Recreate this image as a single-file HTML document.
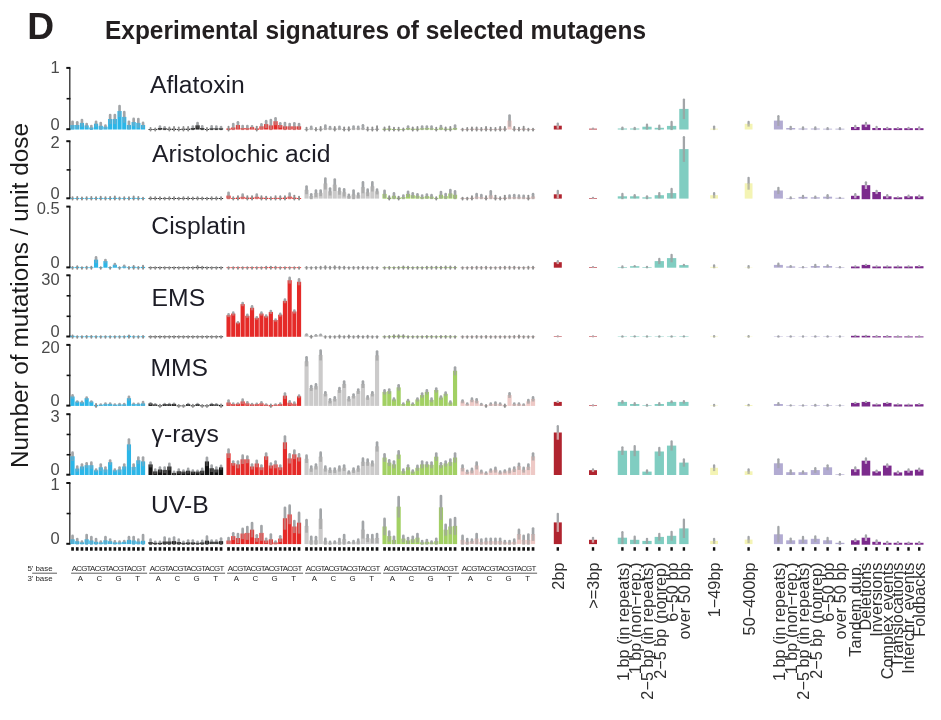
<!DOCTYPE html>
<html lang="en"><head><meta charset="utf-8"><title>Experimental signatures of selected mutagens</title>
<style>html,body{margin:0;padding:0;background:#fff}svg{display:block}</style></head>
<body>
<svg width="941" height="720" viewBox="0 0 941 720" font-family="'Liberation Sans', Arial, Helvetica, sans-serif">
<rect width="941" height="720" fill="#ffffff"/>
<text x="27.3" y="38.8" font-size="37.2" font-weight="bold" fill="#231f20">D</text>
<text x="105" y="38.7" font-size="25.4" font-weight="bold" fill="#231f20" textLength="541" lengthAdjust="spacingAndGlyphs">Experimental signatures of selected mutagens</text>
<text transform="translate(27.6,468) rotate(-90)" font-size="24.6" fill="#1a1a1a" textLength="345" lengthAdjust="spacingAndGlyphs">Number of mutations / unit dose</text>
<line x1="69.8" x2="69.8" y1="67.9" y2="129.5" stroke="#2a2a2a" stroke-width="1.3"/>
<line x1="66.3" x2="70.45" y1="67.9" y2="67.9" stroke="#111" stroke-width="2"/>
<line x1="66.3" x2="70.45" y1="129.2" y2="129.2" stroke="#111" stroke-width="2"/>
<line x1="66.6" x2="70.45" y1="98.7" y2="98.7" stroke="#111" stroke-width="1.6"/>
<text x="59.6" y="72.8" font-size="16.5" fill="#4a4a4a" text-anchor="end">1</text>
<text x="59.6" y="129.6" font-size="16.5" fill="#4a4a4a" text-anchor="end">0</text>
<text x="150.0" y="92.9" font-size="24.7" fill="#1d1d26">Aflatoxin</text>
<g>
<rect x="70.47" y="125" width="4.15" height="4.5" fill="#2bb6e8"/><line x1="72.55" x2="72.55" y1="121.78" y2="125" stroke="#a2a5a8" stroke-width="2.7" stroke-linecap="round"/><line x1="72.55" x2="72.55" y1="125" y2="129.3" stroke="#5caed0" stroke-width="2.7"/>
<rect x="75.17" y="125" width="4.15" height="4.5" fill="#2bb6e8"/><line x1="77.25" x2="77.25" y1="122.28" y2="125" stroke="#a2a5a8" stroke-width="2.7" stroke-linecap="round"/><line x1="77.25" x2="77.25" y1="125" y2="128.8" stroke="#5caed0" stroke-width="2.7"/>
<rect x="79.88" y="122.9" width="4.15" height="6.6" fill="#2bb6e8"/><line x1="81.95" x2="81.95" y1="120.08" y2="122.9" stroke="#a2a5a8" stroke-width="2.7" stroke-linecap="round"/><line x1="81.95" x2="81.95" y1="122.9" y2="126.8" stroke="#5caed0" stroke-width="2.7"/>
<rect x="84.58" y="125.4" width="4.15" height="4.1" fill="#2bb6e8"/><line x1="86.65" x2="86.65" y1="123.98" y2="125.4" stroke="#a2a5a8" stroke-width="2.7" stroke-linecap="round"/><line x1="86.65" x2="86.65" y1="125.4" y2="127.9" stroke="#5caed0" stroke-width="2.7"/>
<rect x="89.27" y="127.5" width="4.15" height="2" fill="#2bb6e8"/><line x1="91.35" x2="91.35" y1="126.08" y2="127.5" stroke="#a2a5a8" stroke-width="2.7" stroke-linecap="round"/><line x1="91.35" x2="91.35" y1="127.5" y2="130" stroke="#5caed0" stroke-width="2.7"/>
<rect x="93.97" y="123.7" width="4.15" height="5.8" fill="#2bb6e8"/><line x1="96.05" x2="96.05" y1="121.78" y2="123.7" stroke="#a2a5a8" stroke-width="2.7" stroke-linecap="round"/><line x1="96.05" x2="96.05" y1="123.7" y2="126.7" stroke="#5caed0" stroke-width="2.7"/>
<rect x="98.67" y="125.8" width="4.15" height="3.7" fill="#2bb6e8"/><line x1="100.75" x2="100.75" y1="123.08" y2="125.8" stroke="#a2a5a8" stroke-width="2.7" stroke-linecap="round"/><line x1="100.75" x2="100.75" y1="125.8" y2="129.6" stroke="#5caed0" stroke-width="2.7"/>
<rect x="103.37" y="126.7" width="4.15" height="2.8" fill="#2bb6e8"/><line x1="105.45" x2="105.45" y1="125.68" y2="126.7" stroke="#a2a5a8" stroke-width="2.7" stroke-linecap="round"/><line x1="105.45" x2="105.45" y1="126.7" y2="128.8" stroke="#5caed0" stroke-width="2.7"/>
<rect x="108.08" y="119" width="4.15" height="10.5" fill="#2bb6e8"/><line x1="110.15" x2="110.15" y1="114.98" y2="119" stroke="#a2a5a8" stroke-width="2.7" stroke-linecap="round"/><line x1="110.15" x2="110.15" y1="119" y2="124.1" stroke="#5caed0" stroke-width="2.7"/>
<rect x="112.77" y="119" width="4.15" height="10.5" fill="#2bb6e8"/><line x1="114.85" x2="114.85" y1="114.98" y2="119" stroke="#a2a5a8" stroke-width="2.7" stroke-linecap="round"/><line x1="114.85" x2="114.85" y1="119" y2="124.1" stroke="#5caed0" stroke-width="2.7"/>
<rect x="117.47" y="111" width="4.15" height="18.5" fill="#2bb6e8"/><line x1="119.55" x2="119.55" y1="106.08" y2="111" stroke="#a2a5a8" stroke-width="2.7" stroke-linecap="round"/><line x1="119.55" x2="119.55" y1="111" y2="117" stroke="#5caed0" stroke-width="2.7"/>
<rect x="122.17" y="116.9" width="4.15" height="12.6" fill="#2bb6e8"/><line x1="124.25" x2="124.25" y1="112.08" y2="116.9" stroke="#a2a5a8" stroke-width="2.7" stroke-linecap="round"/><line x1="124.25" x2="124.25" y1="116.9" y2="122.8" stroke="#5caed0" stroke-width="2.7"/>
<rect x="126.87" y="125" width="4.15" height="4.5" fill="#2bb6e8"/><line x1="128.95" x2="128.95" y1="121.78" y2="125" stroke="#a2a5a8" stroke-width="2.7" stroke-linecap="round"/><line x1="128.95" x2="128.95" y1="125" y2="129.3" stroke="#5caed0" stroke-width="2.7"/>
<rect x="131.58" y="122" width="4.15" height="7.5" fill="#2bb6e8"/><line x1="133.65" x2="133.65" y1="118.88" y2="122" stroke="#a2a5a8" stroke-width="2.7" stroke-linecap="round"/><line x1="133.65" x2="133.65" y1="122" y2="126.2" stroke="#5caed0" stroke-width="2.7"/>
<rect x="136.28" y="122.9" width="4.15" height="6.6" fill="#2bb6e8"/><line x1="138.35" x2="138.35" y1="118.98" y2="122.9" stroke="#a2a5a8" stroke-width="2.7" stroke-linecap="round"/><line x1="138.35" x2="138.35" y1="122.9" y2="127.9" stroke="#5caed0" stroke-width="2.7"/>
<rect x="140.98" y="125" width="4.15" height="4.5" fill="#2bb6e8"/><line x1="143.05" x2="143.05" y1="122.88" y2="125" stroke="#a2a5a8" stroke-width="2.7" stroke-linecap="round"/><line x1="143.05" x2="143.05" y1="125" y2="128.2" stroke="#5caed0" stroke-width="2.7"/>
<rect x="148.48" y="129.05" width="4.15" height="0.85" fill="#111111"/><line x1="150.55" x2="150.55" y1="128" y2="130.5" stroke="#8f8f8f" stroke-width="1.9" stroke-linecap="round"/>
<rect x="153.18" y="129.05" width="4.15" height="0.85" fill="#111111"/><line x1="155.25" x2="155.25" y1="128.5" y2="130.5" stroke="#8f8f8f" stroke-width="1.9" stroke-linecap="round"/>
<rect x="157.88" y="128" width="4.15" height="1.5" fill="#111111"/><line x1="159.95" x2="159.95" y1="126.58" y2="128" stroke="#a2a5a8" stroke-width="2.7" stroke-linecap="round"/><line x1="159.95" x2="159.95" y1="128" y2="130.1" stroke="#444444" stroke-width="2.7"/>
<rect x="162.58" y="128.3" width="4.15" height="1.2" fill="#111111"/><line x1="164.65" x2="164.65" y1="127.28" y2="128.3" stroke="#a2a5a8" stroke-width="2.7" stroke-linecap="round"/><line x1="164.65" x2="164.65" y1="128.3" y2="130.1" stroke="#444444" stroke-width="2.7"/>
<rect x="167.28" y="128.7" width="4.15" height="1.2" fill="#111111"/><line x1="169.35" x2="169.35" y1="127.5" y2="130.5" stroke="#8f8f8f" stroke-width="1.9" stroke-linecap="round"/>
<rect x="171.98" y="128.7" width="4.15" height="1.2" fill="#111111"/><line x1="174.05" x2="174.05" y1="127" y2="130.5" stroke="#8f8f8f" stroke-width="1.9" stroke-linecap="round"/>
<rect x="176.68" y="129" width="4.15" height="0.9" fill="#111111"/><line x1="178.75" x2="178.75" y1="127.5" y2="130.5" stroke="#8f8f8f" stroke-width="1.9" stroke-linecap="round"/>
<rect x="181.38" y="128.7" width="4.15" height="1.2" fill="#111111"/><line x1="183.45" x2="183.45" y1="127" y2="130.5" stroke="#8f8f8f" stroke-width="1.9" stroke-linecap="round"/>
<rect x="186.08" y="128.7" width="4.15" height="1.2" fill="#111111"/><line x1="188.15" x2="188.15" y1="127" y2="130.5" stroke="#8f8f8f" stroke-width="1.9" stroke-linecap="round"/>
<rect x="190.78" y="128" width="4.15" height="1.5" fill="#111111"/><line x1="192.85" x2="192.85" y1="126.58" y2="128" stroke="#a2a5a8" stroke-width="2.7" stroke-linecap="round"/><line x1="192.85" x2="192.85" y1="128" y2="130.1" stroke="#444444" stroke-width="2.7"/>
<rect x="195.48" y="125.3" width="4.15" height="4.2" fill="#111111"/><line x1="197.55" x2="197.55" y1="123.08" y2="125.3" stroke="#a2a5a8" stroke-width="2.7" stroke-linecap="round"/><line x1="197.55" x2="197.55" y1="125.3" y2="128.6" stroke="#444444" stroke-width="2.7"/>
<rect x="200.18" y="128" width="4.15" height="1.5" fill="#111111"/><line x1="202.25" x2="202.25" y1="126.38" y2="128" stroke="#a2a5a8" stroke-width="2.7" stroke-linecap="round"/><line x1="202.25" x2="202.25" y1="128" y2="130.1" stroke="#444444" stroke-width="2.7"/>
<rect x="204.88" y="129" width="4.15" height="0.9" fill="#111111"/><line x1="206.95" x2="206.95" y1="128" y2="130.5" stroke="#8f8f8f" stroke-width="1.9" stroke-linecap="round"/>
<rect x="209.58" y="128.3" width="4.15" height="1.2" fill="#111111"/><line x1="211.65" x2="211.65" y1="126.38" y2="128.3" stroke="#a2a5a8" stroke-width="2.7" stroke-linecap="round"/><line x1="211.65" x2="211.65" y1="128.3" y2="130.1" stroke="#444444" stroke-width="2.7"/>
<rect x="214.28" y="128.3" width="4.15" height="1.2" fill="#111111"/><line x1="216.35" x2="216.35" y1="126.58" y2="128.3" stroke="#a2a5a8" stroke-width="2.7" stroke-linecap="round"/><line x1="216.35" x2="216.35" y1="128.3" y2="130.1" stroke="#444444" stroke-width="2.7"/>
<rect x="218.98" y="128.3" width="4.15" height="1.2" fill="#111111"/><line x1="221.05" x2="221.05" y1="127.08" y2="128.3" stroke="#a2a5a8" stroke-width="2.7" stroke-linecap="round"/><line x1="221.05" x2="221.05" y1="128.3" y2="130.1" stroke="#444444" stroke-width="2.7"/>
<rect x="226.48" y="128.4" width="4.15" height="1.5" fill="#e52a28"/><line x1="228.55" x2="228.55" y1="126.8" y2="130.5" stroke="#8f8f8f" stroke-width="1.9" stroke-linecap="round"/>
<rect x="231.18" y="127.5" width="4.15" height="2" fill="#e52a28"/><line x1="233.25" x2="233.25" y1="124.08" y2="127.5" stroke="#a2a5a8" stroke-width="2.7" stroke-linecap="round"/><line x1="233.25" x2="233.25" y1="127.5" y2="130.1" stroke="#cd6f6d" stroke-width="2.7"/>
<rect x="235.88" y="125" width="4.15" height="4.5" fill="#e52a28"/><line x1="237.95" x2="237.95" y1="122.28" y2="125" stroke="#a2a5a8" stroke-width="2.7" stroke-linecap="round"/><line x1="237.95" x2="237.95" y1="125" y2="128.8" stroke="#cd6f6d" stroke-width="2.7"/>
<rect x="240.58" y="128" width="4.15" height="1.5" fill="#e52a28"/><line x1="242.65" x2="242.65" y1="126.08" y2="128" stroke="#a2a5a8" stroke-width="2.7" stroke-linecap="round"/><line x1="242.65" x2="242.65" y1="128" y2="130.1" stroke="#cd6f6d" stroke-width="2.7"/>
<rect x="245.28" y="128" width="4.15" height="1.5" fill="#e52a28"/><line x1="247.35" x2="247.35" y1="126.08" y2="128" stroke="#a2a5a8" stroke-width="2.7" stroke-linecap="round"/><line x1="247.35" x2="247.35" y1="128" y2="130.1" stroke="#cd6f6d" stroke-width="2.7"/>
<rect x="249.98" y="127.1" width="4.15" height="2.4" fill="#e52a28"/><line x1="252.05" x2="252.05" y1="126.28" y2="127.1" stroke="#a2a5a8" stroke-width="2.7" stroke-linecap="round"/><line x1="252.05" x2="252.05" y1="127.1" y2="129" stroke="#cd6f6d" stroke-width="2.7"/>
<rect x="254.68" y="128.4" width="4.15" height="1.5" fill="#e52a28"/><line x1="256.75" x2="256.75" y1="126.6" y2="130.5" stroke="#8f8f8f" stroke-width="1.9" stroke-linecap="round"/>
<rect x="259.38" y="126.3" width="4.15" height="3.2" fill="#e52a28"/><line x1="261.45" x2="261.45" y1="124.38" y2="126.3" stroke="#a2a5a8" stroke-width="2.7" stroke-linecap="round"/><line x1="261.45" x2="261.45" y1="126.3" y2="129.3" stroke="#cd6f6d" stroke-width="2.7"/>
<rect x="264.08" y="124.1" width="4.15" height="5.4" fill="#e52a28"/><line x1="266.15" x2="266.15" y1="121.18" y2="124.1" stroke="#a2a5a8" stroke-width="2.7" stroke-linecap="round"/><line x1="266.15" x2="266.15" y1="124.1" y2="128.1" stroke="#cd6f6d" stroke-width="2.7"/>
<rect x="268.78" y="125.4" width="4.15" height="4.1" fill="#e52a28"/><line x1="270.85" x2="270.85" y1="120.08" y2="125.4" stroke="#a2a5a8" stroke-width="2.7" stroke-linecap="round"/><line x1="270.85" x2="270.85" y1="125.4" y2="130.1" stroke="#cd6f6d" stroke-width="2.7"/>
<rect x="273.48" y="121.2" width="4.15" height="8.3" fill="#e52a28"/><line x1="275.55" x2="275.55" y1="118.28" y2="121.2" stroke="#a2a5a8" stroke-width="2.7" stroke-linecap="round"/><line x1="275.55" x2="275.55" y1="121.2" y2="125.2" stroke="#cd6f6d" stroke-width="2.7"/>
<rect x="278.18" y="125" width="4.15" height="4.5" fill="#e52a28"/><line x1="280.25" x2="280.25" y1="123.28" y2="125" stroke="#a2a5a8" stroke-width="2.7" stroke-linecap="round"/><line x1="280.25" x2="280.25" y1="125" y2="127.8" stroke="#cd6f6d" stroke-width="2.7"/>
<rect x="282.88" y="126.3" width="4.15" height="3.2" fill="#e52a28"/><line x1="284.95" x2="284.95" y1="123.08" y2="126.3" stroke="#a2a5a8" stroke-width="2.7" stroke-linecap="round"/><line x1="284.95" x2="284.95" y1="126.3" y2="130.1" stroke="#cd6f6d" stroke-width="2.7"/>
<rect x="287.58" y="126.3" width="4.15" height="3.2" fill="#e52a28"/><line x1="289.65" x2="289.65" y1="124.08" y2="126.3" stroke="#a2a5a8" stroke-width="2.7" stroke-linecap="round"/><line x1="289.65" x2="289.65" y1="126.3" y2="129.6" stroke="#cd6f6d" stroke-width="2.7"/>
<rect x="292.28" y="126.3" width="4.15" height="3.2" fill="#e52a28"/><line x1="294.35" x2="294.35" y1="123.28" y2="126.3" stroke="#a2a5a8" stroke-width="2.7" stroke-linecap="round"/><line x1="294.35" x2="294.35" y1="126.3" y2="130.1" stroke="#cd6f6d" stroke-width="2.7"/>
<rect x="296.98" y="126.3" width="4.15" height="3.2" fill="#e52a28"/><line x1="299.05" x2="299.05" y1="123.98" y2="126.3" stroke="#a2a5a8" stroke-width="2.7" stroke-linecap="round"/><line x1="299.05" x2="299.05" y1="126.3" y2="129.7" stroke="#cd6f6d" stroke-width="2.7"/>
<rect x="304.48" y="129" width="4.15" height="0.9" fill="#a8a8a8"/><line x1="306.55" x2="306.55" y1="127.8" y2="130.5" stroke="#8f8f8f" stroke-width="1.9" stroke-linecap="round"/>
<rect x="309.18" y="128.3" width="4.15" height="1.2" fill="#cbcaca"/><line x1="311.25" x2="311.25" y1="126.78" y2="128.3" stroke="#a2a5a8" stroke-width="2.7" stroke-linecap="round"/><line x1="311.25" x2="311.25" y1="128.3" y2="130.1" stroke="#adadad" stroke-width="2.7"/>
<rect x="313.88" y="129.05" width="4.15" height="0.85" fill="#a8a8a8"/><line x1="315.95" x2="315.95" y1="128" y2="130.5" stroke="#8f8f8f" stroke-width="1.9" stroke-linecap="round"/>
<rect x="318.58" y="128.7" width="4.15" height="1.2" fill="#a8a8a8"/><line x1="320.65" x2="320.65" y1="127" y2="130.5" stroke="#8f8f8f" stroke-width="1.9" stroke-linecap="round"/>
<rect x="323.28" y="128" width="4.15" height="1.5" fill="#cbcaca"/><line x1="325.35" x2="325.35" y1="125.58" y2="128" stroke="#a2a5a8" stroke-width="2.7" stroke-linecap="round"/><line x1="325.35" x2="325.35" y1="128" y2="130.1" stroke="#adadad" stroke-width="2.7"/>
<rect x="327.98" y="128.3" width="4.15" height="1.2" fill="#cbcaca"/><line x1="330.05" x2="330.05" y1="127.08" y2="128.3" stroke="#a2a5a8" stroke-width="2.7" stroke-linecap="round"/><line x1="330.05" x2="330.05" y1="128.3" y2="130.1" stroke="#adadad" stroke-width="2.7"/>
<rect x="332.68" y="128.5" width="4.15" height="1.4" fill="#a8a8a8"/><line x1="334.75" x2="334.75" y1="127" y2="130.5" stroke="#8f8f8f" stroke-width="1.9" stroke-linecap="round"/>
<rect x="337.38" y="128.3" width="4.15" height="1.2" fill="#cbcaca"/><line x1="339.45" x2="339.45" y1="126.78" y2="128.3" stroke="#a2a5a8" stroke-width="2.7" stroke-linecap="round"/><line x1="339.45" x2="339.45" y1="128.3" y2="130.1" stroke="#adadad" stroke-width="2.7"/>
<rect x="342.08" y="129" width="4.15" height="0.9" fill="#a8a8a8"/><line x1="344.15" x2="344.15" y1="127.5" y2="130.5" stroke="#8f8f8f" stroke-width="1.9" stroke-linecap="round"/>
<rect x="346.78" y="128.7" width="4.15" height="1.2" fill="#a8a8a8"/><line x1="348.85" x2="348.85" y1="127.2" y2="130.5" stroke="#8f8f8f" stroke-width="1.9" stroke-linecap="round"/>
<rect x="351.48" y="128.3" width="4.15" height="1.2" fill="#cbcaca"/><line x1="353.55" x2="353.55" y1="126.58" y2="128.3" stroke="#a2a5a8" stroke-width="2.7" stroke-linecap="round"/><line x1="353.55" x2="353.55" y1="128.3" y2="130.1" stroke="#adadad" stroke-width="2.7"/>
<rect x="356.18" y="128.3" width="4.15" height="1.2" fill="#cbcaca"/><line x1="358.25" x2="358.25" y1="126.78" y2="128.3" stroke="#a2a5a8" stroke-width="2.7" stroke-linecap="round"/><line x1="358.25" x2="358.25" y1="128.3" y2="130.1" stroke="#adadad" stroke-width="2.7"/>
<rect x="360.88" y="128" width="4.15" height="1.5" fill="#cbcaca"/><line x1="362.95" x2="362.95" y1="125.28" y2="128" stroke="#a2a5a8" stroke-width="2.7" stroke-linecap="round"/><line x1="362.95" x2="362.95" y1="128" y2="130.1" stroke="#adadad" stroke-width="2.7"/>
<rect x="365.58" y="129" width="4.15" height="0.9" fill="#a8a8a8"/><line x1="367.65" x2="367.65" y1="127.5" y2="130.5" stroke="#8f8f8f" stroke-width="1.9" stroke-linecap="round"/>
<rect x="370.28" y="129" width="4.15" height="0.9" fill="#a8a8a8"/><line x1="372.35" x2="372.35" y1="127.5" y2="130.5" stroke="#8f8f8f" stroke-width="1.9" stroke-linecap="round"/>
<rect x="374.98" y="128.7" width="4.15" height="1.2" fill="#a8a8a8"/><line x1="377.05" x2="377.05" y1="126.2" y2="130.5" stroke="#8f8f8f" stroke-width="1.9" stroke-linecap="round"/>
<rect x="382.48" y="128.7" width="4.15" height="1.2" fill="#94b765"/><line x1="384.55" x2="384.55" y1="127.5" y2="130.5" stroke="#8f8f8f" stroke-width="1.9" stroke-linecap="round"/>
<rect x="387.18" y="128.5" width="4.15" height="1.4" fill="#94b765"/><line x1="389.25" x2="389.25" y1="126.5" y2="130.5" stroke="#8f8f8f" stroke-width="1.9" stroke-linecap="round"/>
<rect x="391.88" y="129" width="4.15" height="0.9" fill="#94b765"/><line x1="393.95" x2="393.95" y1="127.8" y2="130.5" stroke="#8f8f8f" stroke-width="1.9" stroke-linecap="round"/>
<rect x="396.58" y="129" width="4.15" height="0.9" fill="#94b765"/><line x1="398.65" x2="398.65" y1="127.8" y2="130.5" stroke="#8f8f8f" stroke-width="1.9" stroke-linecap="round"/>
<rect x="401.28" y="129.05" width="4.15" height="0.85" fill="#94b765"/><line x1="403.35" x2="403.35" y1="128.5" y2="130.5" stroke="#8f8f8f" stroke-width="1.9" stroke-linecap="round"/>
<rect x="405.98" y="128" width="4.15" height="1.5" fill="#a2d063"/><line x1="408.05" x2="408.05" y1="126.58" y2="128" stroke="#a2a5a8" stroke-width="2.7" stroke-linecap="round"/><line x1="408.05" x2="408.05" y1="128" y2="130.1" stroke="#a1b08e" stroke-width="2.7"/>
<rect x="410.68" y="128.7" width="4.15" height="1.2" fill="#94b765"/><line x1="412.75" x2="412.75" y1="127.5" y2="130.5" stroke="#8f8f8f" stroke-width="1.9" stroke-linecap="round"/>
<rect x="415.38" y="128.7" width="4.15" height="1.2" fill="#94b765"/><line x1="417.45" x2="417.45" y1="127" y2="130.5" stroke="#8f8f8f" stroke-width="1.9" stroke-linecap="round"/>
<rect x="420.08" y="128.3" width="4.15" height="1.2" fill="#a2d063"/><line x1="422.15" x2="422.15" y1="126.58" y2="128.3" stroke="#a2a5a8" stroke-width="2.7" stroke-linecap="round"/><line x1="422.15" x2="422.15" y1="128.3" y2="130.1" stroke="#a1b08e" stroke-width="2.7"/>
<rect x="424.78" y="128" width="4.15" height="1.5" fill="#a2d063"/><line x1="426.85" x2="426.85" y1="126.58" y2="128" stroke="#a2a5a8" stroke-width="2.7" stroke-linecap="round"/><line x1="426.85" x2="426.85" y1="128" y2="130.1" stroke="#a1b08e" stroke-width="2.7"/>
<rect x="429.48" y="128.3" width="4.15" height="1.2" fill="#a2d063"/><line x1="431.55" x2="431.55" y1="126.58" y2="128.3" stroke="#a2a5a8" stroke-width="2.7" stroke-linecap="round"/><line x1="431.55" x2="431.55" y1="128.3" y2="130.1" stroke="#a1b08e" stroke-width="2.7"/>
<rect x="434.18" y="129" width="4.15" height="0.9" fill="#94b765"/><line x1="436.25" x2="436.25" y1="127.8" y2="130.5" stroke="#8f8f8f" stroke-width="1.9" stroke-linecap="round"/>
<rect x="438.88" y="127.7" width="4.15" height="1.8" fill="#a2d063"/><line x1="440.95" x2="440.95" y1="126.08" y2="127.7" stroke="#a2a5a8" stroke-width="2.7" stroke-linecap="round"/><line x1="440.95" x2="440.95" y1="127.7" y2="130.1" stroke="#a1b08e" stroke-width="2.7"/>
<rect x="443.58" y="128.7" width="4.15" height="1.2" fill="#94b765"/><line x1="445.65" x2="445.65" y1="127.5" y2="130.5" stroke="#8f8f8f" stroke-width="1.9" stroke-linecap="round"/>
<rect x="448.28" y="128.7" width="4.15" height="1.2" fill="#94b765"/><line x1="450.35" x2="450.35" y1="127" y2="130.5" stroke="#8f8f8f" stroke-width="1.9" stroke-linecap="round"/>
<rect x="452.98" y="128" width="4.15" height="1.5" fill="#a2d063"/><line x1="455.05" x2="455.05" y1="125.58" y2="128" stroke="#a2a5a8" stroke-width="2.7" stroke-linecap="round"/><line x1="455.05" x2="455.05" y1="128" y2="130.1" stroke="#a1b08e" stroke-width="2.7"/>
<rect x="460.48" y="129.05" width="4.15" height="0.85" fill="#c3a9a7"/><line x1="462.55" x2="462.55" y1="128.8" y2="130.5" stroke="#8f8f8f" stroke-width="1.9" stroke-linecap="round"/>
<rect x="465.18" y="129" width="4.15" height="0.9" fill="#c3a9a7"/><line x1="467.25" x2="467.25" y1="128" y2="130.5" stroke="#8f8f8f" stroke-width="1.9" stroke-linecap="round"/>
<rect x="469.88" y="128.7" width="4.15" height="1.2" fill="#c3a9a7"/><line x1="471.95" x2="471.95" y1="127.5" y2="130.5" stroke="#8f8f8f" stroke-width="1.9" stroke-linecap="round"/>
<rect x="474.58" y="128.7" width="4.15" height="1.2" fill="#c3a9a7"/><line x1="476.65" x2="476.65" y1="127.5" y2="130.5" stroke="#8f8f8f" stroke-width="1.9" stroke-linecap="round"/>
<rect x="479.28" y="129" width="4.15" height="0.9" fill="#c3a9a7"/><line x1="481.35" x2="481.35" y1="128" y2="130.5" stroke="#8f8f8f" stroke-width="1.9" stroke-linecap="round"/>
<rect x="483.98" y="128.7" width="4.15" height="1.2" fill="#c3a9a7"/><line x1="486.05" x2="486.05" y1="127" y2="130.5" stroke="#8f8f8f" stroke-width="1.9" stroke-linecap="round"/>
<rect x="488.68" y="129" width="4.15" height="0.9" fill="#c3a9a7"/><line x1="490.75" x2="490.75" y1="127.8" y2="130.5" stroke="#8f8f8f" stroke-width="1.9" stroke-linecap="round"/>
<rect x="493.38" y="129" width="4.15" height="0.9" fill="#c3a9a7"/><line x1="495.45" x2="495.45" y1="128" y2="130.5" stroke="#8f8f8f" stroke-width="1.9" stroke-linecap="round"/>
<rect x="498.08" y="128.7" width="4.15" height="1.2" fill="#c3a9a7"/><line x1="500.15" x2="500.15" y1="127" y2="130.5" stroke="#8f8f8f" stroke-width="1.9" stroke-linecap="round"/>
<rect x="502.78" y="128.5" width="4.15" height="1.4" fill="#c3a9a7"/><line x1="504.85" x2="504.85" y1="127" y2="130.5" stroke="#8f8f8f" stroke-width="1.9" stroke-linecap="round"/>
<rect x="507.48" y="120.6" width="4.15" height="8.9" fill="#eec9c6"/><line x1="509.55" x2="509.55" y1="115.58" y2="120.6" stroke="#a2a5a8" stroke-width="2.7" stroke-linecap="round"/><line x1="509.55" x2="509.55" y1="120.6" y2="126.7" stroke="#b9adac" stroke-width="2.7"/>
<rect x="512.17" y="128.7" width="4.15" height="1.2" fill="#c3a9a7"/><line x1="514.25" x2="514.25" y1="127" y2="130.5" stroke="#8f8f8f" stroke-width="1.9" stroke-linecap="round"/>
<rect x="516.88" y="129" width="4.15" height="0.9" fill="#c3a9a7"/><line x1="518.95" x2="518.95" y1="127.8" y2="130.5" stroke="#8f8f8f" stroke-width="1.9" stroke-linecap="round"/>
<rect x="521.57" y="128.5" width="4.15" height="1.4" fill="#c3a9a7"/><line x1="523.65" x2="523.65" y1="126.8" y2="130.5" stroke="#8f8f8f" stroke-width="1.9" stroke-linecap="round"/>
<rect x="526.27" y="129.05" width="4.15" height="0.85" fill="#c3a9a7"/><line x1="528.35" x2="528.35" y1="128.8" y2="130.5" stroke="#8f8f8f" stroke-width="1.9" stroke-linecap="round"/>
<rect x="530.97" y="129.05" width="4.15" height="0.85" fill="#c3a9a7"/><line x1="533.05" x2="533.05" y1="128.8" y2="130.5" stroke="#8f8f8f" stroke-width="1.9" stroke-linecap="round"/>
</g>
<g>
<rect x="553.8" y="125.7" width="8" height="3.8" fill="#b0242f"/><line x1="557.8" x2="557.8" y1="123.62" y2="125.7" stroke="#a2a5a8" stroke-width="2.3" stroke-linecap="round"/><line x1="557.8" x2="557.8" y1="125.7" y2="128.7" stroke="#d0a0a2" stroke-width="2.3"/>
<rect x="589" y="128.7" width="8" height="0.8" fill="#b0242f"/><line x1="593" x2="593" y1="128.7" y2="128.7" stroke="#a2a5a8" stroke-width="2.3" stroke-linecap="round"/><line x1="593" x2="593" y1="128.7" y2="129.5" stroke="#d0a0a2" stroke-width="2.3"/>
<rect x="617.75" y="128.5" width="9.3" height="1" fill="#80cdc1"/><line x1="622.4" x2="622.4" y1="127.62" y2="128.5" stroke="#a2a5a8" stroke-width="2.3" stroke-linecap="round"/><line x1="622.4" x2="622.4" y1="128.5" y2="130.1" stroke="#96aaa6" stroke-width="2.3"/>
<rect x="630.05" y="128.5" width="9.3" height="1" fill="#80cdc1"/><line x1="634.7" x2="634.7" y1="127.82" y2="128.5" stroke="#a2a5a8" stroke-width="2.3" stroke-linecap="round"/><line x1="634.7" x2="634.7" y1="128.5" y2="130.1" stroke="#96aaa6" stroke-width="2.3"/>
<rect x="642.35" y="126.7" width="9.3" height="2.8" fill="#80cdc1"/><line x1="647" x2="647" y1="124.72" y2="126.7" stroke="#a2a5a8" stroke-width="2.3" stroke-linecap="round"/><line x1="647" x2="647" y1="126.7" y2="129.6" stroke="#96aaa6" stroke-width="2.3"/>
<rect x="654.65" y="127.8" width="9.3" height="1.7" fill="#80cdc1"/><line x1="659.3" x2="659.3" y1="125.72" y2="127.8" stroke="#a2a5a8" stroke-width="2.3" stroke-linecap="round"/><line x1="659.3" x2="659.3" y1="127.8" y2="130.1" stroke="#96aaa6" stroke-width="2.3"/>
<rect x="666.95" y="125.9" width="9.3" height="3.6" fill="#80cdc1"/><line x1="671.6" x2="671.6" y1="121.92" y2="125.9" stroke="#a2a5a8" stroke-width="2.3" stroke-linecap="round"/><line x1="671.6" x2="671.6" y1="125.9" y2="130.1" stroke="#96aaa6" stroke-width="2.3"/>
<rect x="679.25" y="108.9" width="9.3" height="20.6" fill="#80cdc1"/><line x1="683.9" x2="683.9" y1="99.62" y2="108.9" stroke="#a2a5a8" stroke-width="2.3" stroke-linecap="round"/><line x1="683.9" x2="683.9" y1="108.9" y2="119.1" stroke="#96aaa6" stroke-width="2.3"/>
<rect x="710.2" y="128.7" width="7.8" height="0.8" fill="#f4f4b4"/><line x1="714.1" x2="714.1" y1="126.62" y2="128.7" stroke="#a2a5a8" stroke-width="2.3" stroke-linecap="round"/><line x1="714.1" x2="714.1" y1="128.7" y2="130.1" stroke="#bcbca4" stroke-width="2.3"/>
<rect x="744.7" y="123.8" width="7.8" height="5.7" fill="#f4f4b4"/><line x1="748.6" x2="748.6" y1="121.92" y2="123.8" stroke="#a2a5a8" stroke-width="2.3" stroke-linecap="round"/><line x1="748.6" x2="748.6" y1="123.8" y2="126.6" stroke="#bcbca4" stroke-width="2.3"/>
<rect x="773.9" y="120.6" width="9" height="8.9" fill="#b2abd2"/><line x1="778.4" x2="778.4" y1="116.22" y2="120.6" stroke="#a2a5a8" stroke-width="2.3" stroke-linecap="round"/><line x1="778.4" x2="778.4" y1="120.6" y2="125.9" stroke="#a6a4b2" stroke-width="2.3"/>
<rect x="786.2" y="128" width="9" height="1.5" fill="#b2abd2"/><line x1="790.7" x2="790.7" y1="126.82" y2="128" stroke="#a2a5a8" stroke-width="2.3" stroke-linecap="round"/><line x1="790.7" x2="790.7" y1="128" y2="130.1" stroke="#a6a4b2" stroke-width="2.3"/>
<rect x="798.5" y="128.5" width="9" height="1" fill="#b2abd2"/><line x1="803" x2="803" y1="127.42" y2="128.5" stroke="#a2a5a8" stroke-width="2.3" stroke-linecap="round"/><line x1="803" x2="803" y1="128.5" y2="130.1" stroke="#a6a4b2" stroke-width="2.3"/>
<rect x="810.8" y="128.5" width="9" height="1" fill="#b2abd2"/><line x1="815.3" x2="815.3" y1="127.42" y2="128.5" stroke="#a2a5a8" stroke-width="2.3" stroke-linecap="round"/><line x1="815.3" x2="815.3" y1="128.5" y2="130.1" stroke="#a6a4b2" stroke-width="2.3"/>
<rect x="823.1" y="128.7" width="9" height="0.8" fill="#b2abd2"/><line x1="827.6" x2="827.6" y1="128.22" y2="128.7" stroke="#a2a5a8" stroke-width="2.3" stroke-linecap="round"/><line x1="827.6" x2="827.6" y1="128.7" y2="130.1" stroke="#a6a4b2" stroke-width="2.3"/>
<rect x="835.4" y="128.7" width="9" height="0.8" fill="#b2abd2"/><line x1="839.9" x2="839.9" y1="128.22" y2="128.7" stroke="#a2a5a8" stroke-width="2.3" stroke-linecap="round"/><line x1="839.9" x2="839.9" y1="128.7" y2="130.1" stroke="#a6a4b2" stroke-width="2.3"/>
<rect x="851" y="127" width="8.6" height="3.1" fill="#7b2a8c"/><line x1="855.3" x2="855.3" y1="125.92" y2="127" stroke="#a2a5a8" stroke-width="2.3" stroke-linecap="round"/><line x1="855.3" x2="855.3" y1="127" y2="129" stroke="#c4a2cb" stroke-width="2.3"/>
<rect x="861.65" y="124.6" width="8.6" height="5.5" fill="#7b2a8c"/><line x1="865.95" x2="865.95" y1="123.02" y2="124.6" stroke="#a2a5a8" stroke-width="2.3" stroke-linecap="round"/><line x1="865.95" x2="865.95" y1="124.6" y2="127.1" stroke="#c4a2cb" stroke-width="2.3"/>
<rect x="872.3" y="128" width="8.6" height="2.1" fill="#7b2a8c"/><line x1="876.6" x2="876.6" y1="127.02" y2="128" stroke="#a2a5a8" stroke-width="2.3" stroke-linecap="round"/><line x1="876.6" x2="876.6" y1="128" y2="129.9" stroke="#c4a2cb" stroke-width="2.3"/>
<rect x="882.95" y="128.2" width="8.6" height="1.9" fill="#7b2a8c"/><line x1="887.25" x2="887.25" y1="127.92" y2="128.2" stroke="#a2a5a8" stroke-width="2.3" stroke-linecap="round"/><line x1="887.25" x2="887.25" y1="128.2" y2="129.4" stroke="#c4a2cb" stroke-width="2.3"/>
<rect x="893.6" y="128.2" width="8.6" height="1.9" fill="#7b2a8c"/><line x1="897.9" x2="897.9" y1="128.12" y2="128.2" stroke="#a2a5a8" stroke-width="2.3" stroke-linecap="round"/><line x1="897.9" x2="897.9" y1="128.2" y2="129.2" stroke="#c4a2cb" stroke-width="2.3"/>
<rect x="904.25" y="128.2" width="8.6" height="1.9" fill="#7b2a8c"/><line x1="908.55" x2="908.55" y1="127.92" y2="128.2" stroke="#a2a5a8" stroke-width="2.3" stroke-linecap="round"/><line x1="908.55" x2="908.55" y1="128.2" y2="129.4" stroke="#c4a2cb" stroke-width="2.3"/>
<rect x="914.9" y="128.2" width="8.6" height="1.9" fill="#7b2a8c"/><line x1="919.2" x2="919.2" y1="127.42" y2="128.2" stroke="#a2a5a8" stroke-width="2.3" stroke-linecap="round"/><line x1="919.2" x2="919.2" y1="128.2" y2="129.9" stroke="#c4a2cb" stroke-width="2.3"/>
</g>
<line x1="69.8" x2="69.8" y1="141.2" y2="198.6" stroke="#2a2a2a" stroke-width="1.3"/>
<line x1="66.3" x2="70.45" y1="141.2" y2="141.2" stroke="#111" stroke-width="2"/>
<line x1="66.3" x2="70.45" y1="198.3" y2="198.3" stroke="#111" stroke-width="2"/>
<line x1="66.6" x2="70.45" y1="169.9" y2="169.9" stroke="#111" stroke-width="1.6"/>
<text x="59.6" y="148" font-size="16.5" fill="#4a4a4a" text-anchor="end">2</text>
<text x="59.6" y="198.7" font-size="16.5" fill="#4a4a4a" text-anchor="end">0</text>
<text x="152.0" y="162.4" font-size="24.7" fill="#1d1d26">Aristolochic acid</text>
<g>
<rect x="70.47" y="198.1" width="4.15" height="0.9" fill="#2bb6e8"/><line x1="72.55" x2="72.55" y1="197.1" y2="199.6" stroke="#8f8f8f" stroke-width="1.9" stroke-linecap="round"/>
<rect x="75.17" y="198" width="4.15" height="1" fill="#2bb6e8"/><line x1="77.25" x2="77.25" y1="196.9" y2="199.6" stroke="#8f8f8f" stroke-width="1.9" stroke-linecap="round"/>
<rect x="79.88" y="198.15" width="4.15" height="0.85" fill="#2bb6e8"/><line x1="81.95" x2="81.95" y1="197.5" y2="199.6" stroke="#8f8f8f" stroke-width="1.9" stroke-linecap="round"/>
<rect x="84.58" y="198.1" width="4.15" height="0.9" fill="#2bb6e8"/><line x1="86.65" x2="86.65" y1="197.1" y2="199.6" stroke="#8f8f8f" stroke-width="1.9" stroke-linecap="round"/>
<rect x="89.27" y="198" width="4.15" height="1" fill="#2bb6e8"/><line x1="91.35" x2="91.35" y1="196.9" y2="199.6" stroke="#8f8f8f" stroke-width="1.9" stroke-linecap="round"/>
<rect x="93.97" y="198.1" width="4.15" height="0.9" fill="#2bb6e8"/><line x1="96.05" x2="96.05" y1="197.3" y2="199.6" stroke="#8f8f8f" stroke-width="1.9" stroke-linecap="round"/>
<rect x="98.67" y="197.9" width="4.15" height="1.1" fill="#2bb6e8"/><line x1="100.75" x2="100.75" y1="196.7" y2="199.6" stroke="#8f8f8f" stroke-width="1.9" stroke-linecap="round"/>
<rect x="103.37" y="198.1" width="4.15" height="0.9" fill="#2bb6e8"/><line x1="105.45" x2="105.45" y1="197.1" y2="199.6" stroke="#8f8f8f" stroke-width="1.9" stroke-linecap="round"/>
<rect x="108.08" y="198" width="4.15" height="1" fill="#2bb6e8"/><line x1="110.15" x2="110.15" y1="196.9" y2="199.6" stroke="#8f8f8f" stroke-width="1.9" stroke-linecap="round"/>
<rect x="112.77" y="197.8" width="4.15" height="1.2" fill="#2bb6e8"/><line x1="114.85" x2="114.85" y1="196.5" y2="199.6" stroke="#8f8f8f" stroke-width="1.9" stroke-linecap="round"/>
<rect x="117.47" y="198.15" width="4.15" height="0.85" fill="#2bb6e8"/><line x1="119.55" x2="119.55" y1="197.5" y2="199.6" stroke="#8f8f8f" stroke-width="1.9" stroke-linecap="round"/>
<rect x="122.17" y="198.1" width="4.15" height="0.9" fill="#2bb6e8"/><line x1="124.25" x2="124.25" y1="197.1" y2="199.6" stroke="#8f8f8f" stroke-width="1.9" stroke-linecap="round"/>
<rect x="126.87" y="198.1" width="4.15" height="0.9" fill="#2bb6e8"/><line x1="128.95" x2="128.95" y1="197.3" y2="199.6" stroke="#8f8f8f" stroke-width="1.9" stroke-linecap="round"/>
<rect x="131.58" y="197.8" width="4.15" height="1.2" fill="#2bb6e8"/><line x1="133.65" x2="133.65" y1="196.5" y2="199.6" stroke="#8f8f8f" stroke-width="1.9" stroke-linecap="round"/>
<rect x="136.28" y="198" width="4.15" height="1" fill="#2bb6e8"/><line x1="138.35" x2="138.35" y1="196.9" y2="199.6" stroke="#8f8f8f" stroke-width="1.9" stroke-linecap="round"/>
<rect x="140.98" y="198.15" width="4.15" height="0.85" fill="#2bb6e8"/><line x1="143.05" x2="143.05" y1="197.7" y2="199.6" stroke="#8f8f8f" stroke-width="1.9" stroke-linecap="round"/>
<rect x="148.48" y="198.15" width="4.15" height="0.85" fill="#111111"/><line x1="150.55" x2="150.55" y1="197.3" y2="199.6" stroke="#8f8f8f" stroke-width="1.9" stroke-linecap="round"/>
<rect x="153.18" y="198.1" width="4.15" height="0.9" fill="#111111"/><line x1="155.25" x2="155.25" y1="197.1" y2="199.6" stroke="#8f8f8f" stroke-width="1.9" stroke-linecap="round"/>
<rect x="157.88" y="198.15" width="4.15" height="0.85" fill="#111111"/><line x1="159.95" x2="159.95" y1="197.3" y2="199.6" stroke="#8f8f8f" stroke-width="1.9" stroke-linecap="round"/>
<rect x="162.58" y="198.15" width="4.15" height="0.85" fill="#111111"/><line x1="164.65" x2="164.65" y1="197.6" y2="199.6" stroke="#8f8f8f" stroke-width="1.9" stroke-linecap="round"/>
<rect x="167.28" y="198.15" width="4.15" height="0.85" fill="#111111"/><line x1="169.35" x2="169.35" y1="197.3" y2="199.6" stroke="#8f8f8f" stroke-width="1.9" stroke-linecap="round"/>
<rect x="171.98" y="198.1" width="4.15" height="0.9" fill="#111111"/><line x1="174.05" x2="174.05" y1="197.1" y2="199.6" stroke="#8f8f8f" stroke-width="1.9" stroke-linecap="round"/>
<rect x="176.68" y="198.15" width="4.15" height="0.85" fill="#111111"/><line x1="178.75" x2="178.75" y1="197.6" y2="199.6" stroke="#8f8f8f" stroke-width="1.9" stroke-linecap="round"/>
<rect x="181.38" y="198.15" width="4.15" height="0.85" fill="#111111"/><line x1="183.45" x2="183.45" y1="197.3" y2="199.6" stroke="#8f8f8f" stroke-width="1.9" stroke-linecap="round"/>
<rect x="186.08" y="198.1" width="4.15" height="0.9" fill="#111111"/><line x1="188.15" x2="188.15" y1="197.1" y2="199.6" stroke="#8f8f8f" stroke-width="1.9" stroke-linecap="round"/>
<rect x="190.78" y="198.15" width="4.15" height="0.85" fill="#111111"/><line x1="192.85" x2="192.85" y1="197.5" y2="199.6" stroke="#8f8f8f" stroke-width="1.9" stroke-linecap="round"/>
<rect x="195.48" y="198.15" width="4.15" height="0.85" fill="#111111"/><line x1="197.55" x2="197.55" y1="197.3" y2="199.6" stroke="#8f8f8f" stroke-width="1.9" stroke-linecap="round"/>
<rect x="200.18" y="198.15" width="4.15" height="0.85" fill="#111111"/><line x1="202.25" x2="202.25" y1="197.5" y2="199.6" stroke="#8f8f8f" stroke-width="1.9" stroke-linecap="round"/>
<rect x="204.88" y="198.15" width="4.15" height="0.85" fill="#111111"/><line x1="206.95" x2="206.95" y1="197.6" y2="199.6" stroke="#8f8f8f" stroke-width="1.9" stroke-linecap="round"/>
<rect x="209.58" y="198.1" width="4.15" height="0.9" fill="#111111"/><line x1="211.65" x2="211.65" y1="197.1" y2="199.6" stroke="#8f8f8f" stroke-width="1.9" stroke-linecap="round"/>
<rect x="214.28" y="198.15" width="4.15" height="0.85" fill="#111111"/><line x1="216.35" x2="216.35" y1="197.3" y2="199.6" stroke="#8f8f8f" stroke-width="1.9" stroke-linecap="round"/>
<rect x="218.98" y="198.1" width="4.15" height="0.9" fill="#111111"/><line x1="221.05" x2="221.05" y1="197.1" y2="199.6" stroke="#8f8f8f" stroke-width="1.9" stroke-linecap="round"/>
<rect x="226.48" y="195.6" width="4.15" height="3" fill="#e52a28"/><line x1="228.55" x2="228.55" y1="192.78" y2="195.6" stroke="#a2a5a8" stroke-width="2.7" stroke-linecap="round"/><line x1="228.55" x2="228.55" y1="195.6" y2="199.2" stroke="#cd6f6d" stroke-width="2.7"/>
<rect x="231.18" y="198.1" width="4.15" height="0.9" fill="#e52a28"/><line x1="233.25" x2="233.25" y1="197.1" y2="199.6" stroke="#8f8f8f" stroke-width="1.9" stroke-linecap="round"/>
<rect x="235.88" y="197.6" width="4.15" height="1.4" fill="#e52a28"/><line x1="237.95" x2="237.95" y1="196.1" y2="199.6" stroke="#8f8f8f" stroke-width="1.9" stroke-linecap="round"/>
<rect x="240.58" y="196.8" width="4.15" height="1.8" fill="#e52a28"/><line x1="242.65" x2="242.65" y1="194.68" y2="196.8" stroke="#a2a5a8" stroke-width="2.7" stroke-linecap="round"/><line x1="242.65" x2="242.65" y1="196.8" y2="199.2" stroke="#cd6f6d" stroke-width="2.7"/>
<rect x="245.28" y="197.6" width="4.15" height="1.4" fill="#e52a28"/><line x1="247.35" x2="247.35" y1="196.1" y2="199.6" stroke="#8f8f8f" stroke-width="1.9" stroke-linecap="round"/>
<rect x="249.98" y="197.6" width="4.15" height="1.4" fill="#e52a28"/><line x1="252.05" x2="252.05" y1="196.1" y2="199.6" stroke="#8f8f8f" stroke-width="1.9" stroke-linecap="round"/>
<rect x="254.68" y="196.8" width="4.15" height="1.8" fill="#e52a28"/><line x1="256.75" x2="256.75" y1="194.68" y2="196.8" stroke="#a2a5a8" stroke-width="2.7" stroke-linecap="round"/><line x1="256.75" x2="256.75" y1="196.8" y2="199.2" stroke="#cd6f6d" stroke-width="2.7"/>
<rect x="259.38" y="197.6" width="4.15" height="1.4" fill="#e52a28"/><line x1="261.45" x2="261.45" y1="196.1" y2="199.6" stroke="#8f8f8f" stroke-width="1.9" stroke-linecap="round"/>
<rect x="264.08" y="197.8" width="4.15" height="1.2" fill="#e52a28"/><line x1="266.15" x2="266.15" y1="196.6" y2="199.6" stroke="#8f8f8f" stroke-width="1.9" stroke-linecap="round"/>
<rect x="268.78" y="198.1" width="4.15" height="0.9" fill="#e52a28"/><line x1="270.85" x2="270.85" y1="197.1" y2="199.6" stroke="#8f8f8f" stroke-width="1.9" stroke-linecap="round"/>
<rect x="273.48" y="197.8" width="4.15" height="1.2" fill="#e52a28"/><line x1="275.55" x2="275.55" y1="196.1" y2="199.6" stroke="#8f8f8f" stroke-width="1.9" stroke-linecap="round"/>
<rect x="278.18" y="197.8" width="4.15" height="1.2" fill="#e52a28"/><line x1="280.25" x2="280.25" y1="196.3" y2="199.6" stroke="#8f8f8f" stroke-width="1.9" stroke-linecap="round"/>
<rect x="282.88" y="197.6" width="4.15" height="1.4" fill="#e52a28"/><line x1="284.95" x2="284.95" y1="196.1" y2="199.6" stroke="#8f8f8f" stroke-width="1.9" stroke-linecap="round"/>
<rect x="287.58" y="196.6" width="4.15" height="2" fill="#e52a28"/><line x1="289.65" x2="289.65" y1="193.68" y2="196.6" stroke="#a2a5a8" stroke-width="2.7" stroke-linecap="round"/><line x1="289.65" x2="289.65" y1="196.6" y2="199.2" stroke="#cd6f6d" stroke-width="2.7"/>
<rect x="292.28" y="197.6" width="4.15" height="1.4" fill="#e52a28"/><line x1="294.35" x2="294.35" y1="195.6" y2="199.6" stroke="#8f8f8f" stroke-width="1.9" stroke-linecap="round"/>
<rect x="296.98" y="198.1" width="4.15" height="0.9" fill="#e52a28"/><line x1="299.05" x2="299.05" y1="196.6" y2="199.6" stroke="#8f8f8f" stroke-width="1.9" stroke-linecap="round"/>
<rect x="304.48" y="189.8" width="4.15" height="8.8" fill="#cbcaca"/><line x1="306.55" x2="306.55" y1="186.48" y2="189.8" stroke="#a2a5a8" stroke-width="2.7" stroke-linecap="round"/><line x1="306.55" x2="306.55" y1="189.8" y2="194.2" stroke="#adadad" stroke-width="2.7"/>
<rect x="309.18" y="196.2" width="4.15" height="2.4" fill="#cbcaca"/><line x1="311.25" x2="311.25" y1="194.28" y2="196.2" stroke="#a2a5a8" stroke-width="2.7" stroke-linecap="round"/><line x1="311.25" x2="311.25" y1="196.2" y2="199.2" stroke="#adadad" stroke-width="2.7"/>
<rect x="313.88" y="193.2" width="4.15" height="5.4" fill="#cbcaca"/><line x1="315.95" x2="315.95" y1="190.48" y2="193.2" stroke="#a2a5a8" stroke-width="2.7" stroke-linecap="round"/><line x1="315.95" x2="315.95" y1="193.2" y2="197" stroke="#adadad" stroke-width="2.7"/>
<rect x="318.58" y="192.8" width="4.15" height="5.8" fill="#cbcaca"/><line x1="320.65" x2="320.65" y1="190.48" y2="192.8" stroke="#a2a5a8" stroke-width="2.7" stroke-linecap="round"/><line x1="320.65" x2="320.65" y1="192.8" y2="196.2" stroke="#adadad" stroke-width="2.7"/>
<rect x="323.28" y="183.5" width="4.15" height="15.1" fill="#cbcaca"/><line x1="325.35" x2="325.35" y1="178.58" y2="183.5" stroke="#a2a5a8" stroke-width="2.7" stroke-linecap="round"/><line x1="325.35" x2="325.35" y1="183.5" y2="189.5" stroke="#adadad" stroke-width="2.7"/>
<rect x="327.98" y="191.5" width="4.15" height="7.1" fill="#cbcaca"/><line x1="330.05" x2="330.05" y1="188.58" y2="191.5" stroke="#a2a5a8" stroke-width="2.7" stroke-linecap="round"/><line x1="330.05" x2="330.05" y1="191.5" y2="195.5" stroke="#adadad" stroke-width="2.7"/>
<rect x="332.68" y="184.7" width="4.15" height="13.9" fill="#cbcaca"/><line x1="334.75" x2="334.75" y1="179.48" y2="184.7" stroke="#a2a5a8" stroke-width="2.7" stroke-linecap="round"/><line x1="334.75" x2="334.75" y1="184.7" y2="191" stroke="#adadad" stroke-width="2.7"/>
<rect x="337.38" y="191.1" width="4.15" height="7.5" fill="#cbcaca"/><line x1="339.45" x2="339.45" y1="188.58" y2="191.1" stroke="#a2a5a8" stroke-width="2.7" stroke-linecap="round"/><line x1="339.45" x2="339.45" y1="191.1" y2="194.7" stroke="#adadad" stroke-width="2.7"/>
<rect x="342.08" y="192.4" width="4.15" height="6.2" fill="#cbcaca"/><line x1="344.15" x2="344.15" y1="189.38" y2="192.4" stroke="#a2a5a8" stroke-width="2.7" stroke-linecap="round"/><line x1="344.15" x2="344.15" y1="192.4" y2="196.5" stroke="#adadad" stroke-width="2.7"/>
<rect x="346.78" y="196.2" width="4.15" height="2.4" fill="#cbcaca"/><line x1="348.85" x2="348.85" y1="194.78" y2="196.2" stroke="#a2a5a8" stroke-width="2.7" stroke-linecap="round"/><line x1="348.85" x2="348.85" y1="196.2" y2="198.7" stroke="#adadad" stroke-width="2.7"/>
<rect x="351.48" y="194.5" width="4.15" height="4.1" fill="#cbcaca"/><line x1="353.55" x2="353.55" y1="190.48" y2="194.5" stroke="#a2a5a8" stroke-width="2.7" stroke-linecap="round"/><line x1="353.55" x2="353.55" y1="194.5" y2="199.2" stroke="#adadad" stroke-width="2.7"/>
<rect x="356.18" y="195.4" width="4.15" height="3.2" fill="#cbcaca"/><line x1="358.25" x2="358.25" y1="193.48" y2="195.4" stroke="#a2a5a8" stroke-width="2.7" stroke-linecap="round"/><line x1="358.25" x2="358.25" y1="195.4" y2="198.4" stroke="#adadad" stroke-width="2.7"/>
<rect x="360.88" y="187.3" width="4.15" height="11.3" fill="#cbcaca"/><line x1="362.95" x2="362.95" y1="182.38" y2="187.3" stroke="#a2a5a8" stroke-width="2.7" stroke-linecap="round"/><line x1="362.95" x2="362.95" y1="187.3" y2="193.3" stroke="#adadad" stroke-width="2.7"/>
<rect x="365.58" y="192.4" width="4.15" height="6.2" fill="#cbcaca"/><line x1="367.65" x2="367.65" y1="189.68" y2="192.4" stroke="#a2a5a8" stroke-width="2.7" stroke-linecap="round"/><line x1="367.65" x2="367.65" y1="192.4" y2="196.2" stroke="#adadad" stroke-width="2.7"/>
<rect x="370.28" y="186.4" width="4.15" height="12.2" fill="#cbcaca"/><line x1="372.35" x2="372.35" y1="182.38" y2="186.4" stroke="#a2a5a8" stroke-width="2.7" stroke-linecap="round"/><line x1="372.35" x2="372.35" y1="186.4" y2="191.5" stroke="#adadad" stroke-width="2.7"/>
<rect x="374.98" y="191.5" width="4.15" height="7.1" fill="#cbcaca"/><line x1="377.05" x2="377.05" y1="189.68" y2="191.5" stroke="#a2a5a8" stroke-width="2.7" stroke-linecap="round"/><line x1="377.05" x2="377.05" y1="191.5" y2="194.4" stroke="#adadad" stroke-width="2.7"/>
<rect x="382.48" y="193.9" width="4.15" height="4.7" fill="#a2d063"/><line x1="384.55" x2="384.55" y1="190.78" y2="193.9" stroke="#a2a5a8" stroke-width="2.7" stroke-linecap="round"/><line x1="384.55" x2="384.55" y1="193.9" y2="198.1" stroke="#a1b08e" stroke-width="2.7"/>
<rect x="387.18" y="197.6" width="4.15" height="1.4" fill="#94b765"/><line x1="389.25" x2="389.25" y1="196.1" y2="199.6" stroke="#8f8f8f" stroke-width="1.9" stroke-linecap="round"/>
<rect x="391.88" y="195.8" width="4.15" height="2.8" fill="#a2d063"/><line x1="393.95" x2="393.95" y1="193.38" y2="195.8" stroke="#a2a5a8" stroke-width="2.7" stroke-linecap="round"/><line x1="393.95" x2="393.95" y1="195.8" y2="199.2" stroke="#a1b08e" stroke-width="2.7"/>
<rect x="396.58" y="197.6" width="4.15" height="1.4" fill="#94b765"/><line x1="398.65" x2="398.65" y1="196.6" y2="199.6" stroke="#8f8f8f" stroke-width="1.9" stroke-linecap="round"/>
<rect x="401.28" y="197.1" width="4.15" height="1.5" fill="#a2d063"/><line x1="403.35" x2="403.35" y1="195.58" y2="197.1" stroke="#a2a5a8" stroke-width="2.7" stroke-linecap="round"/><line x1="403.35" x2="403.35" y1="197.1" y2="199.2" stroke="#a1b08e" stroke-width="2.7"/>
<rect x="405.98" y="193.9" width="4.15" height="4.7" fill="#a2d063"/><line x1="408.05" x2="408.05" y1="191.78" y2="193.9" stroke="#a2a5a8" stroke-width="2.7" stroke-linecap="round"/><line x1="408.05" x2="408.05" y1="193.9" y2="197.1" stroke="#a1b08e" stroke-width="2.7"/>
<rect x="410.68" y="195.2" width="4.15" height="3.4" fill="#a2d063"/><line x1="412.75" x2="412.75" y1="193.38" y2="195.2" stroke="#a2a5a8" stroke-width="2.7" stroke-linecap="round"/><line x1="412.75" x2="412.75" y1="195.2" y2="198.1" stroke="#a1b08e" stroke-width="2.7"/>
<rect x="415.38" y="195.8" width="4.15" height="2.8" fill="#a2d063"/><line x1="417.45" x2="417.45" y1="194.28" y2="195.8" stroke="#a2a5a8" stroke-width="2.7" stroke-linecap="round"/><line x1="417.45" x2="417.45" y1="195.8" y2="198.4" stroke="#a1b08e" stroke-width="2.7"/>
<rect x="420.08" y="197.1" width="4.15" height="1.5" fill="#a2d063"/><line x1="422.15" x2="422.15" y1="195.68" y2="197.1" stroke="#a2a5a8" stroke-width="2.7" stroke-linecap="round"/><line x1="422.15" x2="422.15" y1="197.1" y2="199.2" stroke="#a1b08e" stroke-width="2.7"/>
<rect x="424.78" y="196.1" width="4.15" height="2.5" fill="#a2d063"/><line x1="426.85" x2="426.85" y1="194.58" y2="196.1" stroke="#a2a5a8" stroke-width="2.7" stroke-linecap="round"/><line x1="426.85" x2="426.85" y1="196.1" y2="198.7" stroke="#a1b08e" stroke-width="2.7"/>
<rect x="429.48" y="196.6" width="4.15" height="2" fill="#a2d063"/><line x1="431.55" x2="431.55" y1="195.18" y2="196.6" stroke="#a2a5a8" stroke-width="2.7" stroke-linecap="round"/><line x1="431.55" x2="431.55" y1="196.6" y2="199.1" stroke="#a1b08e" stroke-width="2.7"/>
<rect x="434.18" y="198.1" width="4.15" height="0.9" fill="#94b765"/><line x1="436.25" x2="436.25" y1="197.1" y2="199.6" stroke="#8f8f8f" stroke-width="1.9" stroke-linecap="round"/>
<rect x="438.88" y="194.8" width="4.15" height="3.8" fill="#a2d063"/><line x1="440.95" x2="440.95" y1="192.08" y2="194.8" stroke="#a2a5a8" stroke-width="2.7" stroke-linecap="round"/><line x1="440.95" x2="440.95" y1="194.8" y2="198.6" stroke="#a1b08e" stroke-width="2.7"/>
<rect x="443.58" y="196.1" width="4.15" height="2.5" fill="#a2d063"/><line x1="445.65" x2="445.65" y1="194.18" y2="196.1" stroke="#a2a5a8" stroke-width="2.7" stroke-linecap="round"/><line x1="445.65" x2="445.65" y1="196.1" y2="199.1" stroke="#a1b08e" stroke-width="2.7"/>
<rect x="448.28" y="193.5" width="4.15" height="5.1" fill="#a2d063"/><line x1="450.35" x2="450.35" y1="190.18" y2="193.5" stroke="#a2a5a8" stroke-width="2.7" stroke-linecap="round"/><line x1="450.35" x2="450.35" y1="193.5" y2="197.9" stroke="#a1b08e" stroke-width="2.7"/>
<rect x="452.98" y="194.8" width="4.15" height="3.8" fill="#a2d063"/><line x1="455.05" x2="455.05" y1="191.38" y2="194.8" stroke="#a2a5a8" stroke-width="2.7" stroke-linecap="round"/><line x1="455.05" x2="455.05" y1="194.8" y2="199.2" stroke="#a1b08e" stroke-width="2.7"/>
<rect x="460.48" y="198.15" width="4.15" height="0.85" fill="#c3a9a7"/><line x1="462.55" x2="462.55" y1="197.6" y2="199.6" stroke="#8f8f8f" stroke-width="1.9" stroke-linecap="round"/>
<rect x="465.18" y="198.15" width="4.15" height="0.85" fill="#c3a9a7"/><line x1="467.25" x2="467.25" y1="197.6" y2="199.6" stroke="#8f8f8f" stroke-width="1.9" stroke-linecap="round"/>
<rect x="469.88" y="197.8" width="4.15" height="1.2" fill="#c3a9a7"/><line x1="471.95" x2="471.95" y1="196.3" y2="199.6" stroke="#8f8f8f" stroke-width="1.9" stroke-linecap="round"/>
<rect x="474.58" y="196.7" width="4.15" height="1.9" fill="#eec9c6"/><line x1="476.65" x2="476.65" y1="194.18" y2="196.7" stroke="#a2a5a8" stroke-width="2.7" stroke-linecap="round"/><line x1="476.65" x2="476.65" y1="196.7" y2="199.2" stroke="#b9adac" stroke-width="2.7"/>
<rect x="479.28" y="197.1" width="4.15" height="1.5" fill="#eec9c6"/><line x1="481.35" x2="481.35" y1="195.18" y2="197.1" stroke="#a2a5a8" stroke-width="2.7" stroke-linecap="round"/><line x1="481.35" x2="481.35" y1="197.1" y2="199.2" stroke="#b9adac" stroke-width="2.7"/>
<rect x="483.98" y="197.8" width="4.15" height="1.2" fill="#c3a9a7"/><line x1="486.05" x2="486.05" y1="196.1" y2="199.6" stroke="#8f8f8f" stroke-width="1.9" stroke-linecap="round"/>
<rect x="488.68" y="195.4" width="4.15" height="3.2" fill="#eec9c6"/><line x1="490.75" x2="490.75" y1="191.38" y2="195.4" stroke="#a2a5a8" stroke-width="2.7" stroke-linecap="round"/><line x1="490.75" x2="490.75" y1="195.4" y2="199.2" stroke="#b9adac" stroke-width="2.7"/>
<rect x="493.38" y="197.6" width="4.15" height="1.4" fill="#c3a9a7"/><line x1="495.45" x2="495.45" y1="195.6" y2="199.6" stroke="#8f8f8f" stroke-width="1.9" stroke-linecap="round"/>
<rect x="498.08" y="198.1" width="4.15" height="0.9" fill="#c3a9a7"/><line x1="500.15" x2="500.15" y1="197.1" y2="199.6" stroke="#8f8f8f" stroke-width="1.9" stroke-linecap="round"/>
<rect x="502.78" y="197.6" width="4.15" height="1.4" fill="#c3a9a7"/><line x1="504.85" x2="504.85" y1="195.6" y2="199.6" stroke="#8f8f8f" stroke-width="1.9" stroke-linecap="round"/>
<rect x="507.48" y="197.4" width="4.15" height="1.2" fill="#eec9c6"/><line x1="509.55" x2="509.55" y1="195.68" y2="197.4" stroke="#a2a5a8" stroke-width="2.7" stroke-linecap="round"/><line x1="509.55" x2="509.55" y1="197.4" y2="199.2" stroke="#b9adac" stroke-width="2.7"/>
<rect x="512.17" y="197.1" width="4.15" height="1.5" fill="#eec9c6"/><line x1="514.25" x2="514.25" y1="195.18" y2="197.1" stroke="#a2a5a8" stroke-width="2.7" stroke-linecap="round"/><line x1="514.25" x2="514.25" y1="197.1" y2="199.2" stroke="#b9adac" stroke-width="2.7"/>
<rect x="516.88" y="197.4" width="4.15" height="1.2" fill="#eec9c6"/><line x1="518.95" x2="518.95" y1="195.68" y2="197.4" stroke="#a2a5a8" stroke-width="2.7" stroke-linecap="round"/><line x1="518.95" x2="518.95" y1="197.4" y2="199.2" stroke="#b9adac" stroke-width="2.7"/>
<rect x="521.57" y="197.4" width="4.15" height="1.2" fill="#eec9c6"/><line x1="523.65" x2="523.65" y1="195.88" y2="197.4" stroke="#a2a5a8" stroke-width="2.7" stroke-linecap="round"/><line x1="523.65" x2="523.65" y1="197.4" y2="199.2" stroke="#b9adac" stroke-width="2.7"/>
<rect x="526.27" y="197.6" width="4.15" height="1.4" fill="#c3a9a7"/><line x1="528.35" x2="528.35" y1="195.6" y2="199.6" stroke="#8f8f8f" stroke-width="1.9" stroke-linecap="round"/>
<rect x="530.97" y="196.6" width="4.15" height="2" fill="#eec9c6"/><line x1="533.05" x2="533.05" y1="194.18" y2="196.6" stroke="#a2a5a8" stroke-width="2.7" stroke-linecap="round"/><line x1="533.05" x2="533.05" y1="196.6" y2="199.2" stroke="#b9adac" stroke-width="2.7"/>
</g>
<g>
<rect x="553.8" y="194.3" width="8" height="4.3" fill="#b0242f"/><line x1="557.8" x2="557.8" y1="191.02" y2="194.3" stroke="#a2a5a8" stroke-width="2.3" stroke-linecap="round"/><line x1="557.8" x2="557.8" y1="194.3" y2="198.5" stroke="#d0a0a2" stroke-width="2.3"/>
<rect x="589" y="198" width="8" height="0.6" fill="#b0242f"/><line x1="593" x2="593" y1="198" y2="198" stroke="#a2a5a8" stroke-width="2.3" stroke-linecap="round"/><line x1="593" x2="593" y1="198" y2="198.9" stroke="#d0a0a2" stroke-width="2.3"/>
<rect x="617.75" y="196.3" width="9.3" height="2.3" fill="#80cdc1"/><line x1="622.4" x2="622.4" y1="194.02" y2="196.3" stroke="#a2a5a8" stroke-width="2.3" stroke-linecap="round"/><line x1="622.4" x2="622.4" y1="196.3" y2="199.2" stroke="#96aaa6" stroke-width="2.3"/>
<rect x="630.05" y="196.3" width="9.3" height="2.3" fill="#80cdc1"/><line x1="634.7" x2="634.7" y1="195.22" y2="196.3" stroke="#a2a5a8" stroke-width="2.3" stroke-linecap="round"/><line x1="634.7" x2="634.7" y1="196.3" y2="198.3" stroke="#96aaa6" stroke-width="2.3"/>
<rect x="642.35" y="197.3" width="9.3" height="1.3" fill="#80cdc1"/><line x1="647" x2="647" y1="196.32" y2="197.3" stroke="#a2a5a8" stroke-width="2.3" stroke-linecap="round"/><line x1="647" x2="647" y1="197.3" y2="199.2" stroke="#96aaa6" stroke-width="2.3"/>
<rect x="654.65" y="195.2" width="9.3" height="3.4" fill="#80cdc1"/><line x1="659.3" x2="659.3" y1="193.12" y2="195.2" stroke="#a2a5a8" stroke-width="2.3" stroke-linecap="round"/><line x1="659.3" x2="659.3" y1="195.2" y2="198.2" stroke="#96aaa6" stroke-width="2.3"/>
<rect x="666.95" y="193.1" width="9.3" height="5.5" fill="#80cdc1"/><line x1="671.6" x2="671.6" y1="188.92" y2="193.1" stroke="#a2a5a8" stroke-width="2.3" stroke-linecap="round"/><line x1="671.6" x2="671.6" y1="193.1" y2="198.2" stroke="#96aaa6" stroke-width="2.3"/>
<rect x="679.25" y="149.1" width="9.3" height="49.5" fill="#80cdc1"/><line x1="683.9" x2="683.9" y1="137.22" y2="149.1" stroke="#a2a5a8" stroke-width="2.3" stroke-linecap="round"/><line x1="683.9" x2="683.9" y1="149.1" y2="161.9" stroke="#96aaa6" stroke-width="2.3"/>
<rect x="710.2" y="195.2" width="7.8" height="3.4" fill="#f4f4b4"/><line x1="714.1" x2="714.1" y1="193.12" y2="195.2" stroke="#a2a5a8" stroke-width="2.3" stroke-linecap="round"/><line x1="714.1" x2="714.1" y1="195.2" y2="198.2" stroke="#bcbca4" stroke-width="2.3"/>
<rect x="744.7" y="183.3" width="7.8" height="15.3" fill="#f4f4b4"/><line x1="748.6" x2="748.6" y1="177.82" y2="183.3" stroke="#a2a5a8" stroke-width="2.3" stroke-linecap="round"/><line x1="748.6" x2="748.6" y1="183.3" y2="189.7" stroke="#bcbca4" stroke-width="2.3"/>
<rect x="773.9" y="190.5" width="9" height="8.1" fill="#b2abd2"/><line x1="778.4" x2="778.4" y1="187.82" y2="190.5" stroke="#a2a5a8" stroke-width="2.3" stroke-linecap="round"/><line x1="778.4" x2="778.4" y1="190.5" y2="194.1" stroke="#a6a4b2" stroke-width="2.3"/>
<rect x="786.2" y="198" width="9" height="0.6" fill="#b2abd2"/><line x1="790.7" x2="790.7" y1="197.52" y2="198" stroke="#a2a5a8" stroke-width="2.3" stroke-linecap="round"/><line x1="790.7" x2="790.7" y1="198" y2="199.2" stroke="#a6a4b2" stroke-width="2.3"/>
<rect x="798.5" y="196.9" width="9" height="1.7" fill="#b2abd2"/><line x1="803" x2="803" y1="195.92" y2="196.9" stroke="#a2a5a8" stroke-width="2.3" stroke-linecap="round"/><line x1="803" x2="803" y1="196.9" y2="198.8" stroke="#a6a4b2" stroke-width="2.3"/>
<rect x="810.8" y="197.3" width="9" height="1.3" fill="#b2abd2"/><line x1="815.3" x2="815.3" y1="196.72" y2="197.3" stroke="#a2a5a8" stroke-width="2.3" stroke-linecap="round"/><line x1="815.3" x2="815.3" y1="197.3" y2="198.8" stroke="#a6a4b2" stroke-width="2.3"/>
<rect x="823.1" y="196.7" width="9" height="1.9" fill="#b2abd2"/><line x1="827.6" x2="827.6" y1="195.22" y2="196.7" stroke="#a2a5a8" stroke-width="2.3" stroke-linecap="round"/><line x1="827.6" x2="827.6" y1="196.7" y2="199.1" stroke="#a6a4b2" stroke-width="2.3"/>
<rect x="835.4" y="197.8" width="9" height="0.8" fill="#b2abd2"/><line x1="839.9" x2="839.9" y1="197.8" y2="197.8" stroke="#a2a5a8" stroke-width="2.3" stroke-linecap="round"/><line x1="839.9" x2="839.9" y1="197.8" y2="198.7" stroke="#a6a4b2" stroke-width="2.3"/>
<rect x="851" y="195.8" width="8.6" height="3.4" fill="#7b2a8c"/><line x1="855.3" x2="855.3" y1="194.22" y2="195.8" stroke="#a2a5a8" stroke-width="2.3" stroke-linecap="round"/><line x1="855.3" x2="855.3" y1="195.8" y2="198.3" stroke="#c4a2cb" stroke-width="2.3"/>
<rect x="861.65" y="185.2" width="8.6" height="14" fill="#7b2a8c"/><line x1="865.95" x2="865.95" y1="182.32" y2="185.2" stroke="#a2a5a8" stroke-width="2.3" stroke-linecap="round"/><line x1="865.95" x2="865.95" y1="185.2" y2="189" stroke="#c4a2cb" stroke-width="2.3"/>
<rect x="872.3" y="192" width="8.6" height="7.2" fill="#7b2a8c"/><line x1="876.6" x2="876.6" y1="190.82" y2="192" stroke="#a2a5a8" stroke-width="2.3" stroke-linecap="round"/><line x1="876.6" x2="876.6" y1="192" y2="194.1" stroke="#c4a2cb" stroke-width="2.3"/>
<rect x="882.95" y="196.3" width="8.6" height="2.9" fill="#7b2a8c"/><line x1="887.25" x2="887.25" y1="195.22" y2="196.3" stroke="#a2a5a8" stroke-width="2.3" stroke-linecap="round"/><line x1="887.25" x2="887.25" y1="196.3" y2="198.3" stroke="#c4a2cb" stroke-width="2.3"/>
<rect x="893.6" y="197.3" width="8.6" height="1.9" fill="#7b2a8c"/><line x1="897.9" x2="897.9" y1="197.3" y2="197.3" stroke="#a2a5a8" stroke-width="2.3" stroke-linecap="round"/><line x1="897.9" x2="897.9" y1="197.3" y2="197.7" stroke="#c4a2cb" stroke-width="2.3"/>
<rect x="904.25" y="196.3" width="8.6" height="2.9" fill="#7b2a8c"/><line x1="908.55" x2="908.55" y1="195.72" y2="196.3" stroke="#a2a5a8" stroke-width="2.3" stroke-linecap="round"/><line x1="908.55" x2="908.55" y1="196.3" y2="197.8" stroke="#c4a2cb" stroke-width="2.3"/>
<rect x="914.9" y="196.3" width="8.6" height="2.9" fill="#7b2a8c"/><line x1="919.2" x2="919.2" y1="195.72" y2="196.3" stroke="#a2a5a8" stroke-width="2.3" stroke-linecap="round"/><line x1="919.2" x2="919.2" y1="196.3" y2="197.8" stroke="#c4a2cb" stroke-width="2.3"/>
</g>
<line x1="69.8" x2="69.8" y1="206.6" y2="267.7" stroke="#2a2a2a" stroke-width="1.3"/>
<line x1="66.3" x2="70.45" y1="206.6" y2="206.6" stroke="#111" stroke-width="2"/>
<line x1="66.3" x2="70.45" y1="267.4" y2="267.4" stroke="#111" stroke-width="2"/>
<text x="59.6" y="214.4" font-size="16.5" fill="#4a4a4a" text-anchor="end">0.5</text>
<text x="59.6" y="267.8" font-size="16.5" fill="#4a4a4a" text-anchor="end">0</text>
<text x="151.3" y="233.6" font-size="24.7" fill="#1d1d26">Cisplatin</text>
<g>
<rect x="70.47" y="267.25" width="4.15" height="0.85" fill="#2bb6e8"/><line x1="72.55" x2="72.55" y1="267" y2="268.7" stroke="#8f8f8f" stroke-width="1.9" stroke-linecap="round"/>
<rect x="75.17" y="266.9" width="4.15" height="1.2" fill="#2bb6e8"/><line x1="77.25" x2="77.25" y1="266.2" y2="268.7" stroke="#8f8f8f" stroke-width="1.9" stroke-linecap="round"/>
<rect x="79.88" y="267.25" width="4.15" height="0.85" fill="#2bb6e8"/><line x1="81.95" x2="81.95" y1="267.2" y2="268.7" stroke="#8f8f8f" stroke-width="1.9" stroke-linecap="round"/>
<rect x="84.58" y="267.25" width="4.15" height="0.85" fill="#2bb6e8"/><line x1="86.65" x2="86.65" y1="266.7" y2="268.7" stroke="#8f8f8f" stroke-width="1.9" stroke-linecap="round"/>
<rect x="89.27" y="267.25" width="4.15" height="0.85" fill="#2bb6e8"/><line x1="91.35" x2="91.35" y1="266.7" y2="268.7" stroke="#8f8f8f" stroke-width="1.9" stroke-linecap="round"/>
<rect x="93.97" y="259.7" width="4.15" height="8" fill="#2bb6e8"/><line x1="96.05" x2="96.05" y1="257.38" y2="259.7" stroke="#a2a5a8" stroke-width="2.7" stroke-linecap="round"/><line x1="96.05" x2="96.05" y1="259.7" y2="263.1" stroke="#5caed0" stroke-width="2.7"/>
<rect x="98.67" y="267.25" width="4.15" height="0.85" fill="#2bb6e8"/><line x1="100.75" x2="100.75" y1="267.2" y2="268.7" stroke="#8f8f8f" stroke-width="1.9" stroke-linecap="round"/>
<rect x="103.37" y="261.1" width="4.15" height="6.6" fill="#2bb6e8"/><line x1="105.45" x2="105.45" y1="259.98" y2="261.1" stroke="#a2a5a8" stroke-width="2.7" stroke-linecap="round"/><line x1="105.45" x2="105.45" y1="261.1" y2="263.3" stroke="#5caed0" stroke-width="2.7"/>
<rect x="108.08" y="267.25" width="4.15" height="0.85" fill="#2bb6e8"/><line x1="110.15" x2="110.15" y1="267.2" y2="268.7" stroke="#8f8f8f" stroke-width="1.9" stroke-linecap="round"/>
<rect x="112.77" y="264.8" width="4.15" height="2.9" fill="#2bb6e8"/><line x1="114.85" x2="114.85" y1="264.18" y2="264.8" stroke="#a2a5a8" stroke-width="2.7" stroke-linecap="round"/><line x1="114.85" x2="114.85" y1="264.8" y2="266.5" stroke="#5caed0" stroke-width="2.7"/>
<rect x="117.47" y="267.25" width="4.15" height="0.85" fill="#2bb6e8"/><line x1="119.55" x2="119.55" y1="267.2" y2="268.7" stroke="#8f8f8f" stroke-width="1.9" stroke-linecap="round"/>
<rect x="122.17" y="266.5" width="4.15" height="1.2" fill="#2bb6e8"/><line x1="124.25" x2="124.25" y1="265.78" y2="266.5" stroke="#a2a5a8" stroke-width="2.7" stroke-linecap="round"/><line x1="124.25" x2="124.25" y1="266.5" y2="268.3" stroke="#5caed0" stroke-width="2.7"/>
<rect x="126.87" y="267.25" width="4.15" height="0.85" fill="#2bb6e8"/><line x1="128.95" x2="128.95" y1="267" y2="268.7" stroke="#8f8f8f" stroke-width="1.9" stroke-linecap="round"/>
<rect x="131.58" y="266.7" width="4.15" height="1.4" fill="#2bb6e8"/><line x1="133.65" x2="133.65" y1="266" y2="268.7" stroke="#8f8f8f" stroke-width="1.9" stroke-linecap="round"/>
<rect x="136.28" y="267.2" width="4.15" height="0.9" fill="#2bb6e8"/><line x1="138.35" x2="138.35" y1="267" y2="268.7" stroke="#8f8f8f" stroke-width="1.9" stroke-linecap="round"/>
<rect x="140.98" y="266.9" width="4.15" height="1.2" fill="#2bb6e8"/><line x1="143.05" x2="143.05" y1="265.7" y2="268.7" stroke="#8f8f8f" stroke-width="1.9" stroke-linecap="round"/>
<rect x="148.48" y="267.25" width="4.15" height="0.85" fill="#111111"/><line x1="150.55" x2="150.55" y1="267.2" y2="268.7" stroke="#8f8f8f" stroke-width="1.9" stroke-linecap="round"/>
<rect x="153.18" y="267.25" width="4.15" height="0.85" fill="#111111"/><line x1="155.25" x2="155.25" y1="267.2" y2="268.7" stroke="#8f8f8f" stroke-width="1.9" stroke-linecap="round"/>
<rect x="157.88" y="267.25" width="4.15" height="0.85" fill="#111111"/><line x1="159.95" x2="159.95" y1="267.2" y2="268.7" stroke="#8f8f8f" stroke-width="1.9" stroke-linecap="round"/>
<rect x="162.58" y="267.25" width="4.15" height="0.85" fill="#111111"/><line x1="164.65" x2="164.65" y1="267.2" y2="268.7" stroke="#8f8f8f" stroke-width="1.9" stroke-linecap="round"/>
<rect x="167.28" y="267.25" width="4.15" height="0.85" fill="#111111"/><line x1="169.35" x2="169.35" y1="267.2" y2="268.7" stroke="#8f8f8f" stroke-width="1.9" stroke-linecap="round"/>
<rect x="171.98" y="267.25" width="4.15" height="0.85" fill="#111111"/><line x1="174.05" x2="174.05" y1="267.2" y2="268.7" stroke="#8f8f8f" stroke-width="1.9" stroke-linecap="round"/>
<rect x="176.68" y="267.25" width="4.15" height="0.85" fill="#111111"/><line x1="178.75" x2="178.75" y1="267.2" y2="268.7" stroke="#8f8f8f" stroke-width="1.9" stroke-linecap="round"/>
<rect x="181.38" y="267.25" width="4.15" height="0.85" fill="#111111"/><line x1="183.45" x2="183.45" y1="267.2" y2="268.7" stroke="#8f8f8f" stroke-width="1.9" stroke-linecap="round"/>
<rect x="186.08" y="267.25" width="4.15" height="0.85" fill="#111111"/><line x1="188.15" x2="188.15" y1="267.2" y2="268.7" stroke="#8f8f8f" stroke-width="1.9" stroke-linecap="round"/>
<rect x="190.78" y="267.25" width="4.15" height="0.85" fill="#111111"/><line x1="192.85" x2="192.85" y1="267.2" y2="268.7" stroke="#8f8f8f" stroke-width="1.9" stroke-linecap="round"/>
<rect x="195.48" y="266.9" width="4.15" height="1.2" fill="#111111"/><line x1="197.55" x2="197.55" y1="266" y2="268.7" stroke="#8f8f8f" stroke-width="1.9" stroke-linecap="round"/>
<rect x="200.18" y="267.1" width="4.15" height="1" fill="#111111"/><line x1="202.25" x2="202.25" y1="266.6" y2="268.7" stroke="#8f8f8f" stroke-width="1.9" stroke-linecap="round"/>
<rect x="204.88" y="267.25" width="4.15" height="0.85" fill="#111111"/><line x1="206.95" x2="206.95" y1="267.2" y2="268.7" stroke="#8f8f8f" stroke-width="1.9" stroke-linecap="round"/>
<rect x="209.58" y="267.25" width="4.15" height="0.85" fill="#111111"/><line x1="211.65" x2="211.65" y1="267.2" y2="268.7" stroke="#8f8f8f" stroke-width="1.9" stroke-linecap="round"/>
<rect x="214.28" y="267.25" width="4.15" height="0.85" fill="#111111"/><line x1="216.35" x2="216.35" y1="267.2" y2="268.7" stroke="#8f8f8f" stroke-width="1.9" stroke-linecap="round"/>
<rect x="218.98" y="267.25" width="4.15" height="0.85" fill="#111111"/><line x1="221.05" x2="221.05" y1="267.2" y2="268.7" stroke="#8f8f8f" stroke-width="1.9" stroke-linecap="round"/>
<rect x="226.48" y="267.25" width="4.15" height="0.85" fill="#e52a28"/><line x1="228.55" x2="228.55" y1="267.2" y2="268.7" stroke="#8f8f8f" stroke-width="1.9" stroke-linecap="round"/>
<rect x="231.18" y="267.25" width="4.15" height="0.85" fill="#e52a28"/><line x1="233.25" x2="233.25" y1="267.2" y2="268.7" stroke="#8f8f8f" stroke-width="1.9" stroke-linecap="round"/>
<rect x="235.88" y="267.25" width="4.15" height="0.85" fill="#e52a28"/><line x1="237.95" x2="237.95" y1="267.2" y2="268.7" stroke="#8f8f8f" stroke-width="1.9" stroke-linecap="round"/>
<rect x="240.58" y="267.25" width="4.15" height="0.85" fill="#e52a28"/><line x1="242.65" x2="242.65" y1="267.2" y2="268.7" stroke="#8f8f8f" stroke-width="1.9" stroke-linecap="round"/>
<rect x="245.28" y="267.25" width="4.15" height="0.85" fill="#e52a28"/><line x1="247.35" x2="247.35" y1="267.2" y2="268.7" stroke="#8f8f8f" stroke-width="1.9" stroke-linecap="round"/>
<rect x="249.98" y="267.25" width="4.15" height="0.85" fill="#e52a28"/><line x1="252.05" x2="252.05" y1="267.2" y2="268.7" stroke="#8f8f8f" stroke-width="1.9" stroke-linecap="round"/>
<rect x="254.68" y="267.25" width="4.15" height="0.85" fill="#e52a28"/><line x1="256.75" x2="256.75" y1="267.2" y2="268.7" stroke="#8f8f8f" stroke-width="1.9" stroke-linecap="round"/>
<rect x="259.38" y="267.25" width="4.15" height="0.85" fill="#e52a28"/><line x1="261.45" x2="261.45" y1="267.2" y2="268.7" stroke="#8f8f8f" stroke-width="1.9" stroke-linecap="round"/>
<rect x="264.08" y="267.2" width="4.15" height="0.9" fill="#e52a28"/><line x1="266.15" x2="266.15" y1="266.8" y2="268.7" stroke="#8f8f8f" stroke-width="1.9" stroke-linecap="round"/>
<rect x="268.78" y="267.1" width="4.15" height="1" fill="#e52a28"/><line x1="270.85" x2="270.85" y1="266.6" y2="268.7" stroke="#8f8f8f" stroke-width="1.9" stroke-linecap="round"/>
<rect x="273.48" y="267.2" width="4.15" height="0.9" fill="#e52a28"/><line x1="275.55" x2="275.55" y1="266.8" y2="268.7" stroke="#8f8f8f" stroke-width="1.9" stroke-linecap="round"/>
<rect x="278.18" y="267.25" width="4.15" height="0.85" fill="#e52a28"/><line x1="280.25" x2="280.25" y1="267.2" y2="268.7" stroke="#8f8f8f" stroke-width="1.9" stroke-linecap="round"/>
<rect x="282.88" y="267.25" width="4.15" height="0.85" fill="#e52a28"/><line x1="284.95" x2="284.95" y1="267.2" y2="268.7" stroke="#8f8f8f" stroke-width="1.9" stroke-linecap="round"/>
<rect x="287.58" y="267.25" width="4.15" height="0.85" fill="#e52a28"/><line x1="289.65" x2="289.65" y1="267.2" y2="268.7" stroke="#8f8f8f" stroke-width="1.9" stroke-linecap="round"/>
<rect x="292.28" y="267.25" width="4.15" height="0.85" fill="#e52a28"/><line x1="294.35" x2="294.35" y1="267.2" y2="268.7" stroke="#8f8f8f" stroke-width="1.9" stroke-linecap="round"/>
<rect x="296.98" y="267.25" width="4.15" height="0.85" fill="#e52a28"/><line x1="299.05" x2="299.05" y1="267.2" y2="268.7" stroke="#8f8f8f" stroke-width="1.9" stroke-linecap="round"/>
<rect x="304.48" y="267.25" width="4.15" height="0.85" fill="#a8a8a8"/><line x1="306.55" x2="306.55" y1="267" y2="268.7" stroke="#8f8f8f" stroke-width="1.9" stroke-linecap="round"/>
<rect x="309.18" y="267.25" width="4.15" height="0.85" fill="#a8a8a8"/><line x1="311.25" x2="311.25" y1="267.2" y2="268.7" stroke="#8f8f8f" stroke-width="1.9" stroke-linecap="round"/>
<rect x="313.88" y="267.25" width="4.15" height="0.85" fill="#a8a8a8"/><line x1="315.95" x2="315.95" y1="267" y2="268.7" stroke="#8f8f8f" stroke-width="1.9" stroke-linecap="round"/>
<rect x="318.58" y="267.25" width="4.15" height="0.85" fill="#a8a8a8"/><line x1="320.65" x2="320.65" y1="266.8" y2="268.7" stroke="#8f8f8f" stroke-width="1.9" stroke-linecap="round"/>
<rect x="323.28" y="266.9" width="4.15" height="1.2" fill="#a8a8a8"/><line x1="325.35" x2="325.35" y1="266.2" y2="268.7" stroke="#8f8f8f" stroke-width="1.9" stroke-linecap="round"/>
<rect x="327.98" y="267.25" width="4.15" height="0.85" fill="#a8a8a8"/><line x1="330.05" x2="330.05" y1="266.8" y2="268.7" stroke="#8f8f8f" stroke-width="1.9" stroke-linecap="round"/>
<rect x="332.68" y="266.9" width="4.15" height="1.2" fill="#a8a8a8"/><line x1="334.75" x2="334.75" y1="266.2" y2="268.7" stroke="#8f8f8f" stroke-width="1.9" stroke-linecap="round"/>
<rect x="337.38" y="267.1" width="4.15" height="1" fill="#a8a8a8"/><line x1="339.45" x2="339.45" y1="266.6" y2="268.7" stroke="#8f8f8f" stroke-width="1.9" stroke-linecap="round"/>
<rect x="342.08" y="267.2" width="4.15" height="0.9" fill="#a8a8a8"/><line x1="344.15" x2="344.15" y1="266.7" y2="268.7" stroke="#8f8f8f" stroke-width="1.9" stroke-linecap="round"/>
<rect x="346.78" y="267.25" width="4.15" height="0.85" fill="#a8a8a8"/><line x1="348.85" x2="348.85" y1="267.2" y2="268.7" stroke="#8f8f8f" stroke-width="1.9" stroke-linecap="round"/>
<rect x="351.48" y="267.25" width="4.15" height="0.85" fill="#a8a8a8"/><line x1="353.55" x2="353.55" y1="267" y2="268.7" stroke="#8f8f8f" stroke-width="1.9" stroke-linecap="round"/>
<rect x="356.18" y="267.25" width="4.15" height="0.85" fill="#a8a8a8"/><line x1="358.25" x2="358.25" y1="267" y2="268.7" stroke="#8f8f8f" stroke-width="1.9" stroke-linecap="round"/>
<rect x="360.88" y="267.25" width="4.15" height="0.85" fill="#a8a8a8"/><line x1="362.95" x2="362.95" y1="266.8" y2="268.7" stroke="#8f8f8f" stroke-width="1.9" stroke-linecap="round"/>
<rect x="365.58" y="267.25" width="4.15" height="0.85" fill="#a8a8a8"/><line x1="367.65" x2="367.65" y1="267.2" y2="268.7" stroke="#8f8f8f" stroke-width="1.9" stroke-linecap="round"/>
<rect x="370.28" y="267.25" width="4.15" height="0.85" fill="#a8a8a8"/><line x1="372.35" x2="372.35" y1="267" y2="268.7" stroke="#8f8f8f" stroke-width="1.9" stroke-linecap="round"/>
<rect x="374.98" y="267.25" width="4.15" height="0.85" fill="#a8a8a8"/><line x1="377.05" x2="377.05" y1="267.2" y2="268.7" stroke="#8f8f8f" stroke-width="1.9" stroke-linecap="round"/>
<rect x="382.48" y="267.25" width="4.15" height="0.85" fill="#94b765"/><line x1="384.55" x2="384.55" y1="267.2" y2="268.7" stroke="#8f8f8f" stroke-width="1.9" stroke-linecap="round"/>
<rect x="387.18" y="267.25" width="4.15" height="0.85" fill="#94b765"/><line x1="389.25" x2="389.25" y1="267" y2="268.7" stroke="#8f8f8f" stroke-width="1.9" stroke-linecap="round"/>
<rect x="391.88" y="267.25" width="4.15" height="0.85" fill="#94b765"/><line x1="393.95" x2="393.95" y1="267.2" y2="268.7" stroke="#8f8f8f" stroke-width="1.9" stroke-linecap="round"/>
<rect x="396.58" y="267.25" width="4.15" height="0.85" fill="#94b765"/><line x1="398.65" x2="398.65" y1="267" y2="268.7" stroke="#8f8f8f" stroke-width="1.9" stroke-linecap="round"/>
<rect x="401.28" y="266.9" width="4.15" height="1.2" fill="#94b765"/><line x1="403.35" x2="403.35" y1="266.4" y2="268.7" stroke="#8f8f8f" stroke-width="1.9" stroke-linecap="round"/>
<rect x="405.98" y="267.2" width="4.15" height="0.9" fill="#94b765"/><line x1="408.05" x2="408.05" y1="266.8" y2="268.7" stroke="#8f8f8f" stroke-width="1.9" stroke-linecap="round"/>
<rect x="410.68" y="267.25" width="4.15" height="0.85" fill="#94b765"/><line x1="412.75" x2="412.75" y1="267.2" y2="268.7" stroke="#8f8f8f" stroke-width="1.9" stroke-linecap="round"/>
<rect x="415.38" y="267.25" width="4.15" height="0.85" fill="#94b765"/><line x1="417.45" x2="417.45" y1="267" y2="268.7" stroke="#8f8f8f" stroke-width="1.9" stroke-linecap="round"/>
<rect x="420.08" y="267.25" width="4.15" height="0.85" fill="#94b765"/><line x1="422.15" x2="422.15" y1="267.2" y2="268.7" stroke="#8f8f8f" stroke-width="1.9" stroke-linecap="round"/>
<rect x="424.78" y="267.25" width="4.15" height="0.85" fill="#94b765"/><line x1="426.85" x2="426.85" y1="266.8" y2="268.7" stroke="#8f8f8f" stroke-width="1.9" stroke-linecap="round"/>
<rect x="429.48" y="267.25" width="4.15" height="0.85" fill="#94b765"/><line x1="431.55" x2="431.55" y1="266.8" y2="268.7" stroke="#8f8f8f" stroke-width="1.9" stroke-linecap="round"/>
<rect x="434.18" y="267.2" width="4.15" height="0.9" fill="#94b765"/><line x1="436.25" x2="436.25" y1="266.6" y2="268.7" stroke="#8f8f8f" stroke-width="1.9" stroke-linecap="round"/>
<rect x="438.88" y="267.25" width="4.15" height="0.85" fill="#94b765"/><line x1="440.95" x2="440.95" y1="266.8" y2="268.7" stroke="#8f8f8f" stroke-width="1.9" stroke-linecap="round"/>
<rect x="443.58" y="267.1" width="4.15" height="1" fill="#94b765"/><line x1="445.65" x2="445.65" y1="266.4" y2="268.7" stroke="#8f8f8f" stroke-width="1.9" stroke-linecap="round"/>
<rect x="448.28" y="267.1" width="4.15" height="1" fill="#94b765"/><line x1="450.35" x2="450.35" y1="266.4" y2="268.7" stroke="#8f8f8f" stroke-width="1.9" stroke-linecap="round"/>
<rect x="452.98" y="267.25" width="4.15" height="0.85" fill="#94b765"/><line x1="455.05" x2="455.05" y1="266.8" y2="268.7" stroke="#8f8f8f" stroke-width="1.9" stroke-linecap="round"/>
<rect x="460.48" y="267.25" width="4.15" height="0.85" fill="#c3a9a7"/><line x1="462.55" x2="462.55" y1="267.2" y2="268.7" stroke="#8f8f8f" stroke-width="1.9" stroke-linecap="round"/>
<rect x="465.18" y="267.25" width="4.15" height="0.85" fill="#c3a9a7"/><line x1="467.25" x2="467.25" y1="267.2" y2="268.7" stroke="#8f8f8f" stroke-width="1.9" stroke-linecap="round"/>
<rect x="469.88" y="267.25" width="4.15" height="0.85" fill="#c3a9a7"/><line x1="471.95" x2="471.95" y1="267" y2="268.7" stroke="#8f8f8f" stroke-width="1.9" stroke-linecap="round"/>
<rect x="474.58" y="267.25" width="4.15" height="0.85" fill="#c3a9a7"/><line x1="476.65" x2="476.65" y1="266.8" y2="268.7" stroke="#8f8f8f" stroke-width="1.9" stroke-linecap="round"/>
<rect x="479.28" y="267.25" width="4.15" height="0.85" fill="#c3a9a7"/><line x1="481.35" x2="481.35" y1="267" y2="268.7" stroke="#8f8f8f" stroke-width="1.9" stroke-linecap="round"/>
<rect x="483.98" y="267.25" width="4.15" height="0.85" fill="#c3a9a7"/><line x1="486.05" x2="486.05" y1="266.8" y2="268.7" stroke="#8f8f8f" stroke-width="1.9" stroke-linecap="round"/>
<rect x="488.68" y="267.25" width="4.15" height="0.85" fill="#c3a9a7"/><line x1="490.75" x2="490.75" y1="267.2" y2="268.7" stroke="#8f8f8f" stroke-width="1.9" stroke-linecap="round"/>
<rect x="493.38" y="267.25" width="4.15" height="0.85" fill="#c3a9a7"/><line x1="495.45" x2="495.45" y1="267.2" y2="268.7" stroke="#8f8f8f" stroke-width="1.9" stroke-linecap="round"/>
<rect x="498.08" y="267.25" width="4.15" height="0.85" fill="#c3a9a7"/><line x1="500.15" x2="500.15" y1="267" y2="268.7" stroke="#8f8f8f" stroke-width="1.9" stroke-linecap="round"/>
<rect x="502.78" y="267.25" width="4.15" height="0.85" fill="#c3a9a7"/><line x1="504.85" x2="504.85" y1="266.8" y2="268.7" stroke="#8f8f8f" stroke-width="1.9" stroke-linecap="round"/>
<rect x="507.48" y="267.25" width="4.15" height="0.85" fill="#c3a9a7"/><line x1="509.55" x2="509.55" y1="266.8" y2="268.7" stroke="#8f8f8f" stroke-width="1.9" stroke-linecap="round"/>
<rect x="512.17" y="267.2" width="4.15" height="0.9" fill="#c3a9a7"/><line x1="514.25" x2="514.25" y1="266.6" y2="268.7" stroke="#8f8f8f" stroke-width="1.9" stroke-linecap="round"/>
<rect x="516.88" y="267.25" width="4.15" height="0.85" fill="#c3a9a7"/><line x1="518.95" x2="518.95" y1="267.2" y2="268.7" stroke="#8f8f8f" stroke-width="1.9" stroke-linecap="round"/>
<rect x="521.57" y="267.25" width="4.15" height="0.85" fill="#c3a9a7"/><line x1="523.65" x2="523.65" y1="267.2" y2="268.7" stroke="#8f8f8f" stroke-width="1.9" stroke-linecap="round"/>
<rect x="526.27" y="267.25" width="4.15" height="0.85" fill="#c3a9a7"/><line x1="528.35" x2="528.35" y1="266.8" y2="268.7" stroke="#8f8f8f" stroke-width="1.9" stroke-linecap="round"/>
<rect x="530.97" y="267.25" width="4.15" height="0.85" fill="#c3a9a7"/><line x1="533.05" x2="533.05" y1="266.8" y2="268.7" stroke="#8f8f8f" stroke-width="1.9" stroke-linecap="round"/>
</g>
<g>
<rect x="553.8" y="262.2" width="8" height="5.5" fill="#b0242f"/><line x1="557.8" x2="557.8" y1="261.22" y2="262.2" stroke="#a2a5a8" stroke-width="2.3" stroke-linecap="round"/><line x1="557.8" x2="557.8" y1="262.2" y2="264.1" stroke="#d0a0a2" stroke-width="2.3"/>
<rect x="589" y="267.1" width="8" height="0.6" fill="#b0242f"/><line x1="593" x2="593" y1="267.1" y2="267.1" stroke="#a2a5a8" stroke-width="2.3" stroke-linecap="round"/><line x1="593" x2="593" y1="267.1" y2="267.8" stroke="#d0a0a2" stroke-width="2.3"/>
<rect x="617.75" y="267.1" width="9.3" height="0.6" fill="#80cdc1"/><line x1="622.4" x2="622.4" y1="266.52" y2="267.1" stroke="#a2a5a8" stroke-width="2.3" stroke-linecap="round"/><line x1="622.4" x2="622.4" y1="267.1" y2="268.3" stroke="#96aaa6" stroke-width="2.3"/>
<rect x="630.05" y="266.2" width="9.3" height="1.5" fill="#80cdc1"/><line x1="634.7" x2="634.7" y1="266.2" y2="266.2" stroke="#a2a5a8" stroke-width="2.3" stroke-linecap="round"/><line x1="634.7" x2="634.7" y1="266.2" y2="267" stroke="#96aaa6" stroke-width="2.3"/>
<rect x="642.35" y="267.1" width="9.3" height="0.6" fill="#80cdc1"/><line x1="647" x2="647" y1="266.92" y2="267.1" stroke="#a2a5a8" stroke-width="2.3" stroke-linecap="round"/><line x1="647" x2="647" y1="267.1" y2="268.2" stroke="#96aaa6" stroke-width="2.3"/>
<rect x="654.65" y="261.1" width="9.3" height="6.6" fill="#80cdc1"/><line x1="659.3" x2="659.3" y1="259.02" y2="261.1" stroke="#a2a5a8" stroke-width="2.3" stroke-linecap="round"/><line x1="659.3" x2="659.3" y1="261.1" y2="264.1" stroke="#96aaa6" stroke-width="2.3"/>
<rect x="666.95" y="258.1" width="9.3" height="9.6" fill="#80cdc1"/><line x1="671.6" x2="671.6" y1="254.82" y2="258.1" stroke="#a2a5a8" stroke-width="2.3" stroke-linecap="round"/><line x1="671.6" x2="671.6" y1="258.1" y2="262.3" stroke="#96aaa6" stroke-width="2.3"/>
<rect x="679.25" y="265.1" width="9.3" height="2.6" fill="#80cdc1"/><line x1="683.9" x2="683.9" y1="265.02" y2="265.1" stroke="#a2a5a8" stroke-width="2.3" stroke-linecap="round"/><line x1="683.9" x2="683.9" y1="265.1" y2="266.1" stroke="#96aaa6" stroke-width="2.3"/>
<rect x="710.2" y="266.9" width="7.8" height="0.8" fill="#f4f4b4"/><line x1="714.1" x2="714.1" y1="265.42" y2="266.9" stroke="#a2a5a8" stroke-width="2.3" stroke-linecap="round"/><line x1="714.1" x2="714.1" y1="266.9" y2="268.3" stroke="#bcbca4" stroke-width="2.3"/>
<rect x="744.7" y="267.4" width="7.8" height="0.3" fill="#f4f4b4"/><line x1="748.6" x2="748.6" y1="266.12" y2="267.4" stroke="#a2a5a8" stroke-width="2.3" stroke-linecap="round"/><line x1="748.6" x2="748.6" y1="267.4" y2="268.3" stroke="#bcbca4" stroke-width="2.3"/>
<rect x="773.9" y="264.9" width="9" height="2.8" fill="#b2abd2"/><line x1="778.4" x2="778.4" y1="263.72" y2="264.9" stroke="#a2a5a8" stroke-width="2.3" stroke-linecap="round"/><line x1="778.4" x2="778.4" y1="264.9" y2="267" stroke="#a6a4b2" stroke-width="2.3"/>
<rect x="786.2" y="266.4" width="9" height="1.3" fill="#b2abd2"/><line x1="790.7" x2="790.7" y1="266.12" y2="266.4" stroke="#a2a5a8" stroke-width="2.3" stroke-linecap="round"/><line x1="790.7" x2="790.7" y1="266.4" y2="267.6" stroke="#a6a4b2" stroke-width="2.3"/>
<rect x="798.5" y="267.2" width="9" height="0.5" fill="#b2abd2"/><line x1="803" x2="803" y1="267.12" y2="267.2" stroke="#a2a5a8" stroke-width="2.3" stroke-linecap="round"/><line x1="803" x2="803" y1="267.2" y2="268.2" stroke="#a6a4b2" stroke-width="2.3"/>
<rect x="810.8" y="266" width="9" height="1.7" fill="#b2abd2"/><line x1="815.3" x2="815.3" y1="265.02" y2="266" stroke="#a2a5a8" stroke-width="2.3" stroke-linecap="round"/><line x1="815.3" x2="815.3" y1="266" y2="267.9" stroke="#a6a4b2" stroke-width="2.3"/>
<rect x="823.1" y="266" width="9" height="1.7" fill="#b2abd2"/><line x1="827.6" x2="827.6" y1="265.42" y2="266" stroke="#a2a5a8" stroke-width="2.3" stroke-linecap="round"/><line x1="827.6" x2="827.6" y1="266" y2="267.5" stroke="#a6a4b2" stroke-width="2.3"/>
<rect x="835.4" y="267.2" width="9" height="0.5" fill="#b2abd2"/><line x1="839.9" x2="839.9" y1="267.12" y2="267.2" stroke="#a2a5a8" stroke-width="2.3" stroke-linecap="round"/><line x1="839.9" x2="839.9" y1="267.2" y2="268.2" stroke="#a6a4b2" stroke-width="2.3"/>
<rect x="851" y="266.5" width="8.6" height="1.8" fill="#7b2a8c"/><line x1="855.3" x2="855.3" y1="266.5" y2="266.5" stroke="#a2a5a8" stroke-width="2.3" stroke-linecap="round"/><line x1="855.3" x2="855.3" y1="266.5" y2="266.8" stroke="#c4a2cb" stroke-width="2.3"/>
<rect x="861.65" y="264.9" width="8.6" height="3.4" fill="#7b2a8c"/><line x1="865.95" x2="865.95" y1="264.9" y2="264.9" stroke="#a2a5a8" stroke-width="2.3" stroke-linecap="round"/><line x1="865.95" x2="865.95" y1="264.9" y2="265.3" stroke="#c4a2cb" stroke-width="2.3"/>
<rect x="872.3" y="266.5" width="8.6" height="1.8" fill="#7b2a8c"/><line x1="876.6" x2="876.6" y1="266.5" y2="266.5" stroke="#a2a5a8" stroke-width="2.3" stroke-linecap="round"/><line x1="876.6" x2="876.6" y1="266.5" y2="267" stroke="#c4a2cb" stroke-width="2.3"/>
<rect x="882.95" y="266.5" width="8.6" height="1.8" fill="#7b2a8c"/><line x1="887.25" x2="887.25" y1="266.5" y2="266.5" stroke="#a2a5a8" stroke-width="2.3" stroke-linecap="round"/><line x1="887.25" x2="887.25" y1="266.5" y2="266.8" stroke="#c4a2cb" stroke-width="2.3"/>
<rect x="893.6" y="266.5" width="8.6" height="1.8" fill="#7b2a8c"/><line x1="897.9" x2="897.9" y1="266.5" y2="266.5" stroke="#a2a5a8" stroke-width="2.3" stroke-linecap="round"/><line x1="897.9" x2="897.9" y1="266.5" y2="266.8" stroke="#c4a2cb" stroke-width="2.3"/>
<rect x="904.25" y="266.5" width="8.6" height="1.8" fill="#7b2a8c"/><line x1="908.55" x2="908.55" y1="266.5" y2="266.5" stroke="#a2a5a8" stroke-width="2.3" stroke-linecap="round"/><line x1="908.55" x2="908.55" y1="266.5" y2="266.8" stroke="#c4a2cb" stroke-width="2.3"/>
<rect x="914.9" y="266.2" width="8.6" height="2.1" fill="#7b2a8c"/><line x1="919.2" x2="919.2" y1="266.2" y2="266.2" stroke="#a2a5a8" stroke-width="2.3" stroke-linecap="round"/><line x1="919.2" x2="919.2" y1="266.2" y2="266.9" stroke="#c4a2cb" stroke-width="2.3"/>
</g>
<line x1="69.8" x2="69.8" y1="275.3" y2="336.8" stroke="#2a2a2a" stroke-width="1.3"/>
<line x1="66.3" x2="70.45" y1="275.3" y2="275.3" stroke="#111" stroke-width="2"/>
<line x1="66.3" x2="70.45" y1="336.5" y2="336.5" stroke="#111" stroke-width="2"/>
<line x1="66.6" x2="70.45" y1="295.8" y2="295.8" stroke="#111" stroke-width="1.6"/>
<line x1="66.6" x2="70.45" y1="316.3" y2="316.3" stroke="#111" stroke-width="1.6"/>
<text x="59.6" y="284.8" font-size="16.5" fill="#4a4a4a" text-anchor="end">30</text>
<text x="59.6" y="336.9" font-size="16.5" fill="#4a4a4a" text-anchor="end">0</text>
<text x="151.6" y="306.3" font-size="24.7" fill="#1d1d26">EMS</text>
<g>
<rect x="70.47" y="335.8" width="4.15" height="1.4" fill="#2bb6e8"/><line x1="72.55" x2="72.55" y1="335.5" y2="337.8" stroke="#8f8f8f" stroke-width="1.9" stroke-linecap="round"/>
<rect x="75.17" y="336.35" width="4.15" height="0.85" fill="#2bb6e8"/><line x1="77.25" x2="77.25" y1="336.3" y2="337.8" stroke="#8f8f8f" stroke-width="1.9" stroke-linecap="round"/>
<rect x="79.88" y="336.35" width="4.15" height="0.85" fill="#2bb6e8"/><line x1="81.95" x2="81.95" y1="336.3" y2="337.8" stroke="#8f8f8f" stroke-width="1.9" stroke-linecap="round"/>
<rect x="84.58" y="336.2" width="4.15" height="1" fill="#2bb6e8"/><line x1="86.65" x2="86.65" y1="336" y2="337.8" stroke="#8f8f8f" stroke-width="1.9" stroke-linecap="round"/>
<rect x="89.27" y="336.2" width="4.15" height="1" fill="#2bb6e8"/><line x1="91.35" x2="91.35" y1="336" y2="337.8" stroke="#8f8f8f" stroke-width="1.9" stroke-linecap="round"/>
<rect x="93.97" y="336.35" width="4.15" height="0.85" fill="#2bb6e8"/><line x1="96.05" x2="96.05" y1="336.1" y2="337.8" stroke="#8f8f8f" stroke-width="1.9" stroke-linecap="round"/>
<rect x="98.67" y="336.35" width="4.15" height="0.85" fill="#2bb6e8"/><line x1="100.75" x2="100.75" y1="336.3" y2="337.8" stroke="#8f8f8f" stroke-width="1.9" stroke-linecap="round"/>
<rect x="103.37" y="336.35" width="4.15" height="0.85" fill="#2bb6e8"/><line x1="105.45" x2="105.45" y1="336.3" y2="337.8" stroke="#8f8f8f" stroke-width="1.9" stroke-linecap="round"/>
<rect x="108.08" y="336.35" width="4.15" height="0.85" fill="#2bb6e8"/><line x1="110.15" x2="110.15" y1="336.3" y2="337.8" stroke="#8f8f8f" stroke-width="1.9" stroke-linecap="round"/>
<rect x="112.77" y="336.35" width="4.15" height="0.85" fill="#2bb6e8"/><line x1="114.85" x2="114.85" y1="336.3" y2="337.8" stroke="#8f8f8f" stroke-width="1.9" stroke-linecap="round"/>
<rect x="117.47" y="336.35" width="4.15" height="0.85" fill="#2bb6e8"/><line x1="119.55" x2="119.55" y1="336.3" y2="337.8" stroke="#8f8f8f" stroke-width="1.9" stroke-linecap="round"/>
<rect x="122.17" y="336.35" width="4.15" height="0.85" fill="#2bb6e8"/><line x1="124.25" x2="124.25" y1="336.3" y2="337.8" stroke="#8f8f8f" stroke-width="1.9" stroke-linecap="round"/>
<rect x="126.87" y="335.8" width="4.15" height="1.4" fill="#2bb6e8"/><line x1="128.95" x2="128.95" y1="335.5" y2="337.8" stroke="#8f8f8f" stroke-width="1.9" stroke-linecap="round"/>
<rect x="131.58" y="336.35" width="4.15" height="0.85" fill="#2bb6e8"/><line x1="133.65" x2="133.65" y1="336.1" y2="337.8" stroke="#8f8f8f" stroke-width="1.9" stroke-linecap="round"/>
<rect x="136.28" y="336.35" width="4.15" height="0.85" fill="#2bb6e8"/><line x1="138.35" x2="138.35" y1="336.3" y2="337.8" stroke="#8f8f8f" stroke-width="1.9" stroke-linecap="round"/>
<rect x="140.98" y="336.3" width="4.15" height="0.9" fill="#2bb6e8"/><line x1="143.05" x2="143.05" y1="335.9" y2="337.8" stroke="#8f8f8f" stroke-width="1.9" stroke-linecap="round"/>
<rect x="148.48" y="336.35" width="4.15" height="0.85" fill="#111111"/><line x1="150.55" x2="150.55" y1="336.3" y2="337.8" stroke="#8f8f8f" stroke-width="1.9" stroke-linecap="round"/>
<rect x="153.18" y="336.35" width="4.15" height="0.85" fill="#111111"/><line x1="155.25" x2="155.25" y1="336.3" y2="337.8" stroke="#8f8f8f" stroke-width="1.9" stroke-linecap="round"/>
<rect x="157.88" y="336.35" width="4.15" height="0.85" fill="#111111"/><line x1="159.95" x2="159.95" y1="336.3" y2="337.8" stroke="#8f8f8f" stroke-width="1.9" stroke-linecap="round"/>
<rect x="162.58" y="336.35" width="4.15" height="0.85" fill="#111111"/><line x1="164.65" x2="164.65" y1="336.3" y2="337.8" stroke="#8f8f8f" stroke-width="1.9" stroke-linecap="round"/>
<rect x="167.28" y="336.35" width="4.15" height="0.85" fill="#111111"/><line x1="169.35" x2="169.35" y1="336.3" y2="337.8" stroke="#8f8f8f" stroke-width="1.9" stroke-linecap="round"/>
<rect x="171.98" y="336.35" width="4.15" height="0.85" fill="#111111"/><line x1="174.05" x2="174.05" y1="336.3" y2="337.8" stroke="#8f8f8f" stroke-width="1.9" stroke-linecap="round"/>
<rect x="176.68" y="336.35" width="4.15" height="0.85" fill="#111111"/><line x1="178.75" x2="178.75" y1="336.3" y2="337.8" stroke="#8f8f8f" stroke-width="1.9" stroke-linecap="round"/>
<rect x="181.38" y="336.35" width="4.15" height="0.85" fill="#111111"/><line x1="183.45" x2="183.45" y1="336.3" y2="337.8" stroke="#8f8f8f" stroke-width="1.9" stroke-linecap="round"/>
<rect x="186.08" y="336.35" width="4.15" height="0.85" fill="#111111"/><line x1="188.15" x2="188.15" y1="336.3" y2="337.8" stroke="#8f8f8f" stroke-width="1.9" stroke-linecap="round"/>
<rect x="190.78" y="336.35" width="4.15" height="0.85" fill="#111111"/><line x1="192.85" x2="192.85" y1="336.3" y2="337.8" stroke="#8f8f8f" stroke-width="1.9" stroke-linecap="round"/>
<rect x="195.48" y="336.35" width="4.15" height="0.85" fill="#111111"/><line x1="197.55" x2="197.55" y1="336.3" y2="337.8" stroke="#8f8f8f" stroke-width="1.9" stroke-linecap="round"/>
<rect x="200.18" y="336.35" width="4.15" height="0.85" fill="#111111"/><line x1="202.25" x2="202.25" y1="336.3" y2="337.8" stroke="#8f8f8f" stroke-width="1.9" stroke-linecap="round"/>
<rect x="204.88" y="336.35" width="4.15" height="0.85" fill="#111111"/><line x1="206.95" x2="206.95" y1="336.3" y2="337.8" stroke="#8f8f8f" stroke-width="1.9" stroke-linecap="round"/>
<rect x="209.58" y="336.35" width="4.15" height="0.85" fill="#111111"/><line x1="211.65" x2="211.65" y1="336.3" y2="337.8" stroke="#8f8f8f" stroke-width="1.9" stroke-linecap="round"/>
<rect x="214.28" y="336.35" width="4.15" height="0.85" fill="#111111"/><line x1="216.35" x2="216.35" y1="336.3" y2="337.8" stroke="#8f8f8f" stroke-width="1.9" stroke-linecap="round"/>
<rect x="218.98" y="336.35" width="4.15" height="0.85" fill="#111111"/><line x1="221.05" x2="221.05" y1="336.3" y2="337.8" stroke="#8f8f8f" stroke-width="1.9" stroke-linecap="round"/>
<rect x="226.48" y="315.2" width="4.15" height="21.6" fill="#e52a28"/><line x1="228.55" x2="228.55" y1="314.38" y2="315.2" stroke="#a2a5a8" stroke-width="2.7" stroke-linecap="round"/><line x1="228.55" x2="228.55" y1="315.2" y2="317.1" stroke="#cd6f6d" stroke-width="2.7"/>
<rect x="231.18" y="313.6" width="4.15" height="23.2" fill="#e52a28"/><line x1="233.25" x2="233.25" y1="312.68" y2="313.6" stroke="#a2a5a8" stroke-width="2.7" stroke-linecap="round"/><line x1="233.25" x2="233.25" y1="313.6" y2="315.6" stroke="#cd6f6d" stroke-width="2.7"/>
<rect x="235.88" y="322.7" width="4.15" height="14.1" fill="#e52a28"/><line x1="237.95" x2="237.95" y1="322.28" y2="322.7" stroke="#a2a5a8" stroke-width="2.7" stroke-linecap="round"/><line x1="237.95" x2="237.95" y1="322.7" y2="324.2" stroke="#cd6f6d" stroke-width="2.7"/>
<rect x="240.58" y="304.1" width="4.15" height="32.7" fill="#e52a28"/><line x1="242.65" x2="242.65" y1="303.08" y2="304.1" stroke="#a2a5a8" stroke-width="2.7" stroke-linecap="round"/><line x1="242.65" x2="242.65" y1="304.1" y2="306.2" stroke="#cd6f6d" stroke-width="2.7"/>
<rect x="245.28" y="315.8" width="4.15" height="21" fill="#e52a28"/><line x1="247.35" x2="247.35" y1="314.88" y2="315.8" stroke="#a2a5a8" stroke-width="2.7" stroke-linecap="round"/><line x1="247.35" x2="247.35" y1="315.8" y2="317.8" stroke="#cd6f6d" stroke-width="2.7"/>
<rect x="249.98" y="307.8" width="4.15" height="29" fill="#e52a28"/><line x1="252.05" x2="252.05" y1="306.38" y2="307.8" stroke="#a2a5a8" stroke-width="2.7" stroke-linecap="round"/><line x1="252.05" x2="252.05" y1="307.8" y2="310.3" stroke="#cd6f6d" stroke-width="2.7"/>
<rect x="254.68" y="317.9" width="4.15" height="18.9" fill="#e52a28"/><line x1="256.75" x2="256.75" y1="317.28" y2="317.9" stroke="#a2a5a8" stroke-width="2.7" stroke-linecap="round"/><line x1="256.75" x2="256.75" y1="317.9" y2="319.6" stroke="#cd6f6d" stroke-width="2.7"/>
<rect x="259.38" y="313.6" width="4.15" height="23.2" fill="#e52a28"/><line x1="261.45" x2="261.45" y1="312.68" y2="313.6" stroke="#a2a5a8" stroke-width="2.7" stroke-linecap="round"/><line x1="261.45" x2="261.45" y1="313.6" y2="315.6" stroke="#cd6f6d" stroke-width="2.7"/>
<rect x="264.08" y="316.3" width="4.15" height="20.5" fill="#e52a28"/><line x1="266.15" x2="266.15" y1="315.58" y2="316.3" stroke="#a2a5a8" stroke-width="2.7" stroke-linecap="round"/><line x1="266.15" x2="266.15" y1="316.3" y2="318.1" stroke="#cd6f6d" stroke-width="2.7"/>
<rect x="268.78" y="312" width="4.15" height="24.8" fill="#e52a28"/><line x1="270.85" x2="270.85" y1="311.08" y2="312" stroke="#a2a5a8" stroke-width="2.7" stroke-linecap="round"/><line x1="270.85" x2="270.85" y1="312" y2="314" stroke="#cd6f6d" stroke-width="2.7"/>
<rect x="273.48" y="320" width="4.15" height="16.8" fill="#e52a28"/><line x1="275.55" x2="275.55" y1="319.48" y2="320" stroke="#a2a5a8" stroke-width="2.7" stroke-linecap="round"/><line x1="275.55" x2="275.55" y1="320" y2="321.6" stroke="#cd6f6d" stroke-width="2.7"/>
<rect x="278.18" y="314.7" width="4.15" height="22.1" fill="#e52a28"/><line x1="280.25" x2="280.25" y1="313.88" y2="314.7" stroke="#a2a5a8" stroke-width="2.7" stroke-linecap="round"/><line x1="280.25" x2="280.25" y1="314.7" y2="316.6" stroke="#cd6f6d" stroke-width="2.7"/>
<rect x="282.88" y="300.9" width="4.15" height="35.9" fill="#e52a28"/><line x1="284.95" x2="284.95" y1="299.68" y2="300.9" stroke="#a2a5a8" stroke-width="2.7" stroke-linecap="round"/><line x1="284.95" x2="284.95" y1="300.9" y2="303.2" stroke="#cd6f6d" stroke-width="2.7"/>
<rect x="287.58" y="280.2" width="4.15" height="56.6" fill="#e52a28"/><line x1="289.65" x2="289.65" y1="277.88" y2="280.2" stroke="#a2a5a8" stroke-width="2.7" stroke-linecap="round"/><line x1="289.65" x2="289.65" y1="280.2" y2="283.6" stroke="#cd6f6d" stroke-width="2.7"/>
<rect x="292.28" y="311.5" width="4.15" height="25.3" fill="#e52a28"/><line x1="294.35" x2="294.35" y1="310.48" y2="311.5" stroke="#a2a5a8" stroke-width="2.7" stroke-linecap="round"/><line x1="294.35" x2="294.35" y1="311.5" y2="313.6" stroke="#cd6f6d" stroke-width="2.7"/>
<rect x="296.98" y="281.8" width="4.15" height="55" fill="#e52a28"/><line x1="299.05" x2="299.05" y1="279.38" y2="281.8" stroke="#a2a5a8" stroke-width="2.7" stroke-linecap="round"/><line x1="299.05" x2="299.05" y1="281.8" y2="285.3" stroke="#cd6f6d" stroke-width="2.7"/>
<rect x="304.48" y="334.6" width="4.15" height="2.2" fill="#cbcaca"/><line x1="306.55" x2="306.55" y1="334.6" y2="334.6" stroke="#a2a5a8" stroke-width="2.7" stroke-linecap="round"/><line x1="306.55" x2="306.55" y1="334.6" y2="335.4" stroke="#adadad" stroke-width="2.7"/>
<rect x="309.18" y="336" width="4.15" height="1.2" fill="#a8a8a8"/><line x1="311.25" x2="311.25" y1="335.8" y2="337.8" stroke="#8f8f8f" stroke-width="1.9" stroke-linecap="round"/>
<rect x="313.88" y="335.3" width="4.15" height="1.5" fill="#cbcaca"/><line x1="315.95" x2="315.95" y1="335.3" y2="335.3" stroke="#a2a5a8" stroke-width="2.7" stroke-linecap="round"/><line x1="315.95" x2="315.95" y1="335.3" y2="336.3" stroke="#adadad" stroke-width="2.7"/>
<rect x="318.58" y="334.8" width="4.15" height="2" fill="#cbcaca"/><line x1="320.65" x2="320.65" y1="334.8" y2="334.8" stroke="#a2a5a8" stroke-width="2.7" stroke-linecap="round"/><line x1="320.65" x2="320.65" y1="334.8" y2="335.8" stroke="#adadad" stroke-width="2.7"/>
<rect x="323.28" y="336.35" width="4.15" height="0.85" fill="#a8a8a8"/><line x1="325.35" x2="325.35" y1="336.1" y2="337.8" stroke="#8f8f8f" stroke-width="1.9" stroke-linecap="round"/>
<rect x="327.98" y="336.35" width="4.15" height="0.85" fill="#a8a8a8"/><line x1="330.05" x2="330.05" y1="336.1" y2="337.8" stroke="#8f8f8f" stroke-width="1.9" stroke-linecap="round"/>
<rect x="332.68" y="336.35" width="4.15" height="0.85" fill="#a8a8a8"/><line x1="334.75" x2="334.75" y1="336.1" y2="337.8" stroke="#8f8f8f" stroke-width="1.9" stroke-linecap="round"/>
<rect x="337.38" y="336" width="4.15" height="1.2" fill="#a8a8a8"/><line x1="339.45" x2="339.45" y1="335.5" y2="337.8" stroke="#8f8f8f" stroke-width="1.9" stroke-linecap="round"/>
<rect x="342.08" y="336.35" width="4.15" height="0.85" fill="#a8a8a8"/><line x1="344.15" x2="344.15" y1="336.1" y2="337.8" stroke="#8f8f8f" stroke-width="1.9" stroke-linecap="round"/>
<rect x="346.78" y="336" width="4.15" height="1.2" fill="#a8a8a8"/><line x1="348.85" x2="348.85" y1="335.5" y2="337.8" stroke="#8f8f8f" stroke-width="1.9" stroke-linecap="round"/>
<rect x="351.48" y="336.35" width="4.15" height="0.85" fill="#a8a8a8"/><line x1="353.55" x2="353.55" y1="336.1" y2="337.8" stroke="#8f8f8f" stroke-width="1.9" stroke-linecap="round"/>
<rect x="356.18" y="336" width="4.15" height="1.2" fill="#a8a8a8"/><line x1="358.25" x2="358.25" y1="335.7" y2="337.8" stroke="#8f8f8f" stroke-width="1.9" stroke-linecap="round"/>
<rect x="360.88" y="336.35" width="4.15" height="0.85" fill="#a8a8a8"/><line x1="362.95" x2="362.95" y1="336.1" y2="337.8" stroke="#8f8f8f" stroke-width="1.9" stroke-linecap="round"/>
<rect x="365.58" y="336.2" width="4.15" height="1" fill="#a8a8a8"/><line x1="367.65" x2="367.65" y1="335.8" y2="337.8" stroke="#8f8f8f" stroke-width="1.9" stroke-linecap="round"/>
<rect x="370.28" y="336.35" width="4.15" height="0.85" fill="#a8a8a8"/><line x1="372.35" x2="372.35" y1="336.1" y2="337.8" stroke="#8f8f8f" stroke-width="1.9" stroke-linecap="round"/>
<rect x="374.98" y="336.35" width="4.15" height="0.85" fill="#a8a8a8"/><line x1="377.05" x2="377.05" y1="336.1" y2="337.8" stroke="#8f8f8f" stroke-width="1.9" stroke-linecap="round"/>
<rect x="382.48" y="336.35" width="4.15" height="0.85" fill="#94b765"/><line x1="384.55" x2="384.55" y1="336.3" y2="337.8" stroke="#8f8f8f" stroke-width="1.9" stroke-linecap="round"/>
<rect x="387.18" y="336.3" width="4.15" height="0.9" fill="#94b765"/><line x1="389.25" x2="389.25" y1="335.9" y2="337.8" stroke="#8f8f8f" stroke-width="1.9" stroke-linecap="round"/>
<rect x="391.88" y="335.8" width="4.15" height="1.4" fill="#94b765"/><line x1="393.95" x2="393.95" y1="335.3" y2="337.8" stroke="#8f8f8f" stroke-width="1.9" stroke-linecap="round"/>
<rect x="396.58" y="335.8" width="4.15" height="1.4" fill="#94b765"/><line x1="398.65" x2="398.65" y1="335.3" y2="337.8" stroke="#8f8f8f" stroke-width="1.9" stroke-linecap="round"/>
<rect x="401.28" y="335.8" width="4.15" height="1.4" fill="#94b765"/><line x1="403.35" x2="403.35" y1="335.3" y2="337.8" stroke="#8f8f8f" stroke-width="1.9" stroke-linecap="round"/>
<rect x="405.98" y="336.35" width="4.15" height="0.85" fill="#94b765"/><line x1="408.05" x2="408.05" y1="336.3" y2="337.8" stroke="#8f8f8f" stroke-width="1.9" stroke-linecap="round"/>
<rect x="410.68" y="336.35" width="4.15" height="0.85" fill="#94b765"/><line x1="412.75" x2="412.75" y1="336.3" y2="337.8" stroke="#8f8f8f" stroke-width="1.9" stroke-linecap="round"/>
<rect x="415.38" y="336.35" width="4.15" height="0.85" fill="#94b765"/><line x1="417.45" x2="417.45" y1="336.3" y2="337.8" stroke="#8f8f8f" stroke-width="1.9" stroke-linecap="round"/>
<rect x="420.08" y="336.35" width="4.15" height="0.85" fill="#94b765"/><line x1="422.15" x2="422.15" y1="336.3" y2="337.8" stroke="#8f8f8f" stroke-width="1.9" stroke-linecap="round"/>
<rect x="424.78" y="336.2" width="4.15" height="1" fill="#94b765"/><line x1="426.85" x2="426.85" y1="335.9" y2="337.8" stroke="#8f8f8f" stroke-width="1.9" stroke-linecap="round"/>
<rect x="429.48" y="336.2" width="4.15" height="1" fill="#94b765"/><line x1="431.55" x2="431.55" y1="335.9" y2="337.8" stroke="#8f8f8f" stroke-width="1.9" stroke-linecap="round"/>
<rect x="434.18" y="336.35" width="4.15" height="0.85" fill="#94b765"/><line x1="436.25" x2="436.25" y1="336.1" y2="337.8" stroke="#8f8f8f" stroke-width="1.9" stroke-linecap="round"/>
<rect x="438.88" y="336.2" width="4.15" height="1" fill="#94b765"/><line x1="440.95" x2="440.95" y1="335.9" y2="337.8" stroke="#8f8f8f" stroke-width="1.9" stroke-linecap="round"/>
<rect x="443.58" y="336.2" width="4.15" height="1" fill="#94b765"/><line x1="445.65" x2="445.65" y1="335.9" y2="337.8" stroke="#8f8f8f" stroke-width="1.9" stroke-linecap="round"/>
<rect x="448.28" y="336.35" width="4.15" height="0.85" fill="#94b765"/><line x1="450.35" x2="450.35" y1="335.9" y2="337.8" stroke="#8f8f8f" stroke-width="1.9" stroke-linecap="round"/>
<rect x="452.98" y="336.35" width="4.15" height="0.85" fill="#94b765"/><line x1="455.05" x2="455.05" y1="336.1" y2="337.8" stroke="#8f8f8f" stroke-width="1.9" stroke-linecap="round"/>
<rect x="460.48" y="336.35" width="4.15" height="0.85" fill="#c3a9a7"/><line x1="462.55" x2="462.55" y1="336.3" y2="337.8" stroke="#8f8f8f" stroke-width="1.9" stroke-linecap="round"/>
<rect x="465.18" y="336.35" width="4.15" height="0.85" fill="#c3a9a7"/><line x1="467.25" x2="467.25" y1="336.3" y2="337.8" stroke="#8f8f8f" stroke-width="1.9" stroke-linecap="round"/>
<rect x="469.88" y="336.35" width="4.15" height="0.85" fill="#c3a9a7"/><line x1="471.95" x2="471.95" y1="336.3" y2="337.8" stroke="#8f8f8f" stroke-width="1.9" stroke-linecap="round"/>
<rect x="474.58" y="336.35" width="4.15" height="0.85" fill="#c3a9a7"/><line x1="476.65" x2="476.65" y1="335.9" y2="337.8" stroke="#8f8f8f" stroke-width="1.9" stroke-linecap="round"/>
<rect x="479.28" y="336.35" width="4.15" height="0.85" fill="#c3a9a7"/><line x1="481.35" x2="481.35" y1="336.3" y2="337.8" stroke="#8f8f8f" stroke-width="1.9" stroke-linecap="round"/>
<rect x="483.98" y="336.35" width="4.15" height="0.85" fill="#c3a9a7"/><line x1="486.05" x2="486.05" y1="335.9" y2="337.8" stroke="#8f8f8f" stroke-width="1.9" stroke-linecap="round"/>
<rect x="488.68" y="336.35" width="4.15" height="0.85" fill="#c3a9a7"/><line x1="490.75" x2="490.75" y1="336.3" y2="337.8" stroke="#8f8f8f" stroke-width="1.9" stroke-linecap="round"/>
<rect x="493.38" y="336.35" width="4.15" height="0.85" fill="#c3a9a7"/><line x1="495.45" x2="495.45" y1="336.3" y2="337.8" stroke="#8f8f8f" stroke-width="1.9" stroke-linecap="round"/>
<rect x="498.08" y="336.35" width="4.15" height="0.85" fill="#c3a9a7"/><line x1="500.15" x2="500.15" y1="336.3" y2="337.8" stroke="#8f8f8f" stroke-width="1.9" stroke-linecap="round"/>
<rect x="502.78" y="336.35" width="4.15" height="0.85" fill="#c3a9a7"/><line x1="504.85" x2="504.85" y1="336.3" y2="337.8" stroke="#8f8f8f" stroke-width="1.9" stroke-linecap="round"/>
<rect x="507.48" y="336.35" width="4.15" height="0.85" fill="#c3a9a7"/><line x1="509.55" x2="509.55" y1="336.3" y2="337.8" stroke="#8f8f8f" stroke-width="1.9" stroke-linecap="round"/>
<rect x="512.17" y="336.35" width="4.15" height="0.85" fill="#c3a9a7"/><line x1="514.25" x2="514.25" y1="335.9" y2="337.8" stroke="#8f8f8f" stroke-width="1.9" stroke-linecap="round"/>
<rect x="516.88" y="336.2" width="4.15" height="1" fill="#c3a9a7"/><line x1="518.95" x2="518.95" y1="335.5" y2="337.8" stroke="#8f8f8f" stroke-width="1.9" stroke-linecap="round"/>
<rect x="521.57" y="336.35" width="4.15" height="0.85" fill="#c3a9a7"/><line x1="523.65" x2="523.65" y1="336.3" y2="337.8" stroke="#8f8f8f" stroke-width="1.9" stroke-linecap="round"/>
<rect x="526.27" y="336.35" width="4.15" height="0.85" fill="#c3a9a7"/><line x1="528.35" x2="528.35" y1="336.3" y2="337.8" stroke="#8f8f8f" stroke-width="1.9" stroke-linecap="round"/>
<rect x="530.97" y="336.35" width="4.15" height="0.85" fill="#c3a9a7"/><line x1="533.05" x2="533.05" y1="336.3" y2="337.8" stroke="#8f8f8f" stroke-width="1.9" stroke-linecap="round"/>
</g>
<g>
<rect x="553.8" y="336.3" width="8" height="0.5" fill="#b0242f"/><line x1="557.8" x2="557.8" y1="336.3" y2="336.3" stroke="#a2a5a8" stroke-width="2.3" stroke-linecap="round"/><line x1="557.8" x2="557.8" y1="336.3" y2="337.1" stroke="#d0a0a2" stroke-width="2.3"/>
<rect x="589" y="336.3" width="8" height="0.5" fill="#b0242f"/><line x1="593" x2="593" y1="336.3" y2="336.3" stroke="#a2a5a8" stroke-width="2.3" stroke-linecap="round"/><line x1="593" x2="593" y1="336.3" y2="337.1" stroke="#d0a0a2" stroke-width="2.3"/>
<rect x="617.75" y="336.4" width="9.3" height="0.4" fill="#80cdc1"/><line x1="622.4" x2="622.4" y1="336.4" y2="336.4" stroke="#a2a5a8" stroke-width="2.3" stroke-linecap="round"/><line x1="622.4" x2="622.4" y1="336.4" y2="337.3" stroke="#96aaa6" stroke-width="2.3"/>
<rect x="630.05" y="336.3" width="9.3" height="0.5" fill="#80cdc1"/><line x1="634.7" x2="634.7" y1="336.3" y2="336.3" stroke="#a2a5a8" stroke-width="2.3" stroke-linecap="round"/><line x1="634.7" x2="634.7" y1="336.3" y2="337.2" stroke="#96aaa6" stroke-width="2.3"/>
<rect x="642.35" y="336.4" width="9.3" height="0.4" fill="#80cdc1"/><line x1="647" x2="647" y1="336.4" y2="336.4" stroke="#a2a5a8" stroke-width="2.3" stroke-linecap="round"/><line x1="647" x2="647" y1="336.4" y2="337.3" stroke="#96aaa6" stroke-width="2.3"/>
<rect x="654.65" y="336.4" width="9.3" height="0.4" fill="#80cdc1"/><line x1="659.3" x2="659.3" y1="336.4" y2="336.4" stroke="#a2a5a8" stroke-width="2.3" stroke-linecap="round"/><line x1="659.3" x2="659.3" y1="336.4" y2="337.3" stroke="#96aaa6" stroke-width="2.3"/>
<rect x="666.95" y="336.4" width="9.3" height="0.4" fill="#80cdc1"/><line x1="671.6" x2="671.6" y1="336.4" y2="336.4" stroke="#a2a5a8" stroke-width="2.3" stroke-linecap="round"/><line x1="671.6" x2="671.6" y1="336.4" y2="337.3" stroke="#96aaa6" stroke-width="2.3"/>
<rect x="679.25" y="336.3" width="9.3" height="0.5" fill="#80cdc1"/><line x1="683.9" x2="683.9" y1="336.3" y2="336.3" stroke="#a2a5a8" stroke-width="2.3" stroke-linecap="round"/><line x1="683.9" x2="683.9" y1="336.3" y2="337.2" stroke="#96aaa6" stroke-width="2.3"/>
<rect x="710.2" y="336.4" width="7.8" height="0.4" fill="#f4f4b4"/><line x1="714.1" x2="714.1" y1="336.12" y2="336.4" stroke="#a2a5a8" stroke-width="2.3" stroke-linecap="round"/><line x1="714.1" x2="714.1" y1="336.4" y2="337.4" stroke="#bcbca4" stroke-width="2.3"/>
<rect x="744.7" y="336.5" width="7.8" height="0.3" fill="#f4f4b4"/><line x1="748.6" x2="748.6" y1="336.22" y2="336.5" stroke="#a2a5a8" stroke-width="2.3" stroke-linecap="round"/><line x1="748.6" x2="748.6" y1="336.5" y2="337.4" stroke="#bcbca4" stroke-width="2.3"/>
<rect x="773.9" y="336.4" width="9" height="0.4" fill="#b2abd2"/><line x1="778.4" x2="778.4" y1="336.4" y2="336.4" stroke="#a2a5a8" stroke-width="2.3" stroke-linecap="round"/><line x1="778.4" x2="778.4" y1="336.4" y2="337.3" stroke="#a6a4b2" stroke-width="2.3"/>
<rect x="786.2" y="336.4" width="9" height="0.4" fill="#b2abd2"/><line x1="790.7" x2="790.7" y1="336.4" y2="336.4" stroke="#a2a5a8" stroke-width="2.3" stroke-linecap="round"/><line x1="790.7" x2="790.7" y1="336.4" y2="337.3" stroke="#a6a4b2" stroke-width="2.3"/>
<rect x="798.5" y="336.5" width="9" height="0.3" fill="#b2abd2"/><line x1="803" x2="803" y1="336.5" y2="336.5" stroke="#a2a5a8" stroke-width="2.3" stroke-linecap="round"/><line x1="803" x2="803" y1="336.5" y2="337.2" stroke="#a6a4b2" stroke-width="2.3"/>
<rect x="810.8" y="336.4" width="9" height="0.4" fill="#b2abd2"/><line x1="815.3" x2="815.3" y1="336.4" y2="336.4" stroke="#a2a5a8" stroke-width="2.3" stroke-linecap="round"/><line x1="815.3" x2="815.3" y1="336.4" y2="337.3" stroke="#a6a4b2" stroke-width="2.3"/>
<rect x="823.1" y="336.4" width="9" height="0.4" fill="#b2abd2"/><line x1="827.6" x2="827.6" y1="336.4" y2="336.4" stroke="#a2a5a8" stroke-width="2.3" stroke-linecap="round"/><line x1="827.6" x2="827.6" y1="336.4" y2="337.3" stroke="#a6a4b2" stroke-width="2.3"/>
<rect x="835.4" y="336.5" width="9" height="0.3" fill="#b2abd2"/><line x1="839.9" x2="839.9" y1="336.5" y2="336.5" stroke="#a2a5a8" stroke-width="2.3" stroke-linecap="round"/><line x1="839.9" x2="839.9" y1="336.5" y2="337.2" stroke="#a6a4b2" stroke-width="2.3"/>
<rect x="851" y="335.8" width="8.6" height="1.6" fill="#7b2a8c"/><line x1="855.3" x2="855.3" y1="335.8" y2="335.8" stroke="#a2a5a8" stroke-width="2.3" stroke-linecap="round"/>
<rect x="861.65" y="335.8" width="8.6" height="1.6" fill="#7b2a8c"/><line x1="865.95" x2="865.95" y1="335.8" y2="335.8" stroke="#a2a5a8" stroke-width="2.3" stroke-linecap="round"/>
<rect x="872.3" y="336.2" width="8.6" height="1.2" fill="#7b2a8c"/><line x1="876.6" x2="876.6" y1="336.2" y2="336.2" stroke="#a2a5a8" stroke-width="2.3" stroke-linecap="round"/><line x1="876.6" x2="876.6" y1="336.2" y2="336.6" stroke="#c4a2cb" stroke-width="2.3"/>
<rect x="882.95" y="336.2" width="8.6" height="1.2" fill="#7b2a8c"/><line x1="887.25" x2="887.25" y1="336.2" y2="336.2" stroke="#a2a5a8" stroke-width="2.3" stroke-linecap="round"/><line x1="887.25" x2="887.25" y1="336.2" y2="336.6" stroke="#c4a2cb" stroke-width="2.3"/>
<rect x="893.6" y="336.4" width="8.6" height="1" fill="#7b2a8c"/><line x1="897.9" x2="897.9" y1="336.4" y2="336.4" stroke="#a2a5a8" stroke-width="2.3" stroke-linecap="round"/>
<rect x="904.25" y="336.4" width="8.6" height="1" fill="#7b2a8c"/><line x1="908.55" x2="908.55" y1="336.4" y2="336.4" stroke="#a2a5a8" stroke-width="2.3" stroke-linecap="round"/>
<rect x="914.9" y="336.4" width="8.6" height="1" fill="#7b2a8c"/><line x1="919.2" x2="919.2" y1="336.4" y2="336.4" stroke="#a2a5a8" stroke-width="2.3" stroke-linecap="round"/>
</g>
<line x1="69.8" x2="69.8" y1="344.9" y2="405.9" stroke="#2a2a2a" stroke-width="1.3"/>
<line x1="66.3" x2="70.45" y1="344.9" y2="344.9" stroke="#111" stroke-width="2"/>
<line x1="66.3" x2="70.45" y1="405.6" y2="405.6" stroke="#111" stroke-width="2"/>
<line x1="66.6" x2="70.45" y1="375.4" y2="375.4" stroke="#111" stroke-width="1.6"/>
<text x="59.6" y="353.4" font-size="16.5" fill="#4a4a4a" text-anchor="end">20</text>
<text x="59.6" y="406" font-size="16.5" fill="#4a4a4a" text-anchor="end">0</text>
<text x="150.4" y="375.6" font-size="24.7" fill="#1d1d26">MMS</text>
<g>
<rect x="70.47" y="396.5" width="4.15" height="9.4" fill="#2bb6e8"/><line x1="72.55" x2="72.55" y1="395.38" y2="396.5" stroke="#a2a5a8" stroke-width="2.7" stroke-linecap="round"/><line x1="72.55" x2="72.55" y1="396.5" y2="398.7" stroke="#5caed0" stroke-width="2.7"/>
<rect x="75.17" y="401.6" width="4.15" height="4.3" fill="#2bb6e8"/><line x1="77.25" x2="77.25" y1="401.58" y2="401.6" stroke="#a2a5a8" stroke-width="2.7" stroke-linecap="round"/><line x1="77.25" x2="77.25" y1="401.6" y2="402.7" stroke="#5caed0" stroke-width="2.7"/>
<rect x="79.88" y="402.2" width="4.15" height="3.7" fill="#2bb6e8"/><line x1="81.95" x2="81.95" y1="401.88" y2="402.2" stroke="#a2a5a8" stroke-width="2.7" stroke-linecap="round"/><line x1="81.95" x2="81.95" y1="402.2" y2="403.6" stroke="#5caed0" stroke-width="2.7"/>
<rect x="84.58" y="398.2" width="4.15" height="7.7" fill="#2bb6e8"/><line x1="86.65" x2="86.65" y1="397.58" y2="398.2" stroke="#a2a5a8" stroke-width="2.7" stroke-linecap="round"/><line x1="86.65" x2="86.65" y1="398.2" y2="399.9" stroke="#5caed0" stroke-width="2.7"/>
<rect x="89.27" y="401.6" width="4.15" height="4.3" fill="#2bb6e8"/><line x1="91.35" x2="91.35" y1="401.58" y2="401.6" stroke="#a2a5a8" stroke-width="2.7" stroke-linecap="round"/><line x1="91.35" x2="91.35" y1="401.6" y2="402.7" stroke="#5caed0" stroke-width="2.7"/>
<rect x="93.97" y="404.9" width="4.15" height="1.4" fill="#2bb6e8"/><line x1="96.05" x2="96.05" y1="403.9" y2="406.9" stroke="#8f8f8f" stroke-width="1.9" stroke-linecap="round"/>
<rect x="98.67" y="404.7" width="4.15" height="1.2" fill="#2bb6e8"/><line x1="100.75" x2="100.75" y1="404.48" y2="404.7" stroke="#a2a5a8" stroke-width="2.7" stroke-linecap="round"/><line x1="100.75" x2="100.75" y1="404.7" y2="406" stroke="#5caed0" stroke-width="2.7"/>
<rect x="103.37" y="403.9" width="4.15" height="2" fill="#2bb6e8"/><line x1="105.45" x2="105.45" y1="403.48" y2="403.9" stroke="#a2a5a8" stroke-width="2.7" stroke-linecap="round"/><line x1="105.45" x2="105.45" y1="403.9" y2="405.4" stroke="#5caed0" stroke-width="2.7"/>
<rect x="108.08" y="403.9" width="4.15" height="2" fill="#2bb6e8"/><line x1="110.15" x2="110.15" y1="403.48" y2="403.9" stroke="#a2a5a8" stroke-width="2.7" stroke-linecap="round"/><line x1="110.15" x2="110.15" y1="403.9" y2="405.4" stroke="#5caed0" stroke-width="2.7"/>
<rect x="112.77" y="404.7" width="4.15" height="1.2" fill="#2bb6e8"/><line x1="114.85" x2="114.85" y1="404.48" y2="404.7" stroke="#a2a5a8" stroke-width="2.7" stroke-linecap="round"/><line x1="114.85" x2="114.85" y1="404.7" y2="406" stroke="#5caed0" stroke-width="2.7"/>
<rect x="117.47" y="404.4" width="4.15" height="1.5" fill="#2bb6e8"/><line x1="119.55" x2="119.55" y1="403.98" y2="404.4" stroke="#a2a5a8" stroke-width="2.7" stroke-linecap="round"/><line x1="119.55" x2="119.55" y1="404.4" y2="405.9" stroke="#5caed0" stroke-width="2.7"/>
<rect x="122.17" y="404.4" width="4.15" height="1.5" fill="#2bb6e8"/><line x1="124.25" x2="124.25" y1="403.98" y2="404.4" stroke="#a2a5a8" stroke-width="2.7" stroke-linecap="round"/><line x1="124.25" x2="124.25" y1="404.4" y2="405.9" stroke="#5caed0" stroke-width="2.7"/>
<rect x="126.87" y="398.2" width="4.15" height="7.7" fill="#2bb6e8"/><line x1="128.95" x2="128.95" y1="396.78" y2="398.2" stroke="#a2a5a8" stroke-width="2.7" stroke-linecap="round"/><line x1="128.95" x2="128.95" y1="398.2" y2="400.7" stroke="#5caed0" stroke-width="2.7"/>
<rect x="131.58" y="403.9" width="4.15" height="2" fill="#2bb6e8"/><line x1="133.65" x2="133.65" y1="403.9" y2="403.9" stroke="#a2a5a8" stroke-width="2.7" stroke-linecap="round"/><line x1="133.65" x2="133.65" y1="403.9" y2="404.9" stroke="#5caed0" stroke-width="2.7"/>
<rect x="136.28" y="403.9" width="4.15" height="2" fill="#2bb6e8"/><line x1="138.35" x2="138.35" y1="403.9" y2="403.9" stroke="#a2a5a8" stroke-width="2.7" stroke-linecap="round"/><line x1="138.35" x2="138.35" y1="403.9" y2="404.9" stroke="#5caed0" stroke-width="2.7"/>
<rect x="140.98" y="403.4" width="4.15" height="2.5" fill="#2bb6e8"/><line x1="143.05" x2="143.05" y1="401.98" y2="403.4" stroke="#a2a5a8" stroke-width="2.7" stroke-linecap="round"/><line x1="143.05" x2="143.05" y1="403.4" y2="405.9" stroke="#5caed0" stroke-width="2.7"/>
<rect x="148.48" y="403.4" width="4.15" height="2.5" fill="#111111"/><line x1="150.55" x2="150.55" y1="403.4" y2="403.4" stroke="#a2a5a8" stroke-width="2.7" stroke-linecap="round"/><line x1="150.55" x2="150.55" y1="403.4" y2="404.3" stroke="#444444" stroke-width="2.7"/>
<rect x="153.18" y="404.4" width="4.15" height="1.5" fill="#111111"/><line x1="155.25" x2="155.25" y1="404.4" y2="404.4" stroke="#a2a5a8" stroke-width="2.7" stroke-linecap="round"/><line x1="155.25" x2="155.25" y1="404.4" y2="405.4" stroke="#444444" stroke-width="2.7"/>
<rect x="157.88" y="405.3" width="4.15" height="1" fill="#111111"/><line x1="159.95" x2="159.95" y1="404.8" y2="406.9" stroke="#8f8f8f" stroke-width="1.9" stroke-linecap="round"/>
<rect x="162.58" y="404.1" width="4.15" height="1.8" fill="#111111"/><line x1="164.65" x2="164.65" y1="404.1" y2="404.1" stroke="#a2a5a8" stroke-width="2.7" stroke-linecap="round"/><line x1="164.65" x2="164.65" y1="404.1" y2="405.1" stroke="#444444" stroke-width="2.7"/>
<rect x="167.28" y="404.1" width="4.15" height="1.8" fill="#111111"/><line x1="169.35" x2="169.35" y1="404.1" y2="404.1" stroke="#a2a5a8" stroke-width="2.7" stroke-linecap="round"/><line x1="169.35" x2="169.35" y1="404.1" y2="405.1" stroke="#444444" stroke-width="2.7"/>
<rect x="171.98" y="403.9" width="4.15" height="2" fill="#111111"/><line x1="174.05" x2="174.05" y1="403.9" y2="403.9" stroke="#a2a5a8" stroke-width="2.7" stroke-linecap="round"/><line x1="174.05" x2="174.05" y1="403.9" y2="404.9" stroke="#444444" stroke-width="2.7"/>
<rect x="176.68" y="405.4" width="4.15" height="0.9" fill="#111111"/><line x1="178.75" x2="178.75" y1="404.9" y2="406.9" stroke="#8f8f8f" stroke-width="1.9" stroke-linecap="round"/>
<rect x="181.38" y="405.45" width="4.15" height="0.85" fill="#111111"/><line x1="183.45" x2="183.45" y1="405.2" y2="406.9" stroke="#8f8f8f" stroke-width="1.9" stroke-linecap="round"/>
<rect x="186.08" y="404.1" width="4.15" height="1.8" fill="#111111"/><line x1="188.15" x2="188.15" y1="404.1" y2="404.1" stroke="#a2a5a8" stroke-width="2.7" stroke-linecap="round"/><line x1="188.15" x2="188.15" y1="404.1" y2="405.1" stroke="#444444" stroke-width="2.7"/>
<rect x="190.78" y="405.3" width="4.15" height="1" fill="#111111"/><line x1="192.85" x2="192.85" y1="404.8" y2="406.9" stroke="#8f8f8f" stroke-width="1.9" stroke-linecap="round"/>
<rect x="195.48" y="404.1" width="4.15" height="1.8" fill="#111111"/><line x1="197.55" x2="197.55" y1="404.1" y2="404.1" stroke="#a2a5a8" stroke-width="2.7" stroke-linecap="round"/><line x1="197.55" x2="197.55" y1="404.1" y2="405.1" stroke="#444444" stroke-width="2.7"/>
<rect x="200.18" y="405.3" width="4.15" height="1" fill="#111111"/><line x1="202.25" x2="202.25" y1="404.9" y2="406.9" stroke="#8f8f8f" stroke-width="1.9" stroke-linecap="round"/>
<rect x="204.88" y="405.4" width="4.15" height="0.9" fill="#111111"/><line x1="206.95" x2="206.95" y1="404.9" y2="406.9" stroke="#8f8f8f" stroke-width="1.9" stroke-linecap="round"/>
<rect x="209.58" y="404.1" width="4.15" height="1.8" fill="#111111"/><line x1="211.65" x2="211.65" y1="404.1" y2="404.1" stroke="#a2a5a8" stroke-width="2.7" stroke-linecap="round"/><line x1="211.65" x2="211.65" y1="404.1" y2="405.1" stroke="#444444" stroke-width="2.7"/>
<rect x="214.28" y="404.4" width="4.15" height="1.5" fill="#111111"/><line x1="216.35" x2="216.35" y1="404.4" y2="404.4" stroke="#a2a5a8" stroke-width="2.7" stroke-linecap="round"/><line x1="216.35" x2="216.35" y1="404.4" y2="405.4" stroke="#444444" stroke-width="2.7"/>
<rect x="218.98" y="404.9" width="4.15" height="1.4" fill="#111111"/><line x1="221.05" x2="221.05" y1="404.4" y2="406.9" stroke="#8f8f8f" stroke-width="1.9" stroke-linecap="round"/>
<rect x="226.48" y="402.5" width="4.15" height="3.4" fill="#e52a28"/><line x1="228.55" x2="228.55" y1="400.58" y2="402.5" stroke="#a2a5a8" stroke-width="2.7" stroke-linecap="round"/><line x1="228.55" x2="228.55" y1="402.5" y2="405.5" stroke="#cd6f6d" stroke-width="2.7"/>
<rect x="231.18" y="404" width="4.15" height="1.9" fill="#e52a28"/><line x1="233.25" x2="233.25" y1="403.58" y2="404" stroke="#a2a5a8" stroke-width="2.7" stroke-linecap="round"/><line x1="233.25" x2="233.25" y1="404" y2="405.5" stroke="#cd6f6d" stroke-width="2.7"/>
<rect x="235.88" y="403.7" width="4.15" height="2.2" fill="#e52a28"/><line x1="237.95" x2="237.95" y1="403.58" y2="403.7" stroke="#a2a5a8" stroke-width="2.7" stroke-linecap="round"/><line x1="237.95" x2="237.95" y1="403.7" y2="404.9" stroke="#cd6f6d" stroke-width="2.7"/>
<rect x="240.58" y="401.4" width="4.15" height="4.5" fill="#e52a28"/><line x1="242.65" x2="242.65" y1="399.68" y2="401.4" stroke="#a2a5a8" stroke-width="2.7" stroke-linecap="round"/><line x1="242.65" x2="242.65" y1="401.4" y2="404.2" stroke="#cd6f6d" stroke-width="2.7"/>
<rect x="245.28" y="403.3" width="4.15" height="2.6" fill="#e52a28"/><line x1="247.35" x2="247.35" y1="402.28" y2="403.3" stroke="#a2a5a8" stroke-width="2.7" stroke-linecap="round"/><line x1="247.35" x2="247.35" y1="403.3" y2="405.4" stroke="#cd6f6d" stroke-width="2.7"/>
<rect x="249.98" y="404.4" width="4.15" height="1.5" fill="#e52a28"/><line x1="252.05" x2="252.05" y1="404.18" y2="404.4" stroke="#a2a5a8" stroke-width="2.7" stroke-linecap="round"/><line x1="252.05" x2="252.05" y1="404.4" y2="405.7" stroke="#cd6f6d" stroke-width="2.7"/>
<rect x="254.68" y="404.1" width="4.15" height="1.8" fill="#e52a28"/><line x1="256.75" x2="256.75" y1="403.78" y2="404.1" stroke="#a2a5a8" stroke-width="2.7" stroke-linecap="round"/><line x1="256.75" x2="256.75" y1="404.1" y2="405.5" stroke="#cd6f6d" stroke-width="2.7"/>
<rect x="259.38" y="403.3" width="4.15" height="2.6" fill="#e52a28"/><line x1="261.45" x2="261.45" y1="402.28" y2="403.3" stroke="#a2a5a8" stroke-width="2.7" stroke-linecap="round"/><line x1="261.45" x2="261.45" y1="403.3" y2="405.4" stroke="#cd6f6d" stroke-width="2.7"/>
<rect x="264.08" y="404.7" width="4.15" height="1.2" fill="#e52a28"/><line x1="266.15" x2="266.15" y1="404.48" y2="404.7" stroke="#a2a5a8" stroke-width="2.7" stroke-linecap="round"/><line x1="266.15" x2="266.15" y1="404.7" y2="406" stroke="#cd6f6d" stroke-width="2.7"/>
<rect x="268.78" y="405.1" width="4.15" height="1.2" fill="#e52a28"/><line x1="270.85" x2="270.85" y1="404.4" y2="406.9" stroke="#8f8f8f" stroke-width="1.9" stroke-linecap="round"/>
<rect x="273.48" y="404.7" width="4.15" height="1.2" fill="#e52a28"/><line x1="275.55" x2="275.55" y1="404.48" y2="404.7" stroke="#a2a5a8" stroke-width="2.7" stroke-linecap="round"/><line x1="275.55" x2="275.55" y1="404.7" y2="406" stroke="#cd6f6d" stroke-width="2.7"/>
<rect x="278.18" y="404.1" width="4.15" height="1.8" fill="#e52a28"/><line x1="280.25" x2="280.25" y1="403.48" y2="404.1" stroke="#a2a5a8" stroke-width="2.7" stroke-linecap="round"/><line x1="280.25" x2="280.25" y1="404.1" y2="405.8" stroke="#cd6f6d" stroke-width="2.7"/>
<rect x="282.88" y="395.7" width="4.15" height="10.2" fill="#e52a28"/><line x1="284.95" x2="284.95" y1="393.58" y2="395.7" stroke="#a2a5a8" stroke-width="2.7" stroke-linecap="round"/><line x1="284.95" x2="284.95" y1="395.7" y2="398.9" stroke="#cd6f6d" stroke-width="2.7"/>
<rect x="287.58" y="402.7" width="4.15" height="3.2" fill="#e52a28"/><line x1="289.65" x2="289.65" y1="401.28" y2="402.7" stroke="#a2a5a8" stroke-width="2.7" stroke-linecap="round"/><line x1="289.65" x2="289.65" y1="402.7" y2="405.2" stroke="#cd6f6d" stroke-width="2.7"/>
<rect x="292.28" y="403.7" width="4.15" height="2.2" fill="#e52a28"/><line x1="294.35" x2="294.35" y1="402.48" y2="403.7" stroke="#a2a5a8" stroke-width="2.7" stroke-linecap="round"/><line x1="294.35" x2="294.35" y1="403.7" y2="406" stroke="#cd6f6d" stroke-width="2.7"/>
<rect x="296.98" y="396.3" width="4.15" height="9.6" fill="#e52a28"/><line x1="299.05" x2="299.05" y1="395.48" y2="396.3" stroke="#a2a5a8" stroke-width="2.7" stroke-linecap="round"/><line x1="299.05" x2="299.05" y1="396.3" y2="398.2" stroke="#cd6f6d" stroke-width="2.7"/>
<rect x="304.48" y="361.3" width="4.15" height="44.6" fill="#cbcaca"/><line x1="306.55" x2="306.55" y1="357.28" y2="361.3" stroke="#a2a5a8" stroke-width="2.7" stroke-linecap="round"/><line x1="306.55" x2="306.55" y1="361.3" y2="366.4" stroke="#adadad" stroke-width="2.7"/>
<rect x="309.18" y="388" width="4.15" height="17.9" fill="#cbcaca"/><line x1="311.25" x2="311.25" y1="386.18" y2="388" stroke="#a2a5a8" stroke-width="2.7" stroke-linecap="round"/><line x1="311.25" x2="311.25" y1="388" y2="390.9" stroke="#adadad" stroke-width="2.7"/>
<rect x="313.88" y="386.4" width="4.15" height="19.5" fill="#cbcaca"/><line x1="315.95" x2="315.95" y1="384.38" y2="386.4" stroke="#a2a5a8" stroke-width="2.7" stroke-linecap="round"/><line x1="315.95" x2="315.95" y1="386.4" y2="389.5" stroke="#adadad" stroke-width="2.7"/>
<rect x="318.58" y="354.9" width="4.15" height="51" fill="#cbcaca"/><line x1="320.65" x2="320.65" y1="350.48" y2="354.9" stroke="#a2a5a8" stroke-width="2.7" stroke-linecap="round"/><line x1="320.65" x2="320.65" y1="354.9" y2="360.4" stroke="#adadad" stroke-width="2.7"/>
<rect x="323.28" y="393.8" width="4.15" height="12.1" fill="#cbcaca"/><line x1="325.35" x2="325.35" y1="392.28" y2="393.8" stroke="#a2a5a8" stroke-width="2.7" stroke-linecap="round"/><line x1="325.35" x2="325.35" y1="393.8" y2="396.4" stroke="#adadad" stroke-width="2.7"/>
<rect x="327.98" y="400.8" width="4.15" height="5.1" fill="#cbcaca"/><line x1="330.05" x2="330.05" y1="399.28" y2="400.8" stroke="#a2a5a8" stroke-width="2.7" stroke-linecap="round"/><line x1="330.05" x2="330.05" y1="400.8" y2="403.4" stroke="#adadad" stroke-width="2.7"/>
<rect x="332.68" y="398.9" width="4.15" height="7" fill="#cbcaca"/><line x1="334.75" x2="334.75" y1="397.38" y2="398.9" stroke="#a2a5a8" stroke-width="2.7" stroke-linecap="round"/><line x1="334.75" x2="334.75" y1="398.9" y2="401.5" stroke="#adadad" stroke-width="2.7"/>
<rect x="337.38" y="390" width="4.15" height="15.9" fill="#cbcaca"/><line x1="339.45" x2="339.45" y1="388.18" y2="390" stroke="#a2a5a8" stroke-width="2.7" stroke-linecap="round"/><line x1="339.45" x2="339.45" y1="390" y2="392.9" stroke="#adadad" stroke-width="2.7"/>
<rect x="342.08" y="384.2" width="4.15" height="21.7" fill="#cbcaca"/><line x1="344.15" x2="344.15" y1="381.48" y2="384.2" stroke="#a2a5a8" stroke-width="2.7" stroke-linecap="round"/><line x1="344.15" x2="344.15" y1="384.2" y2="388" stroke="#adadad" stroke-width="2.7"/>
<rect x="346.78" y="398.9" width="4.15" height="7" fill="#cbcaca"/><line x1="348.85" x2="348.85" y1="397.38" y2="398.9" stroke="#a2a5a8" stroke-width="2.7" stroke-linecap="round"/><line x1="348.85" x2="348.85" y1="398.9" y2="401.5" stroke="#adadad" stroke-width="2.7"/>
<rect x="351.48" y="396" width="4.15" height="9.9" fill="#cbcaca"/><line x1="353.55" x2="353.55" y1="394.58" y2="396" stroke="#a2a5a8" stroke-width="2.7" stroke-linecap="round"/><line x1="353.55" x2="353.55" y1="396" y2="398.5" stroke="#adadad" stroke-width="2.7"/>
<rect x="356.18" y="391.2" width="4.15" height="14.7" fill="#cbcaca"/><line x1="358.25" x2="358.25" y1="389.48" y2="391.2" stroke="#a2a5a8" stroke-width="2.7" stroke-linecap="round"/><line x1="358.25" x2="358.25" y1="391.2" y2="394" stroke="#adadad" stroke-width="2.7"/>
<rect x="360.88" y="384.2" width="4.15" height="21.7" fill="#cbcaca"/><line x1="362.95" x2="362.95" y1="381.48" y2="384.2" stroke="#a2a5a8" stroke-width="2.7" stroke-linecap="round"/><line x1="362.95" x2="362.95" y1="384.2" y2="388" stroke="#adadad" stroke-width="2.7"/>
<rect x="365.58" y="397.6" width="4.15" height="8.3" fill="#cbcaca"/><line x1="367.65" x2="367.65" y1="396.38" y2="397.6" stroke="#a2a5a8" stroke-width="2.7" stroke-linecap="round"/><line x1="367.65" x2="367.65" y1="397.6" y2="399.9" stroke="#adadad" stroke-width="2.7"/>
<rect x="370.28" y="393.8" width="4.15" height="12.1" fill="#cbcaca"/><line x1="372.35" x2="372.35" y1="392.28" y2="393.8" stroke="#a2a5a8" stroke-width="2.7" stroke-linecap="round"/><line x1="372.35" x2="372.35" y1="393.8" y2="396.4" stroke="#adadad" stroke-width="2.7"/>
<rect x="374.98" y="355.5" width="4.15" height="50.4" fill="#cbcaca"/><line x1="377.05" x2="377.05" y1="351.48" y2="355.5" stroke="#a2a5a8" stroke-width="2.7" stroke-linecap="round"/><line x1="377.05" x2="377.05" y1="355.5" y2="360.6" stroke="#adadad" stroke-width="2.7"/>
<rect x="382.48" y="391.9" width="4.15" height="14" fill="#a2d063"/><line x1="384.55" x2="384.55" y1="390.38" y2="391.9" stroke="#a2a5a8" stroke-width="2.7" stroke-linecap="round"/><line x1="384.55" x2="384.55" y1="391.9" y2="394.5" stroke="#a1b08e" stroke-width="2.7"/>
<rect x="387.18" y="391.2" width="4.15" height="14.7" fill="#a2d063"/><line x1="389.25" x2="389.25" y1="389.48" y2="391.2" stroke="#a2a5a8" stroke-width="2.7" stroke-linecap="round"/><line x1="389.25" x2="389.25" y1="391.2" y2="394" stroke="#a1b08e" stroke-width="2.7"/>
<rect x="391.88" y="399.5" width="4.15" height="6.4" fill="#a2d063"/><line x1="393.95" x2="393.95" y1="398.68" y2="399.5" stroke="#a2a5a8" stroke-width="2.7" stroke-linecap="round"/><line x1="393.95" x2="393.95" y1="399.5" y2="401.4" stroke="#a1b08e" stroke-width="2.7"/>
<rect x="396.58" y="387.4" width="4.15" height="18.5" fill="#a2d063"/><line x1="398.65" x2="398.65" y1="385.28" y2="387.4" stroke="#a2a5a8" stroke-width="2.7" stroke-linecap="round"/><line x1="398.65" x2="398.65" y1="387.4" y2="390.6" stroke="#a1b08e" stroke-width="2.7"/>
<rect x="401.28" y="404" width="4.15" height="1.9" fill="#a2d063"/><line x1="403.35" x2="403.35" y1="403.58" y2="404" stroke="#a2a5a8" stroke-width="2.7" stroke-linecap="round"/><line x1="403.35" x2="403.35" y1="404" y2="405.5" stroke="#a1b08e" stroke-width="2.7"/>
<rect x="405.98" y="400.8" width="4.15" height="5.1" fill="#a2d063"/><line x1="408.05" x2="408.05" y1="400.18" y2="400.8" stroke="#a2a5a8" stroke-width="2.7" stroke-linecap="round"/><line x1="408.05" x2="408.05" y1="400.8" y2="402.5" stroke="#a1b08e" stroke-width="2.7"/>
<rect x="410.68" y="404" width="4.15" height="1.9" fill="#a2d063"/><line x1="412.75" x2="412.75" y1="403.58" y2="404" stroke="#a2a5a8" stroke-width="2.7" stroke-linecap="round"/><line x1="412.75" x2="412.75" y1="404" y2="405.5" stroke="#a1b08e" stroke-width="2.7"/>
<rect x="415.38" y="399.5" width="4.15" height="6.4" fill="#a2d063"/><line x1="417.45" x2="417.45" y1="398.48" y2="399.5" stroke="#a2a5a8" stroke-width="2.7" stroke-linecap="round"/><line x1="417.45" x2="417.45" y1="399.5" y2="401.6" stroke="#a1b08e" stroke-width="2.7"/>
<rect x="420.08" y="395.1" width="4.15" height="10.8" fill="#a2d063"/><line x1="422.15" x2="422.15" y1="393.58" y2="395.1" stroke="#a2a5a8" stroke-width="2.7" stroke-linecap="round"/><line x1="422.15" x2="422.15" y1="395.1" y2="397.7" stroke="#a1b08e" stroke-width="2.7"/>
<rect x="424.78" y="391.9" width="4.15" height="14" fill="#a2d063"/><line x1="426.85" x2="426.85" y1="390.38" y2="391.9" stroke="#a2a5a8" stroke-width="2.7" stroke-linecap="round"/><line x1="426.85" x2="426.85" y1="391.9" y2="394.5" stroke="#a1b08e" stroke-width="2.7"/>
<rect x="429.48" y="399.9" width="4.15" height="6" fill="#a2d063"/><line x1="431.55" x2="431.55" y1="398.68" y2="399.9" stroke="#a2a5a8" stroke-width="2.7" stroke-linecap="round"/><line x1="431.55" x2="431.55" y1="399.9" y2="402.2" stroke="#a1b08e" stroke-width="2.7"/>
<rect x="434.18" y="390" width="4.15" height="15.9" fill="#a2d063"/><line x1="436.25" x2="436.25" y1="388.48" y2="390" stroke="#a2a5a8" stroke-width="2.7" stroke-linecap="round"/><line x1="436.25" x2="436.25" y1="390" y2="392.6" stroke="#a1b08e" stroke-width="2.7"/>
<rect x="438.88" y="397.6" width="4.15" height="8.3" fill="#a2d063"/><line x1="440.95" x2="440.95" y1="396.48" y2="397.6" stroke="#a2a5a8" stroke-width="2.7" stroke-linecap="round"/><line x1="440.95" x2="440.95" y1="397.6" y2="399.8" stroke="#a1b08e" stroke-width="2.7"/>
<rect x="443.58" y="393.8" width="4.15" height="12.1" fill="#a2d063"/><line x1="445.65" x2="445.65" y1="392.58" y2="393.8" stroke="#a2a5a8" stroke-width="2.7" stroke-linecap="round"/><line x1="445.65" x2="445.65" y1="393.8" y2="396.1" stroke="#a1b08e" stroke-width="2.7"/>
<rect x="448.28" y="402.5" width="4.15" height="3.4" fill="#a2d063"/><line x1="450.35" x2="450.35" y1="401.48" y2="402.5" stroke="#a2a5a8" stroke-width="2.7" stroke-linecap="round"/><line x1="450.35" x2="450.35" y1="402.5" y2="404.6" stroke="#a1b08e" stroke-width="2.7"/>
<rect x="452.98" y="370.8" width="4.15" height="35.1" fill="#a2d063"/><line x1="455.05" x2="455.05" y1="367.48" y2="370.8" stroke="#a2a5a8" stroke-width="2.7" stroke-linecap="round"/><line x1="455.05" x2="455.05" y1="370.8" y2="375.2" stroke="#a1b08e" stroke-width="2.7"/>
<rect x="460.48" y="401.4" width="4.15" height="4.5" fill="#eec9c6"/><line x1="462.55" x2="462.55" y1="400.58" y2="401.4" stroke="#a2a5a8" stroke-width="2.7" stroke-linecap="round"/><line x1="462.55" x2="462.55" y1="401.4" y2="403.3" stroke="#b9adac" stroke-width="2.7"/>
<rect x="465.18" y="404" width="4.15" height="1.9" fill="#eec9c6"/><line x1="467.25" x2="467.25" y1="403.58" y2="404" stroke="#a2a5a8" stroke-width="2.7" stroke-linecap="round"/><line x1="467.25" x2="467.25" y1="404" y2="405.5" stroke="#b9adac" stroke-width="2.7"/>
<rect x="469.88" y="399.9" width="4.15" height="6" fill="#eec9c6"/><line x1="471.95" x2="471.95" y1="398.68" y2="399.9" stroke="#a2a5a8" stroke-width="2.7" stroke-linecap="round"/><line x1="471.95" x2="471.95" y1="399.9" y2="402.2" stroke="#b9adac" stroke-width="2.7"/>
<rect x="474.58" y="400.8" width="4.15" height="5.1" fill="#eec9c6"/><line x1="476.65" x2="476.65" y1="399.28" y2="400.8" stroke="#a2a5a8" stroke-width="2.7" stroke-linecap="round"/><line x1="476.65" x2="476.65" y1="400.8" y2="403.4" stroke="#b9adac" stroke-width="2.7"/>
<rect x="479.28" y="404.4" width="4.15" height="1.5" fill="#eec9c6"/><line x1="481.35" x2="481.35" y1="404.18" y2="404.4" stroke="#a2a5a8" stroke-width="2.7" stroke-linecap="round"/><line x1="481.35" x2="481.35" y1="404.4" y2="405.7" stroke="#b9adac" stroke-width="2.7"/>
<rect x="483.98" y="405.4" width="4.15" height="0.9" fill="#c3a9a7"/><line x1="486.05" x2="486.05" y1="404.9" y2="406.9" stroke="#8f8f8f" stroke-width="1.9" stroke-linecap="round"/>
<rect x="488.68" y="404.1" width="4.15" height="1.8" fill="#eec9c6"/><line x1="490.75" x2="490.75" y1="403.48" y2="404.1" stroke="#a2a5a8" stroke-width="2.7" stroke-linecap="round"/><line x1="490.75" x2="490.75" y1="404.1" y2="405.8" stroke="#b9adac" stroke-width="2.7"/>
<rect x="493.38" y="403.7" width="4.15" height="2.2" fill="#eec9c6"/><line x1="495.45" x2="495.45" y1="402.48" y2="403.7" stroke="#a2a5a8" stroke-width="2.7" stroke-linecap="round"/><line x1="495.45" x2="495.45" y1="403.7" y2="406" stroke="#b9adac" stroke-width="2.7"/>
<rect x="498.08" y="404.1" width="4.15" height="1.8" fill="#eec9c6"/><line x1="500.15" x2="500.15" y1="403.48" y2="404.1" stroke="#a2a5a8" stroke-width="2.7" stroke-linecap="round"/><line x1="500.15" x2="500.15" y1="404.1" y2="405.8" stroke="#b9adac" stroke-width="2.7"/>
<rect x="502.78" y="405.1" width="4.15" height="1.2" fill="#c3a9a7"/><line x1="504.85" x2="504.85" y1="404.4" y2="406.9" stroke="#8f8f8f" stroke-width="1.9" stroke-linecap="round"/>
<rect x="507.48" y="395.1" width="4.15" height="10.8" fill="#eec9c6"/><line x1="509.55" x2="509.55" y1="393.38" y2="395.1" stroke="#a2a5a8" stroke-width="2.7" stroke-linecap="round"/><line x1="509.55" x2="509.55" y1="395.1" y2="397.9" stroke="#b9adac" stroke-width="2.7"/>
<rect x="512.17" y="404.1" width="4.15" height="1.8" fill="#eec9c6"/><line x1="514.25" x2="514.25" y1="403.48" y2="404.1" stroke="#a2a5a8" stroke-width="2.7" stroke-linecap="round"/><line x1="514.25" x2="514.25" y1="404.1" y2="405.8" stroke="#b9adac" stroke-width="2.7"/>
<rect x="516.88" y="404.1" width="4.15" height="1.8" fill="#eec9c6"/><line x1="518.95" x2="518.95" y1="403.48" y2="404.1" stroke="#a2a5a8" stroke-width="2.7" stroke-linecap="round"/><line x1="518.95" x2="518.95" y1="404.1" y2="405.8" stroke="#b9adac" stroke-width="2.7"/>
<rect x="521.57" y="404.7" width="4.15" height="1.2" fill="#eec9c6"/><line x1="523.65" x2="523.65" y1="404.48" y2="404.7" stroke="#a2a5a8" stroke-width="2.7" stroke-linecap="round"/><line x1="523.65" x2="523.65" y1="404.7" y2="406" stroke="#b9adac" stroke-width="2.7"/>
<rect x="526.27" y="401.4" width="4.15" height="4.5" fill="#eec9c6"/><line x1="528.35" x2="528.35" y1="400.18" y2="401.4" stroke="#a2a5a8" stroke-width="2.7" stroke-linecap="round"/><line x1="528.35" x2="528.35" y1="401.4" y2="403.7" stroke="#b9adac" stroke-width="2.7"/>
<rect x="530.97" y="398.9" width="4.15" height="7" fill="#eec9c6"/><line x1="533.05" x2="533.05" y1="397.38" y2="398.9" stroke="#a2a5a8" stroke-width="2.7" stroke-linecap="round"/><line x1="533.05" x2="533.05" y1="398.9" y2="401.5" stroke="#b9adac" stroke-width="2.7"/>
</g>
<g>
<rect x="553.8" y="401.9" width="8" height="4" fill="#b0242f"/><line x1="557.8" x2="557.8" y1="401.72" y2="401.9" stroke="#a2a5a8" stroke-width="2.3" stroke-linecap="round"/><line x1="557.8" x2="557.8" y1="401.9" y2="403" stroke="#d0a0a2" stroke-width="2.3"/>
<rect x="589" y="405.3" width="8" height="0.6" fill="#b0242f"/><line x1="593" x2="593" y1="405.3" y2="405.3" stroke="#a2a5a8" stroke-width="2.3" stroke-linecap="round"/><line x1="593" x2="593" y1="405.3" y2="406.2" stroke="#d0a0a2" stroke-width="2.3"/>
<rect x="617.75" y="401.9" width="9.3" height="4" fill="#80cdc1"/><line x1="622.4" x2="622.4" y1="401.12" y2="401.9" stroke="#a2a5a8" stroke-width="2.3" stroke-linecap="round"/><line x1="622.4" x2="622.4" y1="401.9" y2="403.6" stroke="#96aaa6" stroke-width="2.3"/>
<rect x="630.05" y="404" width="9.3" height="1.9" fill="#80cdc1"/><line x1="634.7" x2="634.7" y1="403.22" y2="404" stroke="#a2a5a8" stroke-width="2.3" stroke-linecap="round"/><line x1="634.7" x2="634.7" y1="404" y2="405.7" stroke="#96aaa6" stroke-width="2.3"/>
<rect x="642.35" y="405.3" width="9.3" height="0.6" fill="#80cdc1"/><line x1="647" x2="647" y1="404.92" y2="405.3" stroke="#a2a5a8" stroke-width="2.3" stroke-linecap="round"/><line x1="647" x2="647" y1="405.3" y2="406.5" stroke="#96aaa6" stroke-width="2.3"/>
<rect x="654.65" y="404" width="9.3" height="1.9" fill="#80cdc1"/><line x1="659.3" x2="659.3" y1="403.22" y2="404" stroke="#a2a5a8" stroke-width="2.3" stroke-linecap="round"/><line x1="659.3" x2="659.3" y1="404" y2="405.7" stroke="#96aaa6" stroke-width="2.3"/>
<rect x="666.95" y="401.9" width="9.3" height="4" fill="#80cdc1"/><line x1="671.6" x2="671.6" y1="401.52" y2="401.9" stroke="#a2a5a8" stroke-width="2.3" stroke-linecap="round"/><line x1="671.6" x2="671.6" y1="401.9" y2="403.2" stroke="#96aaa6" stroke-width="2.3"/>
<rect x="679.25" y="401.9" width="9.3" height="4" fill="#80cdc1"/><line x1="683.9" x2="683.9" y1="401.12" y2="401.9" stroke="#a2a5a8" stroke-width="2.3" stroke-linecap="round"/><line x1="683.9" x2="683.9" y1="401.9" y2="403.6" stroke="#96aaa6" stroke-width="2.3"/>
<rect x="710.2" y="405.5" width="7.8" height="0.4" fill="#f4f4b4"/><line x1="714.1" x2="714.1" y1="404.92" y2="405.5" stroke="#a2a5a8" stroke-width="2.3" stroke-linecap="round"/><line x1="714.1" x2="714.1" y1="405.5" y2="406.5" stroke="#bcbca4" stroke-width="2.3"/>
<rect x="744.7" y="405.1" width="7.8" height="0.8" fill="#f4f4b4"/><line x1="748.6" x2="748.6" y1="404.82" y2="405.1" stroke="#a2a5a8" stroke-width="2.3" stroke-linecap="round"/><line x1="748.6" x2="748.6" y1="405.1" y2="406.3" stroke="#bcbca4" stroke-width="2.3"/>
<rect x="773.9" y="404" width="9" height="1.9" fill="#b2abd2"/><line x1="778.4" x2="778.4" y1="403.22" y2="404" stroke="#a2a5a8" stroke-width="2.3" stroke-linecap="round"/><line x1="778.4" x2="778.4" y1="404" y2="405.7" stroke="#a6a4b2" stroke-width="2.3"/>
<rect x="786.2" y="405.4" width="9" height="0.5" fill="#b2abd2"/><line x1="790.7" x2="790.7" y1="405.4" y2="405.4" stroke="#a2a5a8" stroke-width="2.3" stroke-linecap="round"/><line x1="790.7" x2="790.7" y1="405.4" y2="406.1" stroke="#a6a4b2" stroke-width="2.3"/>
<rect x="798.5" y="405.4" width="9" height="0.5" fill="#b2abd2"/><line x1="803" x2="803" y1="405.4" y2="405.4" stroke="#a2a5a8" stroke-width="2.3" stroke-linecap="round"/><line x1="803" x2="803" y1="405.4" y2="406.3" stroke="#a6a4b2" stroke-width="2.3"/>
<rect x="810.8" y="405.3" width="9" height="0.6" fill="#b2abd2"/><line x1="815.3" x2="815.3" y1="404.82" y2="405.3" stroke="#a2a5a8" stroke-width="2.3" stroke-linecap="round"/><line x1="815.3" x2="815.3" y1="405.3" y2="406.5" stroke="#a6a4b2" stroke-width="2.3"/>
<rect x="823.1" y="405.3" width="9" height="0.6" fill="#b2abd2"/><line x1="827.6" x2="827.6" y1="404.82" y2="405.3" stroke="#a2a5a8" stroke-width="2.3" stroke-linecap="round"/><line x1="827.6" x2="827.6" y1="405.3" y2="406.5" stroke="#a6a4b2" stroke-width="2.3"/>
<rect x="835.4" y="405.5" width="9" height="0.4" fill="#b2abd2"/><line x1="839.9" x2="839.9" y1="405.5" y2="405.5" stroke="#a2a5a8" stroke-width="2.3" stroke-linecap="round"/><line x1="839.9" x2="839.9" y1="405.5" y2="406.1" stroke="#a6a4b2" stroke-width="2.3"/>
<rect x="851" y="402.9" width="8.6" height="3.6" fill="#7b2a8c"/><line x1="855.3" x2="855.3" y1="402.9" y2="402.9" stroke="#a2a5a8" stroke-width="2.3" stroke-linecap="round"/><line x1="855.3" x2="855.3" y1="402.9" y2="403.5" stroke="#c4a2cb" stroke-width="2.3"/>
<rect x="861.65" y="401.9" width="8.6" height="4.6" fill="#7b2a8c"/><line x1="865.95" x2="865.95" y1="401.9" y2="401.9" stroke="#a2a5a8" stroke-width="2.3" stroke-linecap="round"/><line x1="865.95" x2="865.95" y1="401.9" y2="402.4" stroke="#c4a2cb" stroke-width="2.3"/>
<rect x="872.3" y="404.4" width="8.6" height="2.1" fill="#7b2a8c"/><line x1="876.6" x2="876.6" y1="404.4" y2="404.4" stroke="#a2a5a8" stroke-width="2.3" stroke-linecap="round"/><line x1="876.6" x2="876.6" y1="404.4" y2="404.9" stroke="#c4a2cb" stroke-width="2.3"/>
<rect x="882.95" y="402.9" width="8.6" height="3.6" fill="#7b2a8c"/><line x1="887.25" x2="887.25" y1="402.9" y2="402.9" stroke="#a2a5a8" stroke-width="2.3" stroke-linecap="round"/><line x1="887.25" x2="887.25" y1="402.9" y2="403.7" stroke="#c4a2cb" stroke-width="2.3"/>
<rect x="893.6" y="404.4" width="8.6" height="2.1" fill="#7b2a8c"/><line x1="897.9" x2="897.9" y1="404.4" y2="404.4" stroke="#a2a5a8" stroke-width="2.3" stroke-linecap="round"/><line x1="897.9" x2="897.9" y1="404.4" y2="404.9" stroke="#c4a2cb" stroke-width="2.3"/>
<rect x="904.25" y="404.6" width="8.6" height="1.9" fill="#7b2a8c"/><line x1="908.55" x2="908.55" y1="404.6" y2="404.6" stroke="#a2a5a8" stroke-width="2.3" stroke-linecap="round"/><line x1="908.55" x2="908.55" y1="404.6" y2="405.1" stroke="#c4a2cb" stroke-width="2.3"/>
<rect x="914.9" y="404.2" width="8.6" height="2.3" fill="#7b2a8c"/><line x1="919.2" x2="919.2" y1="404.2" y2="404.2" stroke="#a2a5a8" stroke-width="2.3" stroke-linecap="round"/><line x1="919.2" x2="919.2" y1="404.2" y2="405" stroke="#c4a2cb" stroke-width="2.3"/>
</g>
<line x1="69.8" x2="69.8" y1="414.2" y2="475" stroke="#2a2a2a" stroke-width="1.3"/>
<line x1="66.3" x2="70.45" y1="414.2" y2="414.2" stroke="#111" stroke-width="2"/>
<line x1="66.3" x2="70.45" y1="474.7" y2="474.7" stroke="#111" stroke-width="2"/>
<line x1="66.6" x2="70.45" y1="434.47" y2="434.47" stroke="#111" stroke-width="1.6"/>
<line x1="66.6" x2="70.45" y1="454.73" y2="454.73" stroke="#111" stroke-width="1.6"/>
<text x="59.6" y="421.5" font-size="16.5" fill="#4a4a4a" text-anchor="end">3</text>
<text x="59.6" y="475.1" font-size="16.5" fill="#4a4a4a" text-anchor="end">0</text>
<text x="151.6" y="442.4" font-size="24.7" fill="#1d1d26">γ-rays</text>
<g>
<rect x="70.47" y="456.3" width="4.15" height="18.7" fill="#2bb6e8"/><line x1="72.55" x2="72.55" y1="452.68" y2="456.3" stroke="#a2a5a8" stroke-width="2.7" stroke-linecap="round"/><line x1="72.55" x2="72.55" y1="456.3" y2="461" stroke="#5caed0" stroke-width="2.7"/>
<rect x="75.17" y="468.6" width="4.15" height="6.4" fill="#2bb6e8"/><line x1="77.25" x2="77.25" y1="466.68" y2="468.6" stroke="#a2a5a8" stroke-width="2.7" stroke-linecap="round"/><line x1="77.25" x2="77.25" y1="468.6" y2="471.6" stroke="#5caed0" stroke-width="2.7"/>
<rect x="79.88" y="466.5" width="4.15" height="8.5" fill="#2bb6e8"/><line x1="81.95" x2="81.95" y1="464.58" y2="466.5" stroke="#a2a5a8" stroke-width="2.7" stroke-linecap="round"/><line x1="81.95" x2="81.95" y1="466.5" y2="469.5" stroke="#5caed0" stroke-width="2.7"/>
<rect x="84.58" y="465.2" width="4.15" height="9.8" fill="#2bb6e8"/><line x1="86.65" x2="86.65" y1="463.28" y2="465.2" stroke="#a2a5a8" stroke-width="2.7" stroke-linecap="round"/><line x1="86.65" x2="86.65" y1="465.2" y2="468.2" stroke="#5caed0" stroke-width="2.7"/>
<rect x="89.27" y="465.2" width="4.15" height="9.8" fill="#2bb6e8"/><line x1="91.35" x2="91.35" y1="462.68" y2="465.2" stroke="#a2a5a8" stroke-width="2.7" stroke-linecap="round"/><line x1="91.35" x2="91.35" y1="465.2" y2="468.8" stroke="#5caed0" stroke-width="2.7"/>
<rect x="93.97" y="470.3" width="4.15" height="4.7" fill="#2bb6e8"/><line x1="96.05" x2="96.05" y1="469.58" y2="470.3" stroke="#a2a5a8" stroke-width="2.7" stroke-linecap="round"/><line x1="96.05" x2="96.05" y1="470.3" y2="472.1" stroke="#5caed0" stroke-width="2.7"/>
<rect x="98.67" y="467.3" width="4.15" height="7.7" fill="#2bb6e8"/><line x1="100.75" x2="100.75" y1="464.58" y2="467.3" stroke="#a2a5a8" stroke-width="2.7" stroke-linecap="round"/><line x1="100.75" x2="100.75" y1="467.3" y2="471.1" stroke="#5caed0" stroke-width="2.7"/>
<rect x="103.37" y="469.5" width="4.15" height="5.5" fill="#2bb6e8"/><line x1="105.45" x2="105.45" y1="467.58" y2="469.5" stroke="#a2a5a8" stroke-width="2.7" stroke-linecap="round"/><line x1="105.45" x2="105.45" y1="469.5" y2="472.5" stroke="#5caed0" stroke-width="2.7"/>
<rect x="108.08" y="462.2" width="4.15" height="12.8" fill="#2bb6e8"/><line x1="110.15" x2="110.15" y1="460.48" y2="462.2" stroke="#a2a5a8" stroke-width="2.7" stroke-linecap="round"/><line x1="110.15" x2="110.15" y1="462.2" y2="465" stroke="#5caed0" stroke-width="2.7"/>
<rect x="112.77" y="470.3" width="4.15" height="4.7" fill="#2bb6e8"/><line x1="114.85" x2="114.85" y1="469.58" y2="470.3" stroke="#a2a5a8" stroke-width="2.7" stroke-linecap="round"/><line x1="114.85" x2="114.85" y1="470.3" y2="472.1" stroke="#5caed0" stroke-width="2.7"/>
<rect x="117.47" y="469.5" width="4.15" height="5.5" fill="#2bb6e8"/><line x1="119.55" x2="119.55" y1="467.58" y2="469.5" stroke="#a2a5a8" stroke-width="2.7" stroke-linecap="round"/><line x1="119.55" x2="119.55" y1="469.5" y2="472.5" stroke="#5caed0" stroke-width="2.7"/>
<rect x="122.17" y="466.5" width="4.15" height="8.5" fill="#2bb6e8"/><line x1="124.25" x2="124.25" y1="464.58" y2="466.5" stroke="#a2a5a8" stroke-width="2.7" stroke-linecap="round"/><line x1="124.25" x2="124.25" y1="466.5" y2="469.5" stroke="#5caed0" stroke-width="2.7"/>
<rect x="126.87" y="444.4" width="4.15" height="30.6" fill="#2bb6e8"/><line x1="128.95" x2="128.95" y1="439.48" y2="444.4" stroke="#a2a5a8" stroke-width="2.7" stroke-linecap="round"/><line x1="128.95" x2="128.95" y1="444.4" y2="450.4" stroke="#5caed0" stroke-width="2.7"/>
<rect x="131.58" y="466.9" width="4.15" height="8.1" fill="#2bb6e8"/><line x1="133.65" x2="133.65" y1="464.58" y2="466.9" stroke="#a2a5a8" stroke-width="2.7" stroke-linecap="round"/><line x1="133.65" x2="133.65" y1="466.9" y2="470.3" stroke="#5caed0" stroke-width="2.7"/>
<rect x="136.28" y="460.3" width="4.15" height="14.7" fill="#2bb6e8"/><line x1="138.35" x2="138.35" y1="457.58" y2="460.3" stroke="#a2a5a8" stroke-width="2.7" stroke-linecap="round"/><line x1="138.35" x2="138.35" y1="460.3" y2="464.1" stroke="#5caed0" stroke-width="2.7"/>
<rect x="140.98" y="461.4" width="4.15" height="13.6" fill="#2bb6e8"/><line x1="143.05" x2="143.05" y1="457.58" y2="461.4" stroke="#a2a5a8" stroke-width="2.7" stroke-linecap="round"/><line x1="143.05" x2="143.05" y1="461.4" y2="466.3" stroke="#5caed0" stroke-width="2.7"/>
<rect x="148.48" y="464.4" width="4.15" height="10.6" fill="#111111"/><line x1="150.55" x2="150.55" y1="462.48" y2="464.4" stroke="#a2a5a8" stroke-width="2.7" stroke-linecap="round"/><line x1="150.55" x2="150.55" y1="464.4" y2="467.4" stroke="#444444" stroke-width="2.7"/>
<rect x="153.18" y="471.4" width="4.15" height="3.6" fill="#111111"/><line x1="155.25" x2="155.25" y1="469.68" y2="471.4" stroke="#a2a5a8" stroke-width="2.7" stroke-linecap="round"/><line x1="155.25" x2="155.25" y1="471.4" y2="474.2" stroke="#444444" stroke-width="2.7"/>
<rect x="157.88" y="469.5" width="4.15" height="5.5" fill="#111111"/><line x1="159.95" x2="159.95" y1="467.58" y2="469.5" stroke="#a2a5a8" stroke-width="2.7" stroke-linecap="round"/><line x1="159.95" x2="159.95" y1="469.5" y2="472.5" stroke="#444444" stroke-width="2.7"/>
<rect x="162.58" y="469.9" width="4.15" height="5.1" fill="#111111"/><line x1="164.65" x2="164.65" y1="467.58" y2="469.9" stroke="#a2a5a8" stroke-width="2.7" stroke-linecap="round"/><line x1="164.65" x2="164.65" y1="469.9" y2="473.3" stroke="#444444" stroke-width="2.7"/>
<rect x="167.28" y="466.5" width="4.15" height="8.5" fill="#111111"/><line x1="169.35" x2="169.35" y1="463.78" y2="466.5" stroke="#a2a5a8" stroke-width="2.7" stroke-linecap="round"/><line x1="169.35" x2="169.35" y1="466.5" y2="470.3" stroke="#444444" stroke-width="2.7"/>
<rect x="171.98" y="472.9" width="4.15" height="2.1" fill="#111111"/><line x1="174.05" x2="174.05" y1="471.78" y2="472.9" stroke="#a2a5a8" stroke-width="2.7" stroke-linecap="round"/><line x1="174.05" x2="174.05" y1="472.9" y2="475.1" stroke="#444444" stroke-width="2.7"/>
<rect x="176.68" y="471.2" width="4.15" height="3.8" fill="#111111"/><line x1="178.75" x2="178.75" y1="469.68" y2="471.2" stroke="#a2a5a8" stroke-width="2.7" stroke-linecap="round"/><line x1="178.75" x2="178.75" y1="471.2" y2="473.8" stroke="#444444" stroke-width="2.7"/>
<rect x="181.38" y="471.6" width="4.15" height="3.4" fill="#111111"/><line x1="183.45" x2="183.45" y1="470.58" y2="471.6" stroke="#a2a5a8" stroke-width="2.7" stroke-linecap="round"/><line x1="183.45" x2="183.45" y1="471.6" y2="473.7" stroke="#444444" stroke-width="2.7"/>
<rect x="186.08" y="470.7" width="4.15" height="4.3" fill="#111111"/><line x1="188.15" x2="188.15" y1="468.88" y2="470.7" stroke="#a2a5a8" stroke-width="2.7" stroke-linecap="round"/><line x1="188.15" x2="188.15" y1="470.7" y2="473.6" stroke="#444444" stroke-width="2.7"/>
<rect x="190.78" y="471.6" width="4.15" height="3.4" fill="#111111"/><line x1="192.85" x2="192.85" y1="470.58" y2="471.6" stroke="#a2a5a8" stroke-width="2.7" stroke-linecap="round"/><line x1="192.85" x2="192.85" y1="471.6" y2="473.7" stroke="#444444" stroke-width="2.7"/>
<rect x="195.48" y="471.6" width="4.15" height="3.4" fill="#111111"/><line x1="197.55" x2="197.55" y1="470.78" y2="471.6" stroke="#a2a5a8" stroke-width="2.7" stroke-linecap="round"/><line x1="197.55" x2="197.55" y1="471.6" y2="473.5" stroke="#444444" stroke-width="2.7"/>
<rect x="200.18" y="470.7" width="4.15" height="4.3" fill="#111111"/><line x1="202.25" x2="202.25" y1="468.88" y2="470.7" stroke="#a2a5a8" stroke-width="2.7" stroke-linecap="round"/><line x1="202.25" x2="202.25" y1="470.7" y2="473.6" stroke="#444444" stroke-width="2.7"/>
<rect x="204.88" y="461.4" width="4.15" height="13.6" fill="#111111"/><line x1="206.95" x2="206.95" y1="457.78" y2="461.4" stroke="#a2a5a8" stroke-width="2.7" stroke-linecap="round"/><line x1="206.95" x2="206.95" y1="461.4" y2="466.1" stroke="#444444" stroke-width="2.7"/>
<rect x="209.58" y="468.2" width="4.15" height="6.8" fill="#111111"/><line x1="211.65" x2="211.65" y1="465.48" y2="468.2" stroke="#a2a5a8" stroke-width="2.7" stroke-linecap="round"/><line x1="211.65" x2="211.65" y1="468.2" y2="472" stroke="#444444" stroke-width="2.7"/>
<rect x="214.28" y="469.5" width="4.15" height="5.5" fill="#111111"/><line x1="216.35" x2="216.35" y1="467.58" y2="469.5" stroke="#a2a5a8" stroke-width="2.7" stroke-linecap="round"/><line x1="216.35" x2="216.35" y1="469.5" y2="472.5" stroke="#444444" stroke-width="2.7"/>
<rect x="218.98" y="467.3" width="4.15" height="7.7" fill="#111111"/><line x1="221.05" x2="221.05" y1="465.88" y2="467.3" stroke="#a2a5a8" stroke-width="2.7" stroke-linecap="round"/><line x1="221.05" x2="221.05" y1="467.3" y2="469.8" stroke="#444444" stroke-width="2.7"/>
<rect x="226.48" y="453.3" width="4.15" height="21.7" fill="#e52a28"/><line x1="228.55" x2="228.55" y1="449.68" y2="453.3" stroke="#a2a5a8" stroke-width="2.7" stroke-linecap="round"/><line x1="228.55" x2="228.55" y1="453.3" y2="458" stroke="#cd6f6d" stroke-width="2.7"/>
<rect x="231.18" y="463.1" width="4.15" height="11.9" fill="#e52a28"/><line x1="233.25" x2="233.25" y1="461.58" y2="463.1" stroke="#a2a5a8" stroke-width="2.7" stroke-linecap="round"/><line x1="233.25" x2="233.25" y1="463.1" y2="465.7" stroke="#cd6f6d" stroke-width="2.7"/>
<rect x="235.88" y="464.4" width="4.15" height="10.6" fill="#e52a28"/><line x1="237.95" x2="237.95" y1="461.58" y2="464.4" stroke="#a2a5a8" stroke-width="2.7" stroke-linecap="round"/><line x1="237.95" x2="237.95" y1="464.4" y2="468.3" stroke="#cd6f6d" stroke-width="2.7"/>
<rect x="240.58" y="459.3" width="4.15" height="15.7" fill="#e52a28"/><line x1="242.65" x2="242.65" y1="455.68" y2="459.3" stroke="#a2a5a8" stroke-width="2.7" stroke-linecap="round"/><line x1="242.65" x2="242.65" y1="459.3" y2="464" stroke="#cd6f6d" stroke-width="2.7"/>
<rect x="245.28" y="459.3" width="4.15" height="15.7" fill="#e52a28"/><line x1="247.35" x2="247.35" y1="456.48" y2="459.3" stroke="#a2a5a8" stroke-width="2.7" stroke-linecap="round"/><line x1="247.35" x2="247.35" y1="459.3" y2="463.2" stroke="#cd6f6d" stroke-width="2.7"/>
<rect x="249.98" y="466.5" width="4.15" height="8.5" fill="#e52a28"/><line x1="252.05" x2="252.05" y1="464.58" y2="466.5" stroke="#a2a5a8" stroke-width="2.7" stroke-linecap="round"/><line x1="252.05" x2="252.05" y1="466.5" y2="469.5" stroke="#cd6f6d" stroke-width="2.7"/>
<rect x="254.68" y="463.5" width="4.15" height="11.5" fill="#e52a28"/><line x1="256.75" x2="256.75" y1="460.78" y2="463.5" stroke="#a2a5a8" stroke-width="2.7" stroke-linecap="round"/><line x1="256.75" x2="256.75" y1="463.5" y2="467.3" stroke="#cd6f6d" stroke-width="2.7"/>
<rect x="259.38" y="467.3" width="4.15" height="7.7" fill="#e52a28"/><line x1="261.45" x2="261.45" y1="465.48" y2="467.3" stroke="#a2a5a8" stroke-width="2.7" stroke-linecap="round"/><line x1="261.45" x2="261.45" y1="467.3" y2="470.2" stroke="#cd6f6d" stroke-width="2.7"/>
<rect x="264.08" y="456.3" width="4.15" height="18.7" fill="#e52a28"/><line x1="266.15" x2="266.15" y1="453.58" y2="456.3" stroke="#a2a5a8" stroke-width="2.7" stroke-linecap="round"/><line x1="266.15" x2="266.15" y1="456.3" y2="460.1" stroke="#cd6f6d" stroke-width="2.7"/>
<rect x="268.78" y="465.5" width="4.15" height="9.5" fill="#e52a28"/><line x1="270.85" x2="270.85" y1="463.58" y2="465.5" stroke="#a2a5a8" stroke-width="2.7" stroke-linecap="round"/><line x1="270.85" x2="270.85" y1="465.5" y2="468.5" stroke="#cd6f6d" stroke-width="2.7"/>
<rect x="273.48" y="464.4" width="4.15" height="10.6" fill="#e52a28"/><line x1="275.55" x2="275.55" y1="461.58" y2="464.4" stroke="#a2a5a8" stroke-width="2.7" stroke-linecap="round"/><line x1="275.55" x2="275.55" y1="464.4" y2="468.3" stroke="#cd6f6d" stroke-width="2.7"/>
<rect x="278.18" y="467.3" width="4.15" height="7.7" fill="#e52a28"/><line x1="280.25" x2="280.25" y1="465.48" y2="467.3" stroke="#a2a5a8" stroke-width="2.7" stroke-linecap="round"/><line x1="280.25" x2="280.25" y1="467.3" y2="470.2" stroke="#cd6f6d" stroke-width="2.7"/>
<rect x="282.88" y="442.3" width="4.15" height="32.7" fill="#e52a28"/><line x1="284.95" x2="284.95" y1="436.58" y2="442.3" stroke="#a2a5a8" stroke-width="2.7" stroke-linecap="round"/><line x1="284.95" x2="284.95" y1="442.3" y2="449.1" stroke="#cd6f6d" stroke-width="2.7"/>
<rect x="287.58" y="458.4" width="4.15" height="16.6" fill="#e52a28"/><line x1="289.65" x2="289.65" y1="454.38" y2="458.4" stroke="#a2a5a8" stroke-width="2.7" stroke-linecap="round"/><line x1="289.65" x2="289.65" y1="458.4" y2="463.5" stroke="#cd6f6d" stroke-width="2.7"/>
<rect x="292.28" y="454.3" width="4.15" height="20.7" fill="#e52a28"/><line x1="294.35" x2="294.35" y1="450.58" y2="454.3" stroke="#a2a5a8" stroke-width="2.7" stroke-linecap="round"/><line x1="294.35" x2="294.35" y1="454.3" y2="459.1" stroke="#cd6f6d" stroke-width="2.7"/>
<rect x="296.98" y="457.4" width="4.15" height="17.6" fill="#e52a28"/><line x1="299.05" x2="299.05" y1="454.38" y2="457.4" stroke="#a2a5a8" stroke-width="2.7" stroke-linecap="round"/><line x1="299.05" x2="299.05" y1="457.4" y2="461.5" stroke="#cd6f6d" stroke-width="2.7"/>
<rect x="304.48" y="458.8" width="4.15" height="16.2" fill="#cbcaca"/><line x1="306.55" x2="306.55" y1="455.68" y2="458.8" stroke="#a2a5a8" stroke-width="2.7" stroke-linecap="round"/><line x1="306.55" x2="306.55" y1="458.8" y2="463" stroke="#adadad" stroke-width="2.7"/>
<rect x="309.18" y="468.6" width="4.15" height="6.4" fill="#cbcaca"/><line x1="311.25" x2="311.25" y1="466.48" y2="468.6" stroke="#a2a5a8" stroke-width="2.7" stroke-linecap="round"/><line x1="311.25" x2="311.25" y1="468.6" y2="471.8" stroke="#adadad" stroke-width="2.7"/>
<rect x="313.88" y="466.5" width="4.15" height="8.5" fill="#cbcaca"/><line x1="315.95" x2="315.95" y1="464.58" y2="466.5" stroke="#a2a5a8" stroke-width="2.7" stroke-linecap="round"/><line x1="315.95" x2="315.95" y1="466.5" y2="469.5" stroke="#adadad" stroke-width="2.7"/>
<rect x="318.58" y="456.7" width="4.15" height="18.3" fill="#cbcaca"/><line x1="320.65" x2="320.65" y1="452.68" y2="456.7" stroke="#a2a5a8" stroke-width="2.7" stroke-linecap="round"/><line x1="320.65" x2="320.65" y1="456.7" y2="461.8" stroke="#adadad" stroke-width="2.7"/>
<rect x="323.28" y="468.6" width="4.15" height="6.4" fill="#cbcaca"/><line x1="325.35" x2="325.35" y1="466.68" y2="468.6" stroke="#a2a5a8" stroke-width="2.7" stroke-linecap="round"/><line x1="325.35" x2="325.35" y1="468.6" y2="471.6" stroke="#adadad" stroke-width="2.7"/>
<rect x="327.98" y="470.3" width="4.15" height="4.7" fill="#cbcaca"/><line x1="330.05" x2="330.05" y1="468.68" y2="470.3" stroke="#a2a5a8" stroke-width="2.7" stroke-linecap="round"/><line x1="330.05" x2="330.05" y1="470.3" y2="473" stroke="#adadad" stroke-width="2.7"/>
<rect x="332.68" y="470.3" width="4.15" height="4.7" fill="#cbcaca"/><line x1="334.75" x2="334.75" y1="468.68" y2="470.3" stroke="#a2a5a8" stroke-width="2.7" stroke-linecap="round"/><line x1="334.75" x2="334.75" y1="470.3" y2="473" stroke="#adadad" stroke-width="2.7"/>
<rect x="337.38" y="468.6" width="4.15" height="6.4" fill="#cbcaca"/><line x1="339.45" x2="339.45" y1="466.68" y2="468.6" stroke="#a2a5a8" stroke-width="2.7" stroke-linecap="round"/><line x1="339.45" x2="339.45" y1="468.6" y2="471.6" stroke="#adadad" stroke-width="2.7"/>
<rect x="342.08" y="467.8" width="4.15" height="7.2" fill="#cbcaca"/><line x1="344.15" x2="344.15" y1="465.58" y2="467.8" stroke="#a2a5a8" stroke-width="2.7" stroke-linecap="round"/><line x1="344.15" x2="344.15" y1="467.8" y2="471.1" stroke="#adadad" stroke-width="2.7"/>
<rect x="346.78" y="472.4" width="4.15" height="2.6" fill="#cbcaca"/><line x1="348.85" x2="348.85" y1="471.58" y2="472.4" stroke="#a2a5a8" stroke-width="2.7" stroke-linecap="round"/><line x1="348.85" x2="348.85" y1="472.4" y2="474.3" stroke="#adadad" stroke-width="2.7"/>
<rect x="351.48" y="470.3" width="4.15" height="4.7" fill="#cbcaca"/><line x1="353.55" x2="353.55" y1="468.68" y2="470.3" stroke="#a2a5a8" stroke-width="2.7" stroke-linecap="round"/><line x1="353.55" x2="353.55" y1="470.3" y2="473" stroke="#adadad" stroke-width="2.7"/>
<rect x="356.18" y="468.6" width="4.15" height="6.4" fill="#cbcaca"/><line x1="358.25" x2="358.25" y1="466.48" y2="468.6" stroke="#a2a5a8" stroke-width="2.7" stroke-linecap="round"/><line x1="358.25" x2="358.25" y1="468.6" y2="471.8" stroke="#adadad" stroke-width="2.7"/>
<rect x="360.88" y="461.8" width="4.15" height="13.2" fill="#cbcaca"/><line x1="362.95" x2="362.95" y1="458.68" y2="461.8" stroke="#a2a5a8" stroke-width="2.7" stroke-linecap="round"/><line x1="362.95" x2="362.95" y1="461.8" y2="466" stroke="#adadad" stroke-width="2.7"/>
<rect x="365.58" y="462.2" width="4.15" height="12.8" fill="#cbcaca"/><line x1="367.65" x2="367.65" y1="459.68" y2="462.2" stroke="#a2a5a8" stroke-width="2.7" stroke-linecap="round"/><line x1="367.65" x2="367.65" y1="462.2" y2="465.8" stroke="#adadad" stroke-width="2.7"/>
<rect x="370.28" y="463.5" width="4.15" height="11.5" fill="#cbcaca"/><line x1="372.35" x2="372.35" y1="461.58" y2="463.5" stroke="#a2a5a8" stroke-width="2.7" stroke-linecap="round"/><line x1="372.35" x2="372.35" y1="463.5" y2="466.5" stroke="#adadad" stroke-width="2.7"/>
<rect x="374.98" y="446.5" width="4.15" height="28.5" fill="#cbcaca"/><line x1="377.05" x2="377.05" y1="442.48" y2="446.5" stroke="#a2a5a8" stroke-width="2.7" stroke-linecap="round"/><line x1="377.05" x2="377.05" y1="446.5" y2="451.6" stroke="#adadad" stroke-width="2.7"/>
<rect x="382.48" y="457.6" width="4.15" height="17.4" fill="#a2d063"/><line x1="384.55" x2="384.55" y1="454.38" y2="457.6" stroke="#a2a5a8" stroke-width="2.7" stroke-linecap="round"/><line x1="384.55" x2="384.55" y1="457.6" y2="461.9" stroke="#a1b08e" stroke-width="2.7"/>
<rect x="387.18" y="462.7" width="4.15" height="12.3" fill="#a2d063"/><line x1="389.25" x2="389.25" y1="460.38" y2="462.7" stroke="#a2a5a8" stroke-width="2.7" stroke-linecap="round"/><line x1="389.25" x2="389.25" y1="462.7" y2="466.1" stroke="#a1b08e" stroke-width="2.7"/>
<rect x="391.88" y="464.4" width="4.15" height="10.6" fill="#a2d063"/><line x1="393.95" x2="393.95" y1="461.58" y2="464.4" stroke="#a2a5a8" stroke-width="2.7" stroke-linecap="round"/><line x1="393.95" x2="393.95" y1="464.4" y2="468.3" stroke="#a1b08e" stroke-width="2.7"/>
<rect x="396.58" y="454.6" width="4.15" height="20.4" fill="#a2d063"/><line x1="398.65" x2="398.65" y1="451.38" y2="454.6" stroke="#a2a5a8" stroke-width="2.7" stroke-linecap="round"/><line x1="398.65" x2="398.65" y1="454.6" y2="458.9" stroke="#a1b08e" stroke-width="2.7"/>
<rect x="401.28" y="471.2" width="4.15" height="3.8" fill="#a2d063"/><line x1="403.35" x2="403.35" y1="469.68" y2="471.2" stroke="#a2a5a8" stroke-width="2.7" stroke-linecap="round"/><line x1="403.35" x2="403.35" y1="471.2" y2="473.8" stroke="#a1b08e" stroke-width="2.7"/>
<rect x="405.98" y="467.3" width="4.15" height="7.7" fill="#a2d063"/><line x1="408.05" x2="408.05" y1="465.48" y2="467.3" stroke="#a2a5a8" stroke-width="2.7" stroke-linecap="round"/><line x1="408.05" x2="408.05" y1="467.3" y2="470.2" stroke="#a1b08e" stroke-width="2.7"/>
<rect x="410.68" y="471.6" width="4.15" height="3.4" fill="#a2d063"/><line x1="412.75" x2="412.75" y1="470.58" y2="471.6" stroke="#a2a5a8" stroke-width="2.7" stroke-linecap="round"/><line x1="412.75" x2="412.75" y1="471.6" y2="473.7" stroke="#a1b08e" stroke-width="2.7"/>
<rect x="415.38" y="467.8" width="4.15" height="7.2" fill="#a2d063"/><line x1="417.45" x2="417.45" y1="465.88" y2="467.8" stroke="#a2a5a8" stroke-width="2.7" stroke-linecap="round"/><line x1="417.45" x2="417.45" y1="467.8" y2="470.8" stroke="#a1b08e" stroke-width="2.7"/>
<rect x="420.08" y="464.4" width="4.15" height="10.6" fill="#a2d063"/><line x1="422.15" x2="422.15" y1="461.58" y2="464.4" stroke="#a2a5a8" stroke-width="2.7" stroke-linecap="round"/><line x1="422.15" x2="422.15" y1="464.4" y2="468.3" stroke="#a1b08e" stroke-width="2.7"/>
<rect x="424.78" y="464.4" width="4.15" height="10.6" fill="#a2d063"/><line x1="426.85" x2="426.85" y1="462.48" y2="464.4" stroke="#a2a5a8" stroke-width="2.7" stroke-linecap="round"/><line x1="426.85" x2="426.85" y1="464.4" y2="467.4" stroke="#a1b08e" stroke-width="2.7"/>
<rect x="429.48" y="464.8" width="4.15" height="10.2" fill="#a2d063"/><line x1="431.55" x2="431.55" y1="462.48" y2="464.8" stroke="#a2a5a8" stroke-width="2.7" stroke-linecap="round"/><line x1="431.55" x2="431.55" y1="464.8" y2="468.2" stroke="#a1b08e" stroke-width="2.7"/>
<rect x="434.18" y="456.7" width="4.15" height="18.3" fill="#a2d063"/><line x1="436.25" x2="436.25" y1="453.58" y2="456.7" stroke="#a2a5a8" stroke-width="2.7" stroke-linecap="round"/><line x1="436.25" x2="436.25" y1="456.7" y2="460.9" stroke="#a1b08e" stroke-width="2.7"/>
<rect x="438.88" y="465.2" width="4.15" height="9.8" fill="#a2d063"/><line x1="440.95" x2="440.95" y1="463.28" y2="465.2" stroke="#a2a5a8" stroke-width="2.7" stroke-linecap="round"/><line x1="440.95" x2="440.95" y1="465.2" y2="468.2" stroke="#a1b08e" stroke-width="2.7"/>
<rect x="443.58" y="463.5" width="4.15" height="11.5" fill="#a2d063"/><line x1="445.65" x2="445.65" y1="461.58" y2="463.5" stroke="#a2a5a8" stroke-width="2.7" stroke-linecap="round"/><line x1="445.65" x2="445.65" y1="463.5" y2="466.5" stroke="#a1b08e" stroke-width="2.7"/>
<rect x="448.28" y="462.2" width="4.15" height="12.8" fill="#a2d063"/><line x1="450.35" x2="450.35" y1="459.48" y2="462.2" stroke="#a2a5a8" stroke-width="2.7" stroke-linecap="round"/><line x1="450.35" x2="450.35" y1="462.2" y2="466" stroke="#a1b08e" stroke-width="2.7"/>
<rect x="452.98" y="457.6" width="4.15" height="17.4" fill="#a2d063"/><line x1="455.05" x2="455.05" y1="453.58" y2="457.6" stroke="#a2a5a8" stroke-width="2.7" stroke-linecap="round"/><line x1="455.05" x2="455.05" y1="457.6" y2="462.7" stroke="#a1b08e" stroke-width="2.7"/>
<rect x="460.48" y="468" width="4.15" height="7" fill="#eec9c6"/><line x1="462.55" x2="462.55" y1="465.68" y2="468" stroke="#a2a5a8" stroke-width="2.7" stroke-linecap="round"/><line x1="462.55" x2="462.55" y1="468" y2="471.4" stroke="#b9adac" stroke-width="2.7"/>
<rect x="465.18" y="471.9" width="4.15" height="3.1" fill="#eec9c6"/><line x1="467.25" x2="467.25" y1="470.78" y2="471.9" stroke="#a2a5a8" stroke-width="2.7" stroke-linecap="round"/><line x1="467.25" x2="467.25" y1="471.9" y2="474.1" stroke="#b9adac" stroke-width="2.7"/>
<rect x="469.88" y="470.6" width="4.15" height="4.4" fill="#eec9c6"/><line x1="471.95" x2="471.95" y1="468.88" y2="470.6" stroke="#a2a5a8" stroke-width="2.7" stroke-linecap="round"/><line x1="471.95" x2="471.95" y1="470.6" y2="473.4" stroke="#b9adac" stroke-width="2.7"/>
<rect x="474.58" y="465.5" width="4.15" height="9.5" fill="#eec9c6"/><line x1="476.65" x2="476.65" y1="462.68" y2="465.5" stroke="#a2a5a8" stroke-width="2.7" stroke-linecap="round"/><line x1="476.65" x2="476.65" y1="465.5" y2="469.4" stroke="#b9adac" stroke-width="2.7"/>
<rect x="479.28" y="471.7" width="4.15" height="3.3" fill="#eec9c6"/><line x1="481.35" x2="481.35" y1="470.78" y2="471.7" stroke="#a2a5a8" stroke-width="2.7" stroke-linecap="round"/><line x1="481.35" x2="481.35" y1="471.7" y2="473.7" stroke="#b9adac" stroke-width="2.7"/>
<rect x="483.98" y="473.1" width="4.15" height="1.9" fill="#eec9c6"/><line x1="486.05" x2="486.05" y1="472.48" y2="473.1" stroke="#a2a5a8" stroke-width="2.7" stroke-linecap="round"/><line x1="486.05" x2="486.05" y1="473.1" y2="474.8" stroke="#b9adac" stroke-width="2.7"/>
<rect x="488.68" y="470.6" width="4.15" height="4.4" fill="#eec9c6"/><line x1="490.75" x2="490.75" y1="469.58" y2="470.6" stroke="#a2a5a8" stroke-width="2.7" stroke-linecap="round"/><line x1="490.75" x2="490.75" y1="470.6" y2="472.7" stroke="#b9adac" stroke-width="2.7"/>
<rect x="493.38" y="469.7" width="4.15" height="5.3" fill="#eec9c6"/><line x1="495.45" x2="495.45" y1="467.88" y2="469.7" stroke="#a2a5a8" stroke-width="2.7" stroke-linecap="round"/><line x1="495.45" x2="495.45" y1="469.7" y2="472.6" stroke="#b9adac" stroke-width="2.7"/>
<rect x="498.08" y="472.5" width="4.15" height="2.5" fill="#eec9c6"/><line x1="500.15" x2="500.15" y1="471.68" y2="472.5" stroke="#a2a5a8" stroke-width="2.7" stroke-linecap="round"/><line x1="500.15" x2="500.15" y1="472.5" y2="474.4" stroke="#b9adac" stroke-width="2.7"/>
<rect x="502.78" y="471.4" width="4.15" height="3.6" fill="#eec9c6"/><line x1="504.85" x2="504.85" y1="470.58" y2="471.4" stroke="#a2a5a8" stroke-width="2.7" stroke-linecap="round"/><line x1="504.85" x2="504.85" y1="471.4" y2="473.3" stroke="#b9adac" stroke-width="2.7"/>
<rect x="507.48" y="470.6" width="4.15" height="4.4" fill="#eec9c6"/><line x1="509.55" x2="509.55" y1="468.88" y2="470.6" stroke="#a2a5a8" stroke-width="2.7" stroke-linecap="round"/><line x1="509.55" x2="509.55" y1="470.6" y2="473.4" stroke="#b9adac" stroke-width="2.7"/>
<rect x="512.17" y="469.3" width="4.15" height="5.7" fill="#eec9c6"/><line x1="514.25" x2="514.25" y1="467.68" y2="469.3" stroke="#a2a5a8" stroke-width="2.7" stroke-linecap="round"/><line x1="514.25" x2="514.25" y1="469.3" y2="472" stroke="#b9adac" stroke-width="2.7"/>
<rect x="516.88" y="466.3" width="4.15" height="8.7" fill="#eec9c6"/><line x1="518.95" x2="518.95" y1="463.78" y2="466.3" stroke="#a2a5a8" stroke-width="2.7" stroke-linecap="round"/><line x1="518.95" x2="518.95" y1="466.3" y2="469.9" stroke="#b9adac" stroke-width="2.7"/>
<rect x="521.57" y="469.7" width="4.15" height="5.3" fill="#eec9c6"/><line x1="523.65" x2="523.65" y1="467.88" y2="469.7" stroke="#a2a5a8" stroke-width="2.7" stroke-linecap="round"/><line x1="523.65" x2="523.65" y1="469.7" y2="472.6" stroke="#b9adac" stroke-width="2.7"/>
<rect x="526.27" y="466.8" width="4.15" height="8.2" fill="#eec9c6"/><line x1="528.35" x2="528.35" y1="464.58" y2="466.8" stroke="#a2a5a8" stroke-width="2.7" stroke-linecap="round"/><line x1="528.35" x2="528.35" y1="466.8" y2="470.1" stroke="#b9adac" stroke-width="2.7"/>
<rect x="530.97" y="456.5" width="4.15" height="18.5" fill="#eec9c6"/><line x1="533.05" x2="533.05" y1="453.58" y2="456.5" stroke="#a2a5a8" stroke-width="2.7" stroke-linecap="round"/><line x1="533.05" x2="533.05" y1="456.5" y2="460.5" stroke="#b9adac" stroke-width="2.7"/>
</g>
<g>
<rect x="553.8" y="432.5" width="8" height="42.5" fill="#b0242f"/><line x1="557.8" x2="557.8" y1="426.22" y2="432.5" stroke="#a2a5a8" stroke-width="2.3" stroke-linecap="round"/><line x1="557.8" x2="557.8" y1="432.5" y2="439.7" stroke="#d0a0a2" stroke-width="2.3"/>
<rect x="589" y="470.2" width="8" height="4.8" fill="#b0242f"/><line x1="593" x2="593" y1="469.42" y2="470.2" stroke="#a2a5a8" stroke-width="2.3" stroke-linecap="round"/><line x1="593" x2="593" y1="470.2" y2="471.9" stroke="#d0a0a2" stroke-width="2.3"/>
<rect x="617.75" y="450.7" width="9.3" height="24.3" fill="#80cdc1"/><line x1="622.4" x2="622.4" y1="447.32" y2="450.7" stroke="#a2a5a8" stroke-width="2.3" stroke-linecap="round"/><line x1="622.4" x2="622.4" y1="450.7" y2="455" stroke="#96aaa6" stroke-width="2.3"/>
<rect x="630.05" y="450.7" width="9.3" height="24.3" fill="#80cdc1"/><line x1="634.7" x2="634.7" y1="446.12" y2="450.7" stroke="#a2a5a8" stroke-width="2.3" stroke-linecap="round"/><line x1="634.7" x2="634.7" y1="450.7" y2="456.2" stroke="#96aaa6" stroke-width="2.3"/>
<rect x="642.35" y="471.6" width="9.3" height="3.4" fill="#80cdc1"/><line x1="647" x2="647" y1="470.52" y2="471.6" stroke="#a2a5a8" stroke-width="2.3" stroke-linecap="round"/><line x1="647" x2="647" y1="471.6" y2="473.6" stroke="#96aaa6" stroke-width="2.3"/>
<rect x="654.65" y="451.5" width="9.3" height="23.5" fill="#80cdc1"/><line x1="659.3" x2="659.3" y1="447.92" y2="451.5" stroke="#a2a5a8" stroke-width="2.3" stroke-linecap="round"/><line x1="659.3" x2="659.3" y1="451.5" y2="456" stroke="#96aaa6" stroke-width="2.3"/>
<rect x="666.95" y="445.6" width="9.3" height="29.4" fill="#80cdc1"/><line x1="671.6" x2="671.6" y1="441.52" y2="445.6" stroke="#a2a5a8" stroke-width="2.3" stroke-linecap="round"/><line x1="671.6" x2="671.6" y1="445.6" y2="450.6" stroke="#96aaa6" stroke-width="2.3"/>
<rect x="679.25" y="462.6" width="9.3" height="12.4" fill="#80cdc1"/><line x1="683.9" x2="683.9" y1="459.42" y2="462.6" stroke="#a2a5a8" stroke-width="2.3" stroke-linecap="round"/><line x1="683.9" x2="683.9" y1="462.6" y2="466.7" stroke="#96aaa6" stroke-width="2.3"/>
<rect x="710.2" y="467.8" width="7.8" height="7.2" fill="#f4f4b4"/><line x1="714.1" x2="714.1" y1="465.42" y2="467.8" stroke="#a2a5a8" stroke-width="2.3" stroke-linecap="round"/><line x1="714.1" x2="714.1" y1="467.8" y2="471.1" stroke="#bcbca4" stroke-width="2.3"/>
<rect x="744.7" y="471.3" width="7.8" height="3.7" fill="#f4f4b4"/><line x1="748.6" x2="748.6" y1="469.52" y2="471.3" stroke="#a2a5a8" stroke-width="2.3" stroke-linecap="round"/><line x1="748.6" x2="748.6" y1="471.3" y2="474" stroke="#bcbca4" stroke-width="2.3"/>
<rect x="773.9" y="463.3" width="9" height="11.7" fill="#b2abd2"/><line x1="778.4" x2="778.4" y1="459.32" y2="463.3" stroke="#a2a5a8" stroke-width="2.3" stroke-linecap="round"/><line x1="778.4" x2="778.4" y1="463.3" y2="468.2" stroke="#a6a4b2" stroke-width="2.3"/>
<rect x="786.2" y="472.2" width="9" height="2.8" fill="#b2abd2"/><line x1="790.7" x2="790.7" y1="470.42" y2="472.2" stroke="#a2a5a8" stroke-width="2.3" stroke-linecap="round"/><line x1="790.7" x2="790.7" y1="472.2" y2="474.9" stroke="#a6a4b2" stroke-width="2.3"/>
<rect x="798.5" y="472.2" width="9" height="2.8" fill="#b2abd2"/><line x1="803" x2="803" y1="471.42" y2="472.2" stroke="#a2a5a8" stroke-width="2.3" stroke-linecap="round"/><line x1="803" x2="803" y1="472.2" y2="473.9" stroke="#a6a4b2" stroke-width="2.3"/>
<rect x="810.8" y="470.1" width="9" height="4.9" fill="#b2abd2"/><line x1="815.3" x2="815.3" y1="468.22" y2="470.1" stroke="#a2a5a8" stroke-width="2.3" stroke-linecap="round"/><line x1="815.3" x2="815.3" y1="470.1" y2="472.9" stroke="#a6a4b2" stroke-width="2.3"/>
<rect x="823.1" y="467.3" width="9" height="7.7" fill="#b2abd2"/><line x1="827.6" x2="827.6" y1="465.32" y2="467.3" stroke="#a2a5a8" stroke-width="2.3" stroke-linecap="round"/><line x1="827.6" x2="827.6" y1="467.3" y2="470.2" stroke="#a6a4b2" stroke-width="2.3"/>
<rect x="835.4" y="474.4" width="9" height="0.6" fill="#b2abd2"/><line x1="839.9" x2="839.9" y1="474.22" y2="474.4" stroke="#a2a5a8" stroke-width="2.3" stroke-linecap="round"/><line x1="839.9" x2="839.9" y1="474.4" y2="475.5" stroke="#a6a4b2" stroke-width="2.3"/>
<rect x="851" y="469.3" width="8.6" height="6.3" fill="#7b2a8c"/><line x1="855.3" x2="855.3" y1="467.42" y2="469.3" stroke="#a2a5a8" stroke-width="2.3" stroke-linecap="round"/><line x1="855.3" x2="855.3" y1="469.3" y2="472.1" stroke="#c4a2cb" stroke-width="2.3"/>
<rect x="861.65" y="460.7" width="8.6" height="14.9" fill="#7b2a8c"/><line x1="865.95" x2="865.95" y1="458.52" y2="460.7" stroke="#a2a5a8" stroke-width="2.3" stroke-linecap="round"/><line x1="865.95" x2="865.95" y1="460.7" y2="463.8" stroke="#c4a2cb" stroke-width="2.3"/>
<rect x="872.3" y="471.4" width="8.6" height="4.2" fill="#7b2a8c"/><line x1="876.6" x2="876.6" y1="470.62" y2="471.4" stroke="#a2a5a8" stroke-width="2.3" stroke-linecap="round"/><line x1="876.6" x2="876.6" y1="471.4" y2="473.1" stroke="#c4a2cb" stroke-width="2.3"/>
<rect x="882.95" y="465.6" width="8.6" height="10" fill="#7b2a8c"/><line x1="887.25" x2="887.25" y1="464.42" y2="465.6" stroke="#a2a5a8" stroke-width="2.3" stroke-linecap="round"/><line x1="887.25" x2="887.25" y1="465.6" y2="467.7" stroke="#c4a2cb" stroke-width="2.3"/>
<rect x="893.6" y="472.4" width="8.6" height="3.2" fill="#7b2a8c"/><line x1="897.9" x2="897.9" y1="471.62" y2="472.4" stroke="#a2a5a8" stroke-width="2.3" stroke-linecap="round"/><line x1="897.9" x2="897.9" y1="472.4" y2="474.1" stroke="#c4a2cb" stroke-width="2.3"/>
<rect x="904.25" y="470.7" width="8.6" height="4.9" fill="#7b2a8c"/><line x1="908.55" x2="908.55" y1="469.52" y2="470.7" stroke="#a2a5a8" stroke-width="2.3" stroke-linecap="round"/><line x1="908.55" x2="908.55" y1="470.7" y2="472.8" stroke="#c4a2cb" stroke-width="2.3"/>
<rect x="914.9" y="469.7" width="8.6" height="5.9" fill="#7b2a8c"/><line x1="919.2" x2="919.2" y1="468.72" y2="469.7" stroke="#a2a5a8" stroke-width="2.3" stroke-linecap="round"/><line x1="919.2" x2="919.2" y1="469.7" y2="471.6" stroke="#c4a2cb" stroke-width="2.3"/>
</g>
<line x1="69.8" x2="69.8" y1="483" y2="544.1" stroke="#2a2a2a" stroke-width="1.3"/>
<line x1="66.3" x2="70.45" y1="483" y2="483" stroke="#111" stroke-width="2"/>
<line x1="66.3" x2="70.45" y1="543.8" y2="543.8" stroke="#111" stroke-width="2"/>
<line x1="66.6" x2="70.45" y1="513.55" y2="513.55" stroke="#111" stroke-width="1.6"/>
<text x="59.6" y="490" font-size="16.5" fill="#4a4a4a" text-anchor="end">1</text>
<text x="59.6" y="544.2" font-size="16.5" fill="#4a4a4a" text-anchor="end">0</text>
<text x="151.0" y="513.4" font-size="24.7" fill="#1d1d26">UV-B</text>
<g>
<rect x="70.47" y="539.3" width="4.15" height="4.8" fill="#2bb6e8"/><line x1="72.55" x2="72.55" y1="535.88" y2="539.3" stroke="#a2a5a8" stroke-width="2.7" stroke-linecap="round"/><line x1="72.55" x2="72.55" y1="539.3" y2="543.8" stroke="#5caed0" stroke-width="2.7"/>
<rect x="75.17" y="541.2" width="4.15" height="2.9" fill="#2bb6e8"/><line x1="77.25" x2="77.25" y1="539.08" y2="541.2" stroke="#a2a5a8" stroke-width="2.7" stroke-linecap="round"/><line x1="77.25" x2="77.25" y1="541.2" y2="544.4" stroke="#5caed0" stroke-width="2.7"/>
<rect x="79.88" y="542.4" width="4.15" height="1.7" fill="#2bb6e8"/><line x1="81.95" x2="81.95" y1="541.58" y2="542.4" stroke="#a2a5a8" stroke-width="2.7" stroke-linecap="round"/><line x1="81.95" x2="81.95" y1="542.4" y2="544.3" stroke="#5caed0" stroke-width="2.7"/>
<rect x="84.58" y="539.3" width="4.15" height="4.8" fill="#2bb6e8"/><line x1="86.65" x2="86.65" y1="534.98" y2="539.3" stroke="#a2a5a8" stroke-width="2.7" stroke-linecap="round"/><line x1="86.65" x2="86.65" y1="539.3" y2="544.7" stroke="#5caed0" stroke-width="2.7"/>
<rect x="89.27" y="540.5" width="4.15" height="3.6" fill="#2bb6e8"/><line x1="91.35" x2="91.35" y1="537.18" y2="540.5" stroke="#a2a5a8" stroke-width="2.7" stroke-linecap="round"/><line x1="91.35" x2="91.35" y1="540.5" y2="544.7" stroke="#5caed0" stroke-width="2.7"/>
<rect x="93.97" y="541.8" width="4.15" height="2.3" fill="#2bb6e8"/><line x1="96.05" x2="96.05" y1="539.08" y2="541.8" stroke="#a2a5a8" stroke-width="2.7" stroke-linecap="round"/><line x1="96.05" x2="96.05" y1="541.8" y2="544.7" stroke="#5caed0" stroke-width="2.7"/>
<rect x="98.67" y="542.4" width="4.15" height="1.7" fill="#2bb6e8"/><line x1="100.75" x2="100.75" y1="541.58" y2="542.4" stroke="#a2a5a8" stroke-width="2.7" stroke-linecap="round"/><line x1="100.75" x2="100.75" y1="542.4" y2="544.3" stroke="#5caed0" stroke-width="2.7"/>
<rect x="103.37" y="540.3" width="4.15" height="3.8" fill="#2bb6e8"/><line x1="105.45" x2="105.45" y1="537.18" y2="540.3" stroke="#a2a5a8" stroke-width="2.7" stroke-linecap="round"/><line x1="105.45" x2="105.45" y1="540.3" y2="544.5" stroke="#5caed0" stroke-width="2.7"/>
<rect x="108.08" y="541.2" width="4.15" height="2.9" fill="#2bb6e8"/><line x1="110.15" x2="110.15" y1="539.68" y2="541.2" stroke="#a2a5a8" stroke-width="2.7" stroke-linecap="round"/><line x1="110.15" x2="110.15" y1="541.2" y2="543.8" stroke="#5caed0" stroke-width="2.7"/>
<rect x="112.77" y="542.4" width="4.15" height="1.7" fill="#2bb6e8"/><line x1="114.85" x2="114.85" y1="541.38" y2="542.4" stroke="#a2a5a8" stroke-width="2.7" stroke-linecap="round"/><line x1="114.85" x2="114.85" y1="542.4" y2="544.5" stroke="#5caed0" stroke-width="2.7"/>
<rect x="117.47" y="542.4" width="4.15" height="1.7" fill="#2bb6e8"/><line x1="119.55" x2="119.55" y1="541.58" y2="542.4" stroke="#a2a5a8" stroke-width="2.7" stroke-linecap="round"/><line x1="119.55" x2="119.55" y1="542.4" y2="544.3" stroke="#5caed0" stroke-width="2.7"/>
<rect x="122.17" y="541.8" width="4.15" height="2.3" fill="#2bb6e8"/><line x1="124.25" x2="124.25" y1="540.98" y2="541.8" stroke="#a2a5a8" stroke-width="2.7" stroke-linecap="round"/><line x1="124.25" x2="124.25" y1="541.8" y2="543.7" stroke="#5caed0" stroke-width="2.7"/>
<rect x="126.87" y="539.9" width="4.15" height="4.2" fill="#2bb6e8"/><line x1="128.95" x2="128.95" y1="537.18" y2="539.9" stroke="#a2a5a8" stroke-width="2.7" stroke-linecap="round"/><line x1="128.95" x2="128.95" y1="539.9" y2="543.7" stroke="#5caed0" stroke-width="2.7"/>
<rect x="131.58" y="540.5" width="4.15" height="3.6" fill="#2bb6e8"/><line x1="133.65" x2="133.65" y1="537.18" y2="540.5" stroke="#a2a5a8" stroke-width="2.7" stroke-linecap="round"/><line x1="133.65" x2="133.65" y1="540.5" y2="544.7" stroke="#5caed0" stroke-width="2.7"/>
<rect x="136.28" y="541.5" width="4.15" height="2.6" fill="#2bb6e8"/><line x1="138.35" x2="138.35" y1="539.68" y2="541.5" stroke="#a2a5a8" stroke-width="2.7" stroke-linecap="round"/><line x1="138.35" x2="138.35" y1="541.5" y2="544.4" stroke="#5caed0" stroke-width="2.7"/>
<rect x="140.98" y="540.8" width="4.15" height="3.3" fill="#2bb6e8"/><line x1="143.05" x2="143.05" y1="534.98" y2="540.8" stroke="#a2a5a8" stroke-width="2.7" stroke-linecap="round"/><line x1="143.05" x2="143.05" y1="540.8" y2="544.7" stroke="#5caed0" stroke-width="2.7"/>
<rect x="148.48" y="542" width="4.15" height="2.1" fill="#111111"/><line x1="150.55" x2="150.55" y1="539.68" y2="542" stroke="#a2a5a8" stroke-width="2.7" stroke-linecap="round"/><line x1="150.55" x2="150.55" y1="542" y2="544.7" stroke="#444444" stroke-width="2.7"/>
<rect x="153.18" y="542.8" width="4.15" height="1.3" fill="#111111"/><line x1="155.25" x2="155.25" y1="541.78" y2="542.8" stroke="#a2a5a8" stroke-width="2.7" stroke-linecap="round"/><line x1="155.25" x2="155.25" y1="542.8" y2="544.7" stroke="#444444" stroke-width="2.7"/>
<rect x="157.88" y="542.8" width="4.15" height="1.3" fill="#111111"/><line x1="159.95" x2="159.95" y1="541.78" y2="542.8" stroke="#a2a5a8" stroke-width="2.7" stroke-linecap="round"/><line x1="159.95" x2="159.95" y1="542.8" y2="544.7" stroke="#444444" stroke-width="2.7"/>
<rect x="162.58" y="541.5" width="4.15" height="2.6" fill="#111111"/><line x1="164.65" x2="164.65" y1="537.48" y2="541.5" stroke="#a2a5a8" stroke-width="2.7" stroke-linecap="round"/><line x1="164.65" x2="164.65" y1="541.5" y2="544.7" stroke="#444444" stroke-width="2.7"/>
<rect x="167.28" y="541.5" width="4.15" height="2.6" fill="#111111"/><line x1="169.35" x2="169.35" y1="538.78" y2="541.5" stroke="#a2a5a8" stroke-width="2.7" stroke-linecap="round"/><line x1="169.35" x2="169.35" y1="541.5" y2="544.7" stroke="#444444" stroke-width="2.7"/>
<rect x="171.98" y="541.1" width="4.15" height="3" fill="#111111"/><line x1="174.05" x2="174.05" y1="537.48" y2="541.1" stroke="#a2a5a8" stroke-width="2.7" stroke-linecap="round"/><line x1="174.05" x2="174.05" y1="541.1" y2="544.7" stroke="#444444" stroke-width="2.7"/>
<rect x="176.68" y="542" width="4.15" height="2.1" fill="#111111"/><line x1="178.75" x2="178.75" y1="539.68" y2="542" stroke="#a2a5a8" stroke-width="2.7" stroke-linecap="round"/><line x1="178.75" x2="178.75" y1="542" y2="544.7" stroke="#444444" stroke-width="2.7"/>
<rect x="181.38" y="542.8" width="4.15" height="1.3" fill="#111111"/><line x1="183.45" x2="183.45" y1="541.78" y2="542.8" stroke="#a2a5a8" stroke-width="2.7" stroke-linecap="round"/><line x1="183.45" x2="183.45" y1="542.8" y2="544.7" stroke="#444444" stroke-width="2.7"/>
<rect x="186.08" y="542.4" width="4.15" height="1.7" fill="#111111"/><line x1="188.15" x2="188.15" y1="540.48" y2="542.4" stroke="#a2a5a8" stroke-width="2.7" stroke-linecap="round"/><line x1="188.15" x2="188.15" y1="542.4" y2="544.7" stroke="#444444" stroke-width="2.7"/>
<rect x="190.78" y="542.4" width="4.15" height="1.7" fill="#111111"/><line x1="192.85" x2="192.85" y1="540.48" y2="542.4" stroke="#a2a5a8" stroke-width="2.7" stroke-linecap="round"/><line x1="192.85" x2="192.85" y1="542.4" y2="544.7" stroke="#444444" stroke-width="2.7"/>
<rect x="195.48" y="542.8" width="4.15" height="1.3" fill="#111111"/><line x1="197.55" x2="197.55" y1="541.78" y2="542.8" stroke="#a2a5a8" stroke-width="2.7" stroke-linecap="round"/><line x1="197.55" x2="197.55" y1="542.8" y2="544.7" stroke="#444444" stroke-width="2.7"/>
<rect x="200.18" y="542.4" width="4.15" height="1.7" fill="#111111"/><line x1="202.25" x2="202.25" y1="540.88" y2="542.4" stroke="#a2a5a8" stroke-width="2.7" stroke-linecap="round"/><line x1="202.25" x2="202.25" y1="542.4" y2="544.7" stroke="#444444" stroke-width="2.7"/>
<rect x="204.88" y="540.7" width="4.15" height="3.4" fill="#111111"/><line x1="206.95" x2="206.95" y1="536.68" y2="540.7" stroke="#a2a5a8" stroke-width="2.7" stroke-linecap="round"/><line x1="206.95" x2="206.95" y1="540.7" y2="544.7" stroke="#444444" stroke-width="2.7"/>
<rect x="209.58" y="541.7" width="4.15" height="2.4" fill="#111111"/><line x1="211.65" x2="211.65" y1="540.48" y2="541.7" stroke="#a2a5a8" stroke-width="2.7" stroke-linecap="round"/><line x1="211.65" x2="211.65" y1="541.7" y2="544" stroke="#444444" stroke-width="2.7"/>
<rect x="214.28" y="541.7" width="4.15" height="2.4" fill="#111111"/><line x1="216.35" x2="216.35" y1="540.48" y2="541.7" stroke="#a2a5a8" stroke-width="2.7" stroke-linecap="round"/><line x1="216.35" x2="216.35" y1="541.7" y2="544" stroke="#444444" stroke-width="2.7"/>
<rect x="218.98" y="541.1" width="4.15" height="3" fill="#111111"/><line x1="221.05" x2="221.05" y1="538.58" y2="541.1" stroke="#a2a5a8" stroke-width="2.7" stroke-linecap="round"/><line x1="221.05" x2="221.05" y1="541.1" y2="544.7" stroke="#444444" stroke-width="2.7"/>
<rect x="226.48" y="540.5" width="4.15" height="3.6" fill="#e52a28"/><line x1="228.55" x2="228.55" y1="538.08" y2="540.5" stroke="#a2a5a8" stroke-width="2.7" stroke-linecap="round"/><line x1="228.55" x2="228.55" y1="540.5" y2="544" stroke="#cd6f6d" stroke-width="2.7"/>
<rect x="231.18" y="536.1" width="4.15" height="8" fill="#e52a28"/><line x1="233.25" x2="233.25" y1="533.28" y2="536.1" stroke="#a2a5a8" stroke-width="2.7" stroke-linecap="round"/><line x1="233.25" x2="233.25" y1="536.1" y2="540" stroke="#cd6f6d" stroke-width="2.7"/>
<rect x="235.88" y="538" width="4.15" height="6.1" fill="#e52a28"/><line x1="237.95" x2="237.95" y1="533.98" y2="538" stroke="#a2a5a8" stroke-width="2.7" stroke-linecap="round"/><line x1="237.95" x2="237.95" y1="538" y2="543.1" stroke="#cd6f6d" stroke-width="2.7"/>
<rect x="240.58" y="533.5" width="4.15" height="10.6" fill="#e52a28"/><line x1="242.65" x2="242.65" y1="528.88" y2="533.5" stroke="#a2a5a8" stroke-width="2.7" stroke-linecap="round"/><line x1="242.65" x2="242.65" y1="533.5" y2="539.2" stroke="#cd6f6d" stroke-width="2.7"/>
<rect x="245.28" y="532.9" width="4.15" height="11.2" fill="#e52a28"/><line x1="247.35" x2="247.35" y1="526.98" y2="532.9" stroke="#a2a5a8" stroke-width="2.7" stroke-linecap="round"/><line x1="247.35" x2="247.35" y1="532.9" y2="539.9" stroke="#cd6f6d" stroke-width="2.7"/>
<rect x="249.98" y="529.7" width="4.15" height="14.4" fill="#e52a28"/><line x1="252.05" x2="252.05" y1="523.08" y2="529.7" stroke="#a2a5a8" stroke-width="2.7" stroke-linecap="round"/><line x1="252.05" x2="252.05" y1="529.7" y2="537.4" stroke="#cd6f6d" stroke-width="2.7"/>
<rect x="254.68" y="538" width="4.15" height="6.1" fill="#e52a28"/><line x1="256.75" x2="256.75" y1="535.28" y2="538" stroke="#a2a5a8" stroke-width="2.7" stroke-linecap="round"/><line x1="256.75" x2="256.75" y1="538" y2="541.8" stroke="#cd6f6d" stroke-width="2.7"/>
<rect x="259.38" y="532.9" width="4.15" height="11.2" fill="#e52a28"/><line x1="261.45" x2="261.45" y1="526.08" y2="532.9" stroke="#a2a5a8" stroke-width="2.7" stroke-linecap="round"/><line x1="261.45" x2="261.45" y1="532.9" y2="540.8" stroke="#cd6f6d" stroke-width="2.7"/>
<rect x="264.08" y="540.5" width="4.15" height="3.6" fill="#e52a28"/><line x1="266.15" x2="266.15" y1="538.78" y2="540.5" stroke="#a2a5a8" stroke-width="2.7" stroke-linecap="round"/><line x1="266.15" x2="266.15" y1="540.5" y2="543.3" stroke="#cd6f6d" stroke-width="2.7"/>
<rect x="268.78" y="539.3" width="4.15" height="4.8" fill="#e52a28"/><line x1="270.85" x2="270.85" y1="534.58" y2="539.3" stroke="#a2a5a8" stroke-width="2.7" stroke-linecap="round"/><line x1="270.85" x2="270.85" y1="539.3" y2="544.7" stroke="#cd6f6d" stroke-width="2.7"/>
<rect x="273.48" y="542.4" width="4.15" height="1.7" fill="#e52a28"/><line x1="275.55" x2="275.55" y1="541.58" y2="542.4" stroke="#a2a5a8" stroke-width="2.7" stroke-linecap="round"/><line x1="275.55" x2="275.55" y1="542.4" y2="544.3" stroke="#cd6f6d" stroke-width="2.7"/>
<rect x="278.18" y="538.6" width="4.15" height="5.5" fill="#e52a28"/><line x1="280.25" x2="280.25" y1="536.28" y2="538.6" stroke="#a2a5a8" stroke-width="2.7" stroke-linecap="round"/><line x1="280.25" x2="280.25" y1="538.6" y2="542" stroke="#cd6f6d" stroke-width="2.7"/>
<rect x="282.88" y="518.2" width="4.15" height="25.9" fill="#e52a28"/><line x1="284.95" x2="284.95" y1="507.78" y2="518.2" stroke="#a2a5a8" stroke-width="2.7" stroke-linecap="round"/><line x1="284.95" x2="284.95" y1="518.2" y2="529.7" stroke="#cd6f6d" stroke-width="2.7"/>
<rect x="287.58" y="514.4" width="4.15" height="29.7" fill="#e52a28"/><line x1="289.65" x2="289.65" y1="505.68" y2="514.4" stroke="#a2a5a8" stroke-width="2.7" stroke-linecap="round"/><line x1="289.65" x2="289.65" y1="514.4" y2="524.2" stroke="#cd6f6d" stroke-width="2.7"/>
<rect x="292.28" y="526.5" width="4.15" height="17.6" fill="#e52a28"/><line x1="294.35" x2="294.35" y1="520.98" y2="526.5" stroke="#a2a5a8" stroke-width="2.7" stroke-linecap="round"/><line x1="294.35" x2="294.35" y1="526.5" y2="533.1" stroke="#cd6f6d" stroke-width="2.7"/>
<rect x="296.98" y="522.7" width="4.15" height="21.4" fill="#e52a28"/><line x1="299.05" x2="299.05" y1="512.88" y2="522.7" stroke="#a2a5a8" stroke-width="2.7" stroke-linecap="round"/><line x1="299.05" x2="299.05" y1="522.7" y2="533.6" stroke="#cd6f6d" stroke-width="2.7"/>
<rect x="304.48" y="525.9" width="4.15" height="18.2" fill="#cbcaca"/><line x1="306.55" x2="306.55" y1="520.18" y2="525.9" stroke="#a2a5a8" stroke-width="2.7" stroke-linecap="round"/><line x1="306.55" x2="306.55" y1="525.9" y2="532.7" stroke="#adadad" stroke-width="2.7"/>
<rect x="309.18" y="540.5" width="4.15" height="3.6" fill="#cbcaca"/><line x1="311.25" x2="311.25" y1="536.78" y2="540.5" stroke="#a2a5a8" stroke-width="2.7" stroke-linecap="round"/><line x1="311.25" x2="311.25" y1="540.5" y2="544.7" stroke="#adadad" stroke-width="2.7"/>
<rect x="313.88" y="540.5" width="4.15" height="3.6" fill="#cbcaca"/><line x1="315.95" x2="315.95" y1="537.18" y2="540.5" stroke="#a2a5a8" stroke-width="2.7" stroke-linecap="round"/><line x1="315.95" x2="315.95" y1="540.5" y2="544.7" stroke="#adadad" stroke-width="2.7"/>
<rect x="318.58" y="518.8" width="4.15" height="25.3" fill="#cbcaca"/><line x1="320.65" x2="320.65" y1="509.68" y2="518.8" stroke="#a2a5a8" stroke-width="2.7" stroke-linecap="round"/><line x1="320.65" x2="320.65" y1="518.8" y2="529" stroke="#adadad" stroke-width="2.7"/>
<rect x="323.28" y="541.2" width="4.15" height="2.9" fill="#cbcaca"/><line x1="325.35" x2="325.35" y1="538.78" y2="541.2" stroke="#a2a5a8" stroke-width="2.7" stroke-linecap="round"/><line x1="325.35" x2="325.35" y1="541.2" y2="544.7" stroke="#adadad" stroke-width="2.7"/>
<rect x="327.98" y="542.8" width="4.15" height="1.3" fill="#cbcaca"/><line x1="330.05" x2="330.05" y1="541.88" y2="542.8" stroke="#a2a5a8" stroke-width="2.7" stroke-linecap="round"/><line x1="330.05" x2="330.05" y1="542.8" y2="544.7" stroke="#adadad" stroke-width="2.7"/>
<rect x="332.68" y="542.4" width="4.15" height="1.7" fill="#cbcaca"/><line x1="334.75" x2="334.75" y1="541.58" y2="542.4" stroke="#a2a5a8" stroke-width="2.7" stroke-linecap="round"/><line x1="334.75" x2="334.75" y1="542.4" y2="544.3" stroke="#adadad" stroke-width="2.7"/>
<rect x="337.38" y="541.8" width="4.15" height="2.3" fill="#cbcaca"/><line x1="339.45" x2="339.45" y1="539.08" y2="541.8" stroke="#a2a5a8" stroke-width="2.7" stroke-linecap="round"/><line x1="339.45" x2="339.45" y1="541.8" y2="544.7" stroke="#adadad" stroke-width="2.7"/>
<rect x="342.08" y="539.3" width="4.15" height="4.8" fill="#cbcaca"/><line x1="344.15" x2="344.15" y1="534.98" y2="539.3" stroke="#a2a5a8" stroke-width="2.7" stroke-linecap="round"/><line x1="344.15" x2="344.15" y1="539.3" y2="544.7" stroke="#adadad" stroke-width="2.7"/>
<rect x="346.78" y="542.4" width="4.15" height="1.7" fill="#cbcaca"/><line x1="348.85" x2="348.85" y1="542.28" y2="542.4" stroke="#a2a5a8" stroke-width="2.7" stroke-linecap="round"/><line x1="348.85" x2="348.85" y1="542.4" y2="543.6" stroke="#adadad" stroke-width="2.7"/>
<rect x="351.48" y="542.1" width="4.15" height="2" fill="#cbcaca"/><line x1="353.55" x2="353.55" y1="540.98" y2="542.1" stroke="#a2a5a8" stroke-width="2.7" stroke-linecap="round"/><line x1="353.55" x2="353.55" y1="542.1" y2="544.3" stroke="#adadad" stroke-width="2.7"/>
<rect x="356.18" y="541.5" width="4.15" height="2.6" fill="#cbcaca"/><line x1="358.25" x2="358.25" y1="539.68" y2="541.5" stroke="#a2a5a8" stroke-width="2.7" stroke-linecap="round"/><line x1="358.25" x2="358.25" y1="541.5" y2="544.4" stroke="#adadad" stroke-width="2.7"/>
<rect x="360.88" y="529.7" width="4.15" height="14.4" fill="#cbcaca"/><line x1="362.95" x2="362.95" y1="521.88" y2="529.7" stroke="#a2a5a8" stroke-width="2.7" stroke-linecap="round"/><line x1="362.95" x2="362.95" y1="529.7" y2="538.6" stroke="#adadad" stroke-width="2.7"/>
<rect x="365.58" y="538" width="4.15" height="6.1" fill="#cbcaca"/><line x1="367.65" x2="367.65" y1="534.98" y2="538" stroke="#a2a5a8" stroke-width="2.7" stroke-linecap="round"/><line x1="367.65" x2="367.65" y1="538" y2="542.1" stroke="#adadad" stroke-width="2.7"/>
<rect x="370.28" y="538.6" width="4.15" height="5.5" fill="#cbcaca"/><line x1="372.35" x2="372.35" y1="534.98" y2="538.6" stroke="#a2a5a8" stroke-width="2.7" stroke-linecap="round"/><line x1="372.35" x2="372.35" y1="538.6" y2="543.3" stroke="#adadad" stroke-width="2.7"/>
<rect x="374.98" y="538" width="4.15" height="6.1" fill="#cbcaca"/><line x1="377.05" x2="377.05" y1="533.98" y2="538" stroke="#a2a5a8" stroke-width="2.7" stroke-linecap="round"/><line x1="377.05" x2="377.05" y1="538" y2="543.1" stroke="#adadad" stroke-width="2.7"/>
<rect x="382.48" y="526.5" width="4.15" height="17.6" fill="#a2d063"/><line x1="384.55" x2="384.55" y1="518.88" y2="526.5" stroke="#a2a5a8" stroke-width="2.7" stroke-linecap="round"/><line x1="384.55" x2="384.55" y1="526.5" y2="535.2" stroke="#a1b08e" stroke-width="2.7"/>
<rect x="387.18" y="536.1" width="4.15" height="8" fill="#a2d063"/><line x1="389.25" x2="389.25" y1="531.68" y2="536.1" stroke="#a2a5a8" stroke-width="2.7" stroke-linecap="round"/><line x1="389.25" x2="389.25" y1="536.1" y2="541.6" stroke="#a1b08e" stroke-width="2.7"/>
<rect x="391.88" y="539.9" width="4.15" height="4.2" fill="#a2d063"/><line x1="393.95" x2="393.95" y1="536.78" y2="539.9" stroke="#a2a5a8" stroke-width="2.7" stroke-linecap="round"/><line x1="393.95" x2="393.95" y1="539.9" y2="544.1" stroke="#a1b08e" stroke-width="2.7"/>
<rect x="396.58" y="506.7" width="4.15" height="37.4" fill="#a2d063"/><line x1="398.65" x2="398.65" y1="496.98" y2="506.7" stroke="#a2a5a8" stroke-width="2.7" stroke-linecap="round"/><line x1="398.65" x2="398.65" y1="506.7" y2="517.5" stroke="#a1b08e" stroke-width="2.7"/>
<rect x="401.28" y="538.6" width="4.15" height="5.5" fill="#a2d063"/><line x1="403.35" x2="403.35" y1="535.88" y2="538.6" stroke="#a2a5a8" stroke-width="2.7" stroke-linecap="round"/><line x1="403.35" x2="403.35" y1="538.6" y2="542.4" stroke="#a1b08e" stroke-width="2.7"/>
<rect x="405.98" y="540.5" width="4.15" height="3.6" fill="#a2d063"/><line x1="408.05" x2="408.05" y1="538.08" y2="540.5" stroke="#a2a5a8" stroke-width="2.7" stroke-linecap="round"/><line x1="408.05" x2="408.05" y1="540.5" y2="544" stroke="#a1b08e" stroke-width="2.7"/>
<rect x="410.68" y="539.3" width="4.15" height="4.8" fill="#a2d063"/><line x1="412.75" x2="412.75" y1="536.78" y2="539.3" stroke="#a2a5a8" stroke-width="2.7" stroke-linecap="round"/><line x1="412.75" x2="412.75" y1="539.3" y2="542.9" stroke="#a1b08e" stroke-width="2.7"/>
<rect x="415.38" y="537.7" width="4.15" height="6.4" fill="#a2d063"/><line x1="417.45" x2="417.45" y1="533.98" y2="537.7" stroke="#a2a5a8" stroke-width="2.7" stroke-linecap="round"/><line x1="417.45" x2="417.45" y1="537.7" y2="542.5" stroke="#a1b08e" stroke-width="2.7"/>
<rect x="420.08" y="542.4" width="4.15" height="1.7" fill="#a2d063"/><line x1="422.15" x2="422.15" y1="540.98" y2="542.4" stroke="#a2a5a8" stroke-width="2.7" stroke-linecap="round"/><line x1="422.15" x2="422.15" y1="542.4" y2="544.7" stroke="#a1b08e" stroke-width="2.7"/>
<rect x="424.78" y="541.8" width="4.15" height="2.3" fill="#a2d063"/><line x1="426.85" x2="426.85" y1="540.08" y2="541.8" stroke="#a2a5a8" stroke-width="2.7" stroke-linecap="round"/><line x1="426.85" x2="426.85" y1="541.8" y2="544.6" stroke="#a1b08e" stroke-width="2.7"/>
<rect x="429.48" y="542.4" width="4.15" height="1.7" fill="#a2d063"/><line x1="431.55" x2="431.55" y1="541.58" y2="542.4" stroke="#a2a5a8" stroke-width="2.7" stroke-linecap="round"/><line x1="431.55" x2="431.55" y1="542.4" y2="544.3" stroke="#a1b08e" stroke-width="2.7"/>
<rect x="434.18" y="541.2" width="4.15" height="2.9" fill="#a2d063"/><line x1="436.25" x2="436.25" y1="538.78" y2="541.2" stroke="#a2a5a8" stroke-width="2.7" stroke-linecap="round"/><line x1="436.25" x2="436.25" y1="541.2" y2="544.7" stroke="#a1b08e" stroke-width="2.7"/>
<rect x="438.88" y="507.4" width="4.15" height="36.7" fill="#a2d063"/><line x1="440.95" x2="440.95" y1="495.98" y2="507.4" stroke="#a2a5a8" stroke-width="2.7" stroke-linecap="round"/><line x1="440.95" x2="440.95" y1="507.4" y2="519.9" stroke="#a1b08e" stroke-width="2.7"/>
<rect x="443.58" y="529.7" width="4.15" height="14.4" fill="#a2d063"/><line x1="445.65" x2="445.65" y1="524.78" y2="529.7" stroke="#a2a5a8" stroke-width="2.7" stroke-linecap="round"/><line x1="445.65" x2="445.65" y1="529.7" y2="535.7" stroke="#a1b08e" stroke-width="2.7"/>
<rect x="448.28" y="526.5" width="4.15" height="17.6" fill="#a2d063"/><line x1="450.35" x2="450.35" y1="519.68" y2="526.5" stroke="#a2a5a8" stroke-width="2.7" stroke-linecap="round"/><line x1="450.35" x2="450.35" y1="526.5" y2="534.4" stroke="#a1b08e" stroke-width="2.7"/>
<rect x="452.98" y="525.9" width="4.15" height="18.2" fill="#a2d063"/><line x1="455.05" x2="455.05" y1="517.98" y2="525.9" stroke="#a2a5a8" stroke-width="2.7" stroke-linecap="round"/><line x1="455.05" x2="455.05" y1="525.9" y2="534.9" stroke="#a1b08e" stroke-width="2.7"/>
<rect x="460.48" y="539.9" width="4.15" height="4.2" fill="#eec9c6"/><line x1="462.55" x2="462.55" y1="535.88" y2="539.9" stroke="#a2a5a8" stroke-width="2.7" stroke-linecap="round"/><line x1="462.55" x2="462.55" y1="539.9" y2="544.7" stroke="#b9adac" stroke-width="2.7"/>
<rect x="465.18" y="541.8" width="4.15" height="2.3" fill="#eec9c6"/><line x1="467.25" x2="467.25" y1="539.08" y2="541.8" stroke="#a2a5a8" stroke-width="2.7" stroke-linecap="round"/><line x1="467.25" x2="467.25" y1="541.8" y2="544.7" stroke="#b9adac" stroke-width="2.7"/>
<rect x="469.88" y="541.2" width="4.15" height="2.9" fill="#eec9c6"/><line x1="471.95" x2="471.95" y1="539.68" y2="541.2" stroke="#a2a5a8" stroke-width="2.7" stroke-linecap="round"/><line x1="471.95" x2="471.95" y1="541.2" y2="543.8" stroke="#b9adac" stroke-width="2.7"/>
<rect x="474.58" y="538.6" width="4.15" height="5.5" fill="#eec9c6"/><line x1="476.65" x2="476.65" y1="533.98" y2="538.6" stroke="#a2a5a8" stroke-width="2.7" stroke-linecap="round"/><line x1="476.65" x2="476.65" y1="538.6" y2="544.3" stroke="#b9adac" stroke-width="2.7"/>
<rect x="479.28" y="542.1" width="4.15" height="2" fill="#eec9c6"/><line x1="481.35" x2="481.35" y1="539.68" y2="542.1" stroke="#a2a5a8" stroke-width="2.7" stroke-linecap="round"/><line x1="481.35" x2="481.35" y1="542.1" y2="544.7" stroke="#b9adac" stroke-width="2.7"/>
<rect x="483.98" y="541.5" width="4.15" height="2.6" fill="#eec9c6"/><line x1="486.05" x2="486.05" y1="538.78" y2="541.5" stroke="#a2a5a8" stroke-width="2.7" stroke-linecap="round"/><line x1="486.05" x2="486.05" y1="541.5" y2="544.7" stroke="#b9adac" stroke-width="2.7"/>
<rect x="488.68" y="541.2" width="4.15" height="2.9" fill="#eec9c6"/><line x1="490.75" x2="490.75" y1="538.78" y2="541.2" stroke="#a2a5a8" stroke-width="2.7" stroke-linecap="round"/><line x1="490.75" x2="490.75" y1="541.2" y2="544.7" stroke="#b9adac" stroke-width="2.7"/>
<rect x="493.38" y="541.2" width="4.15" height="2.9" fill="#eec9c6"/><line x1="495.45" x2="495.45" y1="538.78" y2="541.2" stroke="#a2a5a8" stroke-width="2.7" stroke-linecap="round"/><line x1="495.45" x2="495.45" y1="541.2" y2="544.7" stroke="#b9adac" stroke-width="2.7"/>
<rect x="498.08" y="541.2" width="4.15" height="2.9" fill="#eec9c6"/><line x1="500.15" x2="500.15" y1="538.78" y2="541.2" stroke="#a2a5a8" stroke-width="2.7" stroke-linecap="round"/><line x1="500.15" x2="500.15" y1="541.2" y2="544.7" stroke="#b9adac" stroke-width="2.7"/>
<rect x="502.78" y="542.4" width="4.15" height="1.7" fill="#eec9c6"/><line x1="504.85" x2="504.85" y1="540.98" y2="542.4" stroke="#a2a5a8" stroke-width="2.7" stroke-linecap="round"/><line x1="504.85" x2="504.85" y1="542.4" y2="544.7" stroke="#b9adac" stroke-width="2.7"/>
<rect x="507.48" y="542.4" width="4.15" height="1.7" fill="#eec9c6"/><line x1="509.55" x2="509.55" y1="540.98" y2="542.4" stroke="#a2a5a8" stroke-width="2.7" stroke-linecap="round"/><line x1="509.55" x2="509.55" y1="542.4" y2="544.7" stroke="#b9adac" stroke-width="2.7"/>
<rect x="512.17" y="541.8" width="4.15" height="2.3" fill="#eec9c6"/><line x1="514.25" x2="514.25" y1="539.68" y2="541.8" stroke="#a2a5a8" stroke-width="2.7" stroke-linecap="round"/><line x1="514.25" x2="514.25" y1="541.8" y2="544.7" stroke="#b9adac" stroke-width="2.7"/>
<rect x="516.88" y="534.2" width="4.15" height="9.9" fill="#eec9c6"/><line x1="518.95" x2="518.95" y1="529.88" y2="534.2" stroke="#a2a5a8" stroke-width="2.7" stroke-linecap="round"/><line x1="518.95" x2="518.95" y1="534.2" y2="539.6" stroke="#b9adac" stroke-width="2.7"/>
<rect x="521.57" y="539.9" width="4.15" height="4.2" fill="#eec9c6"/><line x1="523.65" x2="523.65" y1="535.88" y2="539.9" stroke="#a2a5a8" stroke-width="2.7" stroke-linecap="round"/><line x1="523.65" x2="523.65" y1="539.9" y2="544.7" stroke="#b9adac" stroke-width="2.7"/>
<rect x="526.27" y="539.9" width="4.15" height="4.2" fill="#eec9c6"/><line x1="528.35" x2="528.35" y1="534.58" y2="539.9" stroke="#a2a5a8" stroke-width="2.7" stroke-linecap="round"/><line x1="528.35" x2="528.35" y1="539.9" y2="544.7" stroke="#b9adac" stroke-width="2.7"/>
<rect x="530.97" y="534.2" width="4.15" height="9.9" fill="#eec9c6"/><line x1="533.05" x2="533.05" y1="528.58" y2="534.2" stroke="#a2a5a8" stroke-width="2.7" stroke-linecap="round"/><line x1="533.05" x2="533.05" y1="534.2" y2="540.9" stroke="#b9adac" stroke-width="2.7"/>
</g>
<g>
<rect x="553.8" y="522.4" width="8" height="21.7" fill="#b0242f"/><line x1="557.8" x2="557.8" y1="513.82" y2="522.4" stroke="#a2a5a8" stroke-width="2.3" stroke-linecap="round"/><line x1="557.8" x2="557.8" y1="522.4" y2="531.9" stroke="#d0a0a2" stroke-width="2.3"/>
<rect x="589" y="539.8" width="8" height="4.3" fill="#b0242f"/><line x1="593" x2="593" y1="537.82" y2="539.8" stroke="#a2a5a8" stroke-width="2.3" stroke-linecap="round"/><line x1="593" x2="593" y1="539.8" y2="542.7" stroke="#d0a0a2" stroke-width="2.3"/>
<rect x="617.75" y="537.7" width="9.3" height="6.4" fill="#80cdc1"/><line x1="622.4" x2="622.4" y1="532.22" y2="537.7" stroke="#a2a5a8" stroke-width="2.3" stroke-linecap="round"/><line x1="622.4" x2="622.4" y1="537.7" y2="544.1" stroke="#96aaa6" stroke-width="2.3"/>
<rect x="630.05" y="539.8" width="9.3" height="4.3" fill="#80cdc1"/><line x1="634.7" x2="634.7" y1="536.72" y2="539.8" stroke="#a2a5a8" stroke-width="2.3" stroke-linecap="round"/><line x1="634.7" x2="634.7" y1="539.8" y2="543.8" stroke="#96aaa6" stroke-width="2.3"/>
<rect x="642.35" y="540.9" width="9.3" height="3.2" fill="#80cdc1"/><line x1="647" x2="647" y1="538.82" y2="540.9" stroke="#a2a5a8" stroke-width="2.3" stroke-linecap="round"/><line x1="647" x2="647" y1="540.9" y2="543.9" stroke="#96aaa6" stroke-width="2.3"/>
<rect x="654.65" y="536.9" width="9.3" height="7.2" fill="#80cdc1"/><line x1="659.3" x2="659.3" y1="534.02" y2="536.9" stroke="#a2a5a8" stroke-width="2.3" stroke-linecap="round"/><line x1="659.3" x2="659.3" y1="536.9" y2="540.7" stroke="#96aaa6" stroke-width="2.3"/>
<rect x="666.95" y="535.8" width="9.3" height="8.3" fill="#80cdc1"/><line x1="671.6" x2="671.6" y1="531.82" y2="535.8" stroke="#a2a5a8" stroke-width="2.3" stroke-linecap="round"/><line x1="671.6" x2="671.6" y1="535.8" y2="540.7" stroke="#96aaa6" stroke-width="2.3"/>
<rect x="679.25" y="528.4" width="9.3" height="15.7" fill="#80cdc1"/><line x1="683.9" x2="683.9" y1="519.72" y2="528.4" stroke="#a2a5a8" stroke-width="2.3" stroke-linecap="round"/><line x1="683.9" x2="683.9" y1="528.4" y2="538" stroke="#96aaa6" stroke-width="2.3"/>
<rect x="710.2" y="540.9" width="7.8" height="3.2" fill="#f4f4b4"/><line x1="714.1" x2="714.1" y1="538.82" y2="540.9" stroke="#a2a5a8" stroke-width="2.3" stroke-linecap="round"/><line x1="714.1" x2="714.1" y1="540.9" y2="543.9" stroke="#bcbca4" stroke-width="2.3"/>
<rect x="744.7" y="539.6" width="7.8" height="4.5" fill="#f4f4b4"/><line x1="748.6" x2="748.6" y1="536.92" y2="539.6" stroke="#a2a5a8" stroke-width="2.3" stroke-linecap="round"/><line x1="748.6" x2="748.6" y1="539.6" y2="543.2" stroke="#bcbca4" stroke-width="2.3"/>
<rect x="773.9" y="534.3" width="9" height="9.8" fill="#b2abd2"/><line x1="778.4" x2="778.4" y1="526.92" y2="534.3" stroke="#a2a5a8" stroke-width="2.3" stroke-linecap="round"/><line x1="778.4" x2="778.4" y1="534.3" y2="542.6" stroke="#a6a4b2" stroke-width="2.3"/>
<rect x="786.2" y="540.3" width="9" height="3.8" fill="#b2abd2"/><line x1="790.7" x2="790.7" y1="538.62" y2="540.3" stroke="#a2a5a8" stroke-width="2.3" stroke-linecap="round"/><line x1="790.7" x2="790.7" y1="540.3" y2="542.9" stroke="#a6a4b2" stroke-width="2.3"/>
<rect x="798.5" y="539.6" width="9" height="4.5" fill="#b2abd2"/><line x1="803" x2="803" y1="536.92" y2="539.6" stroke="#a2a5a8" stroke-width="2.3" stroke-linecap="round"/><line x1="803" x2="803" y1="539.6" y2="543.2" stroke="#a6a4b2" stroke-width="2.3"/>
<rect x="810.8" y="538.8" width="9" height="5.3" fill="#b2abd2"/><line x1="815.3" x2="815.3" y1="536.52" y2="538.8" stroke="#a2a5a8" stroke-width="2.3" stroke-linecap="round"/><line x1="815.3" x2="815.3" y1="538.8" y2="542" stroke="#a6a4b2" stroke-width="2.3"/>
<rect x="823.1" y="540.3" width="9" height="3.8" fill="#b2abd2"/><line x1="827.6" x2="827.6" y1="538.02" y2="540.3" stroke="#a2a5a8" stroke-width="2.3" stroke-linecap="round"/><line x1="827.6" x2="827.6" y1="540.3" y2="543.5" stroke="#a6a4b2" stroke-width="2.3"/>
<rect x="835.4" y="542.8" width="9" height="1.3" fill="#b2abd2"/><line x1="839.9" x2="839.9" y1="541.82" y2="542.8" stroke="#a2a5a8" stroke-width="2.3" stroke-linecap="round"/><line x1="839.9" x2="839.9" y1="542.8" y2="544.7" stroke="#a6a4b2" stroke-width="2.3"/>
<rect x="851" y="540.3" width="8.6" height="4.4" fill="#7b2a8c"/><line x1="855.3" x2="855.3" y1="539.52" y2="540.3" stroke="#a2a5a8" stroke-width="2.3" stroke-linecap="round"/><line x1="855.3" x2="855.3" y1="540.3" y2="542" stroke="#c4a2cb" stroke-width="2.3"/>
<rect x="861.65" y="537.7" width="8.6" height="7" fill="#7b2a8c"/><line x1="865.95" x2="865.95" y1="535.42" y2="537.7" stroke="#a2a5a8" stroke-width="2.3" stroke-linecap="round"/><line x1="865.95" x2="865.95" y1="537.7" y2="540.9" stroke="#c4a2cb" stroke-width="2.3"/>
<rect x="872.3" y="541.8" width="8.6" height="2.9" fill="#7b2a8c"/><line x1="876.6" x2="876.6" y1="540.52" y2="541.8" stroke="#a2a5a8" stroke-width="2.3" stroke-linecap="round"/><line x1="876.6" x2="876.6" y1="541.8" y2="544" stroke="#c4a2cb" stroke-width="2.3"/>
<rect x="882.95" y="542.8" width="8.6" height="1.9" fill="#7b2a8c"/><line x1="887.25" x2="887.25" y1="541.82" y2="542.8" stroke="#a2a5a8" stroke-width="2.3" stroke-linecap="round"/><line x1="887.25" x2="887.25" y1="542.8" y2="544.7" stroke="#c4a2cb" stroke-width="2.3"/>
<rect x="893.6" y="542.8" width="8.6" height="1.9" fill="#7b2a8c"/><line x1="897.9" x2="897.9" y1="542.22" y2="542.8" stroke="#a2a5a8" stroke-width="2.3" stroke-linecap="round"/><line x1="897.9" x2="897.9" y1="542.8" y2="544.3" stroke="#c4a2cb" stroke-width="2.3"/>
<rect x="904.25" y="542.8" width="8.6" height="1.9" fill="#7b2a8c"/><line x1="908.55" x2="908.55" y1="542.72" y2="542.8" stroke="#a2a5a8" stroke-width="2.3" stroke-linecap="round"/><line x1="908.55" x2="908.55" y1="542.8" y2="543.8" stroke="#c4a2cb" stroke-width="2.3"/>
<rect x="914.9" y="542.8" width="8.6" height="1.9" fill="#7b2a8c"/><line x1="919.2" x2="919.2" y1="542.22" y2="542.8" stroke="#a2a5a8" stroke-width="2.3" stroke-linecap="round"/><line x1="919.2" x2="919.2" y1="542.8" y2="544.3" stroke="#c4a2cb" stroke-width="2.3"/>
</g>
<g fill="#111">
<rect x="71.2" y="547.2" width="2.7" height="3.5"/>
<rect x="75.9" y="547.2" width="2.7" height="3.5"/>
<rect x="80.6" y="547.2" width="2.7" height="3.5"/>
<rect x="85.3" y="547.2" width="2.7" height="3.5"/>
<rect x="90" y="547.2" width="2.7" height="3.5"/>
<rect x="94.7" y="547.2" width="2.7" height="3.5"/>
<rect x="99.4" y="547.2" width="2.7" height="3.5"/>
<rect x="104.1" y="547.2" width="2.7" height="3.5"/>
<rect x="108.8" y="547.2" width="2.7" height="3.5"/>
<rect x="113.5" y="547.2" width="2.7" height="3.5"/>
<rect x="118.2" y="547.2" width="2.7" height="3.5"/>
<rect x="122.9" y="547.2" width="2.7" height="3.5"/>
<rect x="127.6" y="547.2" width="2.7" height="3.5"/>
<rect x="132.3" y="547.2" width="2.7" height="3.5"/>
<rect x="137" y="547.2" width="2.7" height="3.5"/>
<rect x="141.7" y="547.2" width="2.7" height="3.5"/>
<rect x="149.2" y="547.2" width="2.7" height="3.5"/>
<rect x="153.9" y="547.2" width="2.7" height="3.5"/>
<rect x="158.6" y="547.2" width="2.7" height="3.5"/>
<rect x="163.3" y="547.2" width="2.7" height="3.5"/>
<rect x="168" y="547.2" width="2.7" height="3.5"/>
<rect x="172.7" y="547.2" width="2.7" height="3.5"/>
<rect x="177.4" y="547.2" width="2.7" height="3.5"/>
<rect x="182.1" y="547.2" width="2.7" height="3.5"/>
<rect x="186.8" y="547.2" width="2.7" height="3.5"/>
<rect x="191.5" y="547.2" width="2.7" height="3.5"/>
<rect x="196.2" y="547.2" width="2.7" height="3.5"/>
<rect x="200.9" y="547.2" width="2.7" height="3.5"/>
<rect x="205.6" y="547.2" width="2.7" height="3.5"/>
<rect x="210.3" y="547.2" width="2.7" height="3.5"/>
<rect x="215" y="547.2" width="2.7" height="3.5"/>
<rect x="219.7" y="547.2" width="2.7" height="3.5"/>
<rect x="227.2" y="547.2" width="2.7" height="3.5"/>
<rect x="231.9" y="547.2" width="2.7" height="3.5"/>
<rect x="236.6" y="547.2" width="2.7" height="3.5"/>
<rect x="241.3" y="547.2" width="2.7" height="3.5"/>
<rect x="246" y="547.2" width="2.7" height="3.5"/>
<rect x="250.7" y="547.2" width="2.7" height="3.5"/>
<rect x="255.4" y="547.2" width="2.7" height="3.5"/>
<rect x="260.1" y="547.2" width="2.7" height="3.5"/>
<rect x="264.8" y="547.2" width="2.7" height="3.5"/>
<rect x="269.5" y="547.2" width="2.7" height="3.5"/>
<rect x="274.2" y="547.2" width="2.7" height="3.5"/>
<rect x="278.9" y="547.2" width="2.7" height="3.5"/>
<rect x="283.6" y="547.2" width="2.7" height="3.5"/>
<rect x="288.3" y="547.2" width="2.7" height="3.5"/>
<rect x="293" y="547.2" width="2.7" height="3.5"/>
<rect x="297.7" y="547.2" width="2.7" height="3.5"/>
<rect x="305.2" y="547.2" width="2.7" height="3.5"/>
<rect x="309.9" y="547.2" width="2.7" height="3.5"/>
<rect x="314.6" y="547.2" width="2.7" height="3.5"/>
<rect x="319.3" y="547.2" width="2.7" height="3.5"/>
<rect x="324" y="547.2" width="2.7" height="3.5"/>
<rect x="328.7" y="547.2" width="2.7" height="3.5"/>
<rect x="333.4" y="547.2" width="2.7" height="3.5"/>
<rect x="338.1" y="547.2" width="2.7" height="3.5"/>
<rect x="342.8" y="547.2" width="2.7" height="3.5"/>
<rect x="347.5" y="547.2" width="2.7" height="3.5"/>
<rect x="352.2" y="547.2" width="2.7" height="3.5"/>
<rect x="356.9" y="547.2" width="2.7" height="3.5"/>
<rect x="361.6" y="547.2" width="2.7" height="3.5"/>
<rect x="366.3" y="547.2" width="2.7" height="3.5"/>
<rect x="371" y="547.2" width="2.7" height="3.5"/>
<rect x="375.7" y="547.2" width="2.7" height="3.5"/>
<rect x="383.2" y="547.2" width="2.7" height="3.5"/>
<rect x="387.9" y="547.2" width="2.7" height="3.5"/>
<rect x="392.6" y="547.2" width="2.7" height="3.5"/>
<rect x="397.3" y="547.2" width="2.7" height="3.5"/>
<rect x="402" y="547.2" width="2.7" height="3.5"/>
<rect x="406.7" y="547.2" width="2.7" height="3.5"/>
<rect x="411.4" y="547.2" width="2.7" height="3.5"/>
<rect x="416.1" y="547.2" width="2.7" height="3.5"/>
<rect x="420.8" y="547.2" width="2.7" height="3.5"/>
<rect x="425.5" y="547.2" width="2.7" height="3.5"/>
<rect x="430.2" y="547.2" width="2.7" height="3.5"/>
<rect x="434.9" y="547.2" width="2.7" height="3.5"/>
<rect x="439.6" y="547.2" width="2.7" height="3.5"/>
<rect x="444.3" y="547.2" width="2.7" height="3.5"/>
<rect x="449" y="547.2" width="2.7" height="3.5"/>
<rect x="453.7" y="547.2" width="2.7" height="3.5"/>
<rect x="461.2" y="547.2" width="2.7" height="3.5"/>
<rect x="465.9" y="547.2" width="2.7" height="3.5"/>
<rect x="470.6" y="547.2" width="2.7" height="3.5"/>
<rect x="475.3" y="547.2" width="2.7" height="3.5"/>
<rect x="480" y="547.2" width="2.7" height="3.5"/>
<rect x="484.7" y="547.2" width="2.7" height="3.5"/>
<rect x="489.4" y="547.2" width="2.7" height="3.5"/>
<rect x="494.1" y="547.2" width="2.7" height="3.5"/>
<rect x="498.8" y="547.2" width="2.7" height="3.5"/>
<rect x="503.5" y="547.2" width="2.7" height="3.5"/>
<rect x="508.2" y="547.2" width="2.7" height="3.5"/>
<rect x="512.9" y="547.2" width="2.7" height="3.5"/>
<rect x="517.6" y="547.2" width="2.7" height="3.5"/>
<rect x="522.3" y="547.2" width="2.7" height="3.5"/>
<rect x="527" y="547.2" width="2.7" height="3.5"/>
<rect x="531.7" y="547.2" width="2.7" height="3.5"/>
<rect x="556.6" y="547.2" width="2.4" height="3.5"/>
<rect x="591.8" y="547.2" width="2.4" height="3.5"/>
<rect x="621.2" y="547.2" width="2.4" height="3.5"/>
<rect x="633.5" y="547.2" width="2.4" height="3.5"/>
<rect x="645.8" y="547.2" width="2.4" height="3.5"/>
<rect x="658.1" y="547.2" width="2.4" height="3.5"/>
<rect x="670.4" y="547.2" width="2.4" height="3.5"/>
<rect x="682.7" y="547.2" width="2.4" height="3.5"/>
<rect x="712.9" y="547.2" width="2.4" height="3.5"/>
<rect x="747.4" y="547.2" width="2.4" height="3.5"/>
<rect x="777.2" y="547.2" width="2.4" height="3.5"/>
<rect x="789.5" y="547.2" width="2.4" height="3.5"/>
<rect x="801.8" y="547.2" width="2.4" height="3.5"/>
<rect x="814.1" y="547.2" width="2.4" height="3.5"/>
<rect x="826.4" y="547.2" width="2.4" height="3.5"/>
<rect x="838.7" y="547.2" width="2.4" height="3.5"/>
<rect x="854.1" y="547.2" width="2.4" height="3.5"/>
<rect x="864.75" y="547.2" width="2.4" height="3.5"/>
<rect x="875.4" y="547.2" width="2.4" height="3.5"/>
<rect x="886.05" y="547.2" width="2.4" height="3.5"/>
<rect x="896.7" y="547.2" width="2.4" height="3.5"/>
<rect x="907.35" y="547.2" width="2.4" height="3.5"/>
<rect x="918" y="547.2" width="2.4" height="3.5"/>
</g>
<g font-size="7.9" fill="#262626">
<text x="27.4" y="570.9">5' base</text>
<text x="27.4" y="581">3' base</text>
<line x1="32.2" x2="57" y1="573.2" y2="573.2" stroke="#333" stroke-width="0.8"/>
<text x="71.7" y="570.9" textLength="74.6" lengthAdjust="spacing">ACGTACGTACGTACGT</text>
<line x1="71.1" x2="147.1" y1="573.2" y2="573.2" stroke="#333" stroke-width="0.8"/>
<text x="80.3" y="581" text-anchor="middle">A</text>
<text x="99.4" y="581" text-anchor="middle">C</text>
<text x="118.5" y="581" text-anchor="middle">G</text>
<text x="137.6" y="581" text-anchor="middle">T</text>
<text x="149.7" y="570.9" textLength="74.6" lengthAdjust="spacing">ACGTACGTACGTACGT</text>
<line x1="149.1" x2="225.1" y1="573.2" y2="573.2" stroke="#333" stroke-width="0.8"/>
<text x="158.3" y="581" text-anchor="middle">A</text>
<text x="177.4" y="581" text-anchor="middle">C</text>
<text x="196.5" y="581" text-anchor="middle">G</text>
<text x="215.6" y="581" text-anchor="middle">T</text>
<text x="227.7" y="570.9" textLength="74.6" lengthAdjust="spacing">ACGTACGTACGTACGT</text>
<line x1="227.1" x2="303.1" y1="573.2" y2="573.2" stroke="#333" stroke-width="0.8"/>
<text x="236.3" y="581" text-anchor="middle">A</text>
<text x="255.4" y="581" text-anchor="middle">C</text>
<text x="274.5" y="581" text-anchor="middle">G</text>
<text x="293.6" y="581" text-anchor="middle">T</text>
<text x="305.7" y="570.9" textLength="74.6" lengthAdjust="spacing">ACGTACGTACGTACGT</text>
<line x1="305.1" x2="381.1" y1="573.2" y2="573.2" stroke="#333" stroke-width="0.8"/>
<text x="314.3" y="581" text-anchor="middle">A</text>
<text x="333.4" y="581" text-anchor="middle">C</text>
<text x="352.5" y="581" text-anchor="middle">G</text>
<text x="371.6" y="581" text-anchor="middle">T</text>
<text x="383.7" y="570.9" textLength="74.6" lengthAdjust="spacing">ACGTACGTACGTACGT</text>
<line x1="383.1" x2="459.1" y1="573.2" y2="573.2" stroke="#333" stroke-width="0.8"/>
<text x="392.3" y="581" text-anchor="middle">A</text>
<text x="411.4" y="581" text-anchor="middle">C</text>
<text x="430.5" y="581" text-anchor="middle">G</text>
<text x="449.6" y="581" text-anchor="middle">T</text>
<text x="461.7" y="570.9" textLength="74.6" lengthAdjust="spacing">ACGTACGTACGTACGT</text>
<line x1="461.1" x2="537.1" y1="573.2" y2="573.2" stroke="#333" stroke-width="0.8"/>
<text x="470.3" y="581" text-anchor="middle">A</text>
<text x="489.4" y="581" text-anchor="middle">C</text>
<text x="508.5" y="581" text-anchor="middle">G</text>
<text x="527.6" y="581" text-anchor="middle">T</text>
</g>
<g font-size="16.3" fill="#303030" text-anchor="end">
<text transform="translate(564,562.5) rotate(-90)">2bp</text>
<text transform="translate(599.2,562.5) rotate(-90)">>=3bp</text>
<text transform="translate(628.6,562.5) rotate(-90)">1 bp (in repeats)</text>
<text transform="translate(640.9,562.5) rotate(-90)">1 bp (non−rep.)</text>
<text transform="translate(653.2,562.5) rotate(-90)">2−5 bp (in repeats)</text>
<text transform="translate(665.5,562.5) rotate(-90)">2−5 bp (nonrep)</text>
<text transform="translate(677.8,562.5) rotate(-90)">6−50 bp</text>
<text transform="translate(690.1,562.5) rotate(-90)">over 50 bp</text>
<text transform="translate(720.3,562.5) rotate(-90)">1−49bp</text>
<text transform="translate(754.8,562.5) rotate(-90)">50−400bp</text>
<text transform="translate(784.6,562.5) rotate(-90)">1 bp (in repeats)</text>
<text transform="translate(796.9,562.5) rotate(-90)">1 bp (non−rep.)</text>
<text transform="translate(809.2,562.5) rotate(-90)">2−5 bp (in repeats)</text>
<text transform="translate(821.5,562.5) rotate(-90)">2−5 bp (nonrep)</text>
<text transform="translate(833.8,562.5) rotate(-90)">6−50 bp</text>
<text transform="translate(846.1,562.5) rotate(-90)">over 50 bp</text>
<text transform="translate(860.6,562.5) rotate(-90)">Tandem dup.</text>
<text transform="translate(871.25,562.5) rotate(-90)">Deletions</text>
<text transform="translate(881.9,562.5) rotate(-90)">Inversions</text>
<text transform="translate(892.55,562.5) rotate(-90)">Complex events</text>
<text transform="translate(903.2,562.5) rotate(-90)">Translocations</text>
<text transform="translate(913.85,562.5) rotate(-90)">Interchr. events</text>
<text transform="translate(924.5,562.5) rotate(-90)">Foldbacks</text>
</g>
</svg>
</body></html>
